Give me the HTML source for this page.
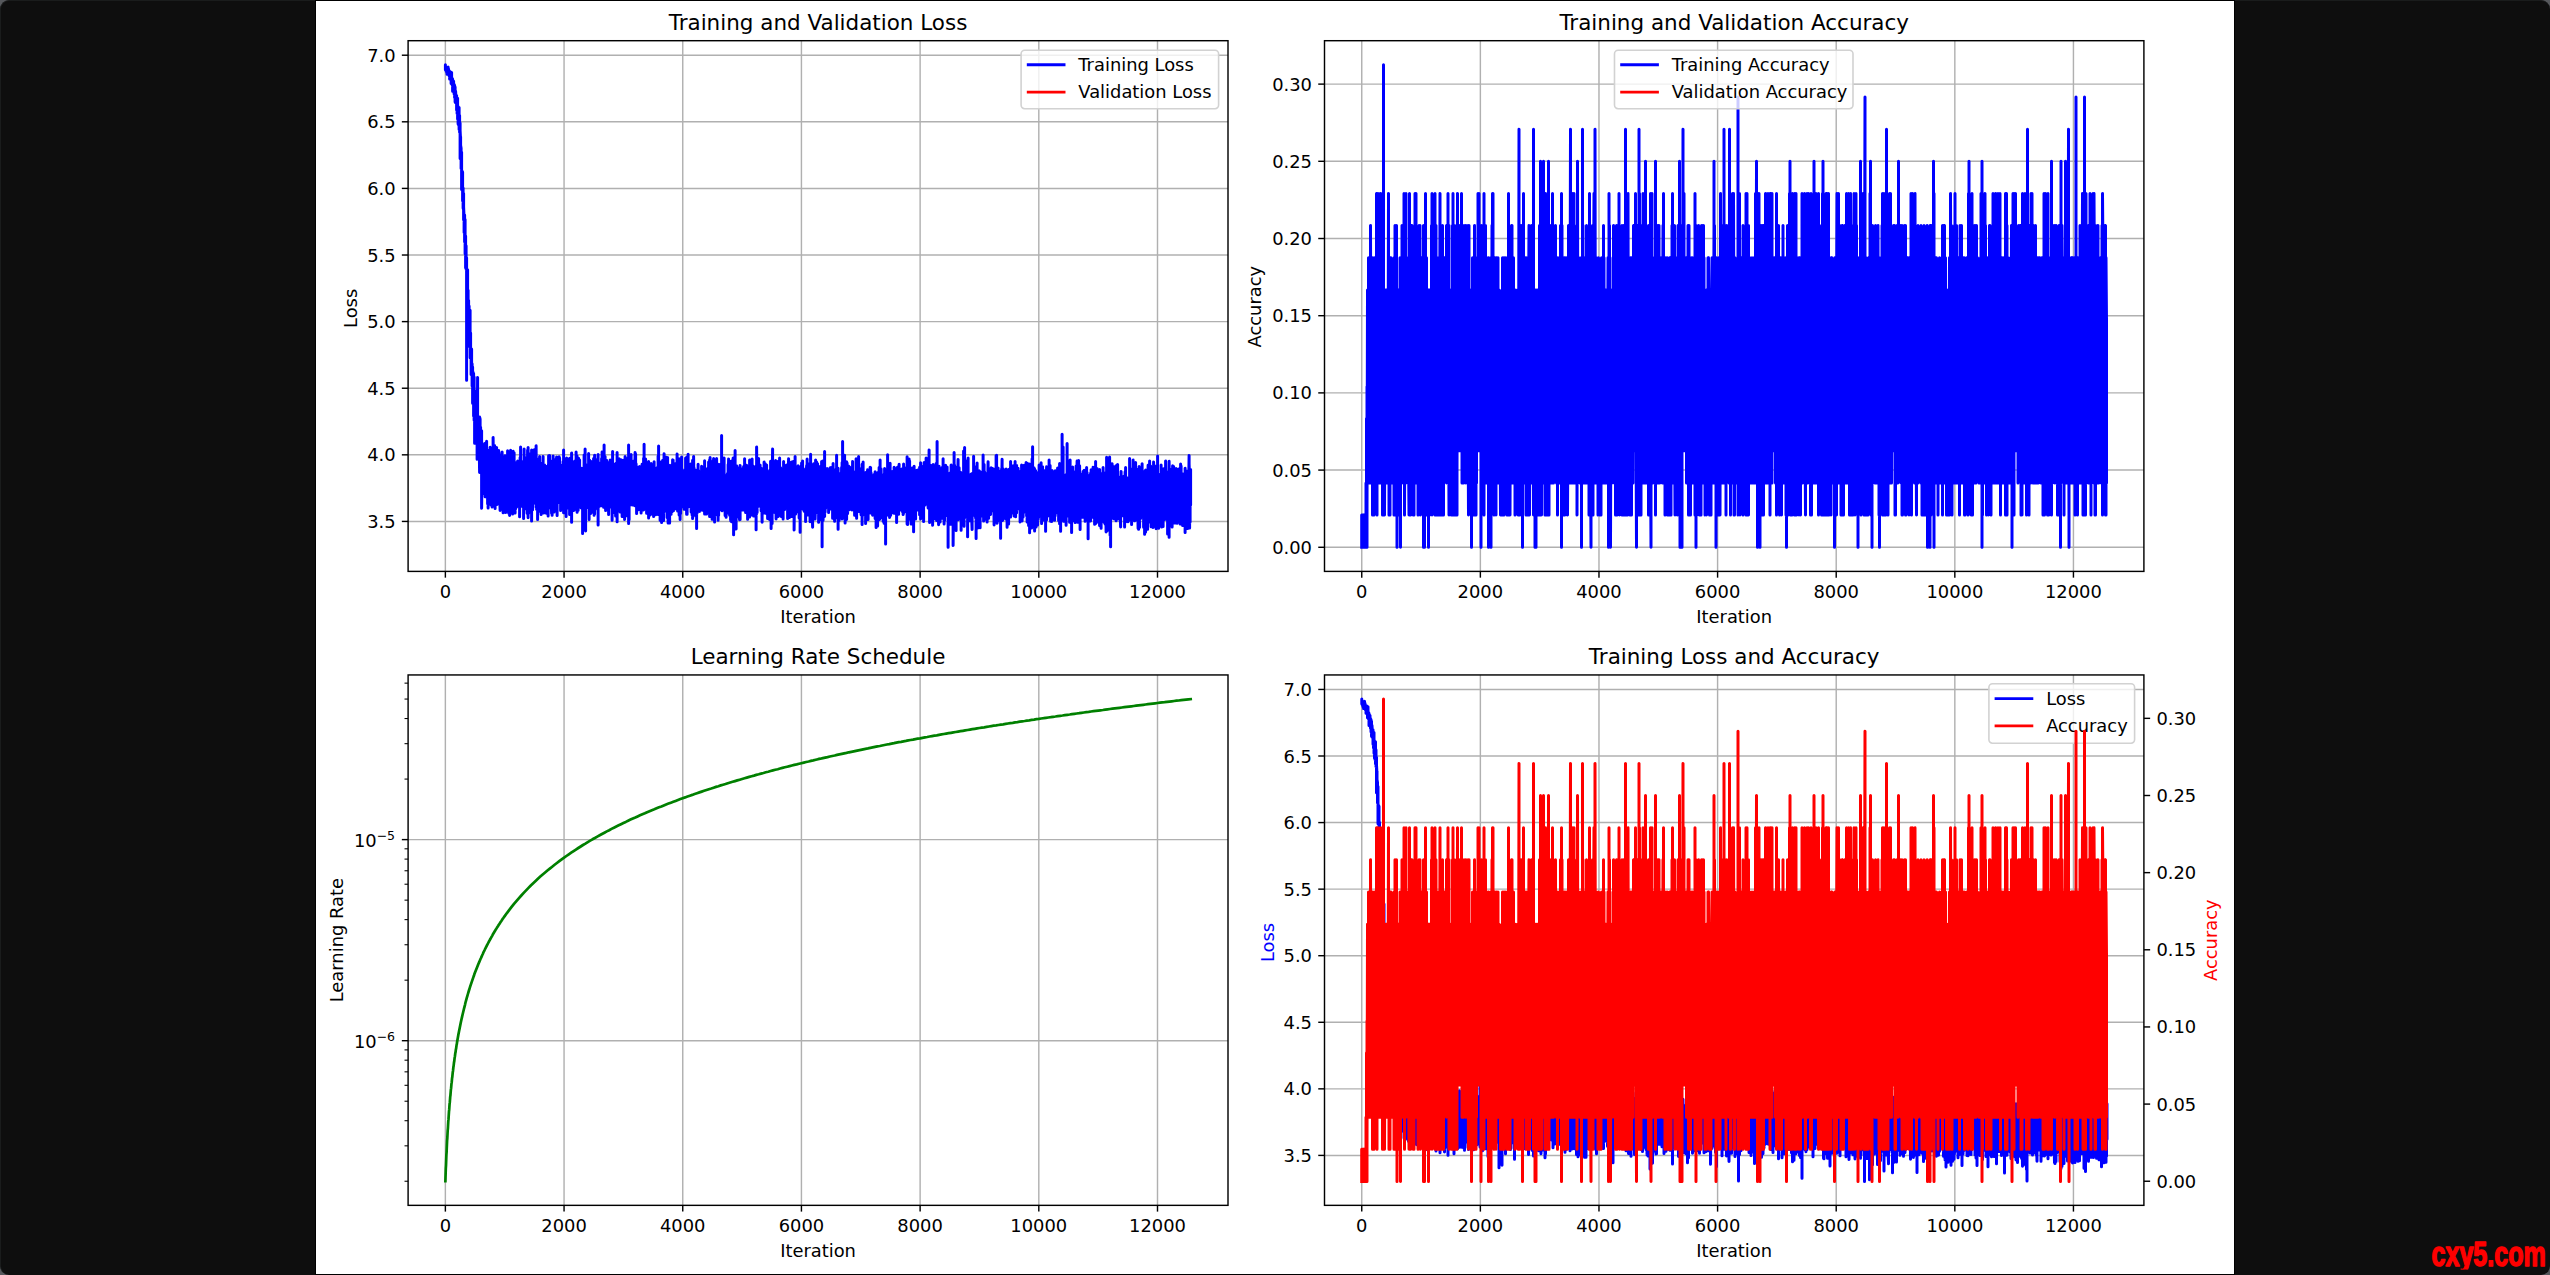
<!DOCTYPE html>
<html><head><meta charset="utf-8"><title>Training curves</title>
<style>
html,body{margin:0;padding:0;background:#56585c;}
body{width:2550px;height:1275px;overflow:hidden;position:relative;}
#win{position:absolute;left:0;top:0;width:2549px;height:1274px;background:#0e0e0e;border-top:1px solid #1a1c1c;border-left:1px solid #1a1c1c;border-radius:9px;}
#fig{position:absolute;left:315.7px;top:0.75px;width:1918.35px;height:1273.2px;background:#fff;box-shadow:0 0 0 1px #000;}
svg{position:absolute;left:0;top:0;}
svg text{font-family:'DejaVu Sans','Liberation Sans',sans-serif;}
</style></head><body>
<div id="win"></div>
<div id="fig"></div>
<svg width="2550" height="1275" viewBox="0 0 2550 1275">
<clipPath id="c1"><rect x="408.10" y="40.70" width="819.90" height="530.70"/></clipPath>
<clipPath id="c2"><rect x="1324.50" y="40.70" width="819.40" height="530.70"/></clipPath>
<clipPath id="c3"><rect x="408.10" y="674.95" width="819.90" height="530.40"/></clipPath>
<clipPath id="c4"><rect x="1324.50" y="674.95" width="819.40" height="530.40"/></clipPath>
<clipPath id="cw"><rect x="0" y="-60" width="400" height="63.7"/></clipPath>
<path d="M445.37,40.70V571.40" stroke="#b0b0b0" stroke-width="1.43"/>
<path d="M564.06,40.70V571.40" stroke="#b0b0b0" stroke-width="1.43"/>
<path d="M682.75,40.70V571.40" stroke="#b0b0b0" stroke-width="1.43"/>
<path d="M801.43,40.70V571.40" stroke="#b0b0b0" stroke-width="1.43"/>
<path d="M920.12,40.70V571.40" stroke="#b0b0b0" stroke-width="1.43"/>
<path d="M1038.81,40.70V571.40" stroke="#b0b0b0" stroke-width="1.43"/>
<path d="M1157.50,40.70V571.40" stroke="#b0b0b0" stroke-width="1.43"/>
<path d="M408.10,521.43H1228.00" stroke="#b0b0b0" stroke-width="1.43"/>
<path d="M408.10,454.83H1228.00" stroke="#b0b0b0" stroke-width="1.43"/>
<path d="M408.10,388.23H1228.00" stroke="#b0b0b0" stroke-width="1.43"/>
<path d="M408.10,321.62H1228.00" stroke="#b0b0b0" stroke-width="1.43"/>
<path d="M408.10,255.02H1228.00" stroke="#b0b0b0" stroke-width="1.43"/>
<path d="M408.10,188.41H1228.00" stroke="#b0b0b0" stroke-width="1.43"/>
<path d="M408.10,121.81H1228.00" stroke="#b0b0b0" stroke-width="1.43"/>
<path d="M408.10,55.21H1228.00" stroke="#b0b0b0" stroke-width="1.43"/>
<defs><path id="pl" d="M445.4,66.2 445.4,64.8 445.4,69.8 445.4,69.2 446.1,69.5 446.1,67.6 446.1,71.3 446.6,69.8 446.6,72.5 446.6,68.9 446.6,69.9 447.1,74.3 447.1,69.6 447.1,71.6 447.6,68.0 447.6,73.2 448.1,70.6 448.1,74.1 448.1,66.9 448.1,69.6 448.6,73.9 448.6,69.1 449.1,74.0 449.1,75.7 449.1,71.0 449.6,76.8 449.6,78.9 449.6,71.6 449.6,73.1 450.1,75.7 450.1,71.6 450.1,76.5 450.6,79.0 450.6,73.7 450.6,78.1 451.1,74.6 451.1,83.6 451.1,80.9 451.6,78.2 451.6,72.6 451.6,81.2 451.6,80.5 452.1,78.1 452.1,84.7 452.1,84.6 452.6,79.1 452.6,91.3 453.1,81.6 453.1,91.4 453.1,81.7 453.6,81.2 453.6,91.4 454.1,91.1 454.1,93.9 454.1,84.3 454.1,91.7 454.6,92.9 454.6,97.4 454.6,85.2 454.6,97.2 455.1,91.5 455.1,87.1 455.1,102.0 455.1,94.8 455.6,94.6 455.6,102.8 455.6,91.3 456.1,100.3 456.1,101.9 456.1,96.8 456.1,100.9 456.6,95.6 456.6,110.0 456.6,104.9 457.1,101.8 457.1,98.5 457.1,113.6 457.1,105.0 457.6,103.4 457.6,98.3 457.6,119.0 457.6,110.9 458.1,106.5 458.1,124.0 458.1,123.2 458.6,115.7 458.6,125.3 458.6,112.9 458.6,121.5 459.1,124.0 459.1,107.6 459.1,129.4 459.6,115.4 459.6,132.3 459.6,131.2 460.1,123.1 460.1,158.5 460.1,130.5 460.6,140.3 460.6,149.8 460.6,136.8 460.6,145.2 461.1,148.2 461.1,168.4 461.1,161.7 461.6,162.1 461.6,152.3 461.6,189.6 461.6,170.3 462.1,173.8 462.1,183.7 462.1,170.9 462.1,182.2 462.6,172.1 462.6,200.7 462.6,187.1 463.1,192.6 463.1,188.1 463.1,208.0 463.6,209.7 463.6,193.6 463.6,219.7 463.6,206.7 464.1,217.9 464.1,232.5 464.1,216.5 464.1,231.1 464.6,221.5 464.6,215.0 464.6,241.8 464.6,231.1 465.1,219.6 465.1,253.8 465.6,238.4 465.6,235.9 465.6,267.7 466.1,256.9 466.1,245.7 466.1,269.3 466.1,267.1 466.6,264.6 466.6,380.2 466.6,257.8 466.6,270.3 467.1,276.2 467.1,297.6 467.1,274.7 467.1,286.1 467.6,301.4 467.6,269.7 467.6,304.6 467.6,295.5 468.1,297.8 468.1,310.3 468.1,290.3 468.1,308.6 468.6,300.4 468.6,324.7 468.6,315.1 469.1,312.3 469.1,305.9 469.1,333.3 469.1,321.1 469.6,336.0 469.6,347.0 469.6,316.1 469.6,318.2 470.1,336.3 470.1,310.3 470.1,357.7 470.6,345.8 470.6,333.0 470.6,357.8 470.6,353.9 471.1,350.8 471.1,348.4 471.1,374.5 471.6,359.6 471.6,349.1 471.6,374.1 471.6,362.9 472.1,370.4 472.1,363.8 472.1,386.0 472.1,376.4 472.6,375.8 472.6,367.0 472.6,403.2 472.6,384.5 473.1,372.3 473.1,402.5 473.1,398.3 473.6,384.1 473.6,416.0 473.6,373.5 473.6,394.0 474.1,398.0 474.1,377.1 474.1,420.2 474.1,419.2 474.6,394.7 474.6,390.5 474.6,443.3 474.6,423.3 475.1,397.7 475.1,431.7 475.1,396.1 475.1,419.8 475.6,426.3 475.6,440.0 475.6,417.1 475.6,419.6 476.1,419.7 476.1,395.6 476.1,432.6 476.1,424.0 476.6,437.6 476.6,416.1 476.6,439.3 476.6,430.4 477.1,435.0 477.1,425.1 477.1,459.3 477.6,377.6 477.6,446.2 477.6,440.9 478.1,432.6 478.1,427.6 478.1,457.4 478.1,429.2 478.6,432.3 478.6,444.9 478.6,428.1 478.6,434.2 479.1,457.4 479.1,422.0 479.1,458.9 479.1,440.5 479.6,472.5 479.6,417.0 480.1,419.1 480.1,457.4 480.1,439.5 480.6,427.8 480.6,451.4 480.6,427.2 480.6,436.9 481.1,455.2 481.1,434.2 481.1,464.9 481.1,450.4 481.6,454.0 481.6,430.8 481.6,508.3 482.1,472.6 482.1,448.0 482.1,460.7 482.6,478.8 482.6,445.1 482.6,453.7 483.1,472.4 483.1,452.1 483.1,492.9 483.1,484.9 483.6,468.0 483.6,493.4 483.6,458.7 483.6,459.1 484.1,476.3 484.1,458.3 484.1,486.1 484.6,472.6 484.6,482.4 484.6,443.6 484.6,446.9 485.1,473.2 485.1,453.4 485.1,496.8 485.6,494.0 485.6,465.6 485.6,468.2 486.1,487.0 486.1,489.0 486.1,459.8 486.1,478.3 486.6,465.9 486.6,497.0 486.6,441.3 486.6,447.9 487.1,479.0 487.1,482.9 487.1,450.1 487.1,453.0 487.6,468.5 487.6,467.0 487.6,503.7 487.6,499.4 488.1,471.6 488.1,508.0 488.1,460.4 488.1,473.4 488.6,461.9 488.6,450.2 488.6,504.3 489.1,472.6 489.1,497.7 489.1,485.8 489.6,500.3 489.6,450.9 489.6,458.3 490.1,478.6 490.1,492.7 490.1,447.3 490.6,479.1 490.6,493.3 490.6,466.0 490.6,474.8 491.1,476.8 491.1,457.5 491.1,505.0 491.1,485.8 491.6,469.8 491.6,460.0 491.6,500.0 491.6,471.6 492.1,491.4 492.1,507.0 492.1,457.8 492.6,481.9 492.6,506.0 492.6,470.0 493.1,480.9 493.1,437.5 493.6,474.1 493.6,499.3 493.6,457.8 493.6,496.2 494.1,502.9 494.1,472.6 494.1,489.8 494.6,480.6 494.6,445.5 494.6,495.7 494.6,486.8 495.1,480.7 495.1,508.6 495.1,478.4 495.6,482.9 495.6,504.3 495.6,469.8 495.6,472.1 496.1,488.4 496.1,496.4 496.1,461.2 496.1,488.9 496.6,482.9 496.6,447.4 496.6,487.6 496.6,487.5 497.1,504.4 497.1,463.3 497.1,469.5 497.6,453.0 497.6,493.7 497.6,475.1 498.1,471.3 498.1,496.7 498.1,469.6 498.6,494.4 498.6,495.8 498.6,450.5 499.1,454.4 499.1,499.3 499.1,467.5 499.6,482.3 499.6,462.8 499.6,490.7 499.6,488.8 500.1,510.4 500.1,468.0 500.1,491.4 500.6,484.4 500.6,500.5 500.6,465.1 500.6,499.4 501.1,486.8 501.1,466.1 501.1,490.8 501.1,477.4 501.6,482.6 501.6,489.8 501.6,467.3 501.6,479.4 502.1,470.4 502.1,451.9 502.1,493.4 502.1,457.5 502.6,459.6 502.6,508.5 502.6,476.4 503.1,473.7 503.1,468.7 503.1,512.7 503.1,494.4 503.6,477.6 503.6,503.5 503.6,468.9 503.6,484.5 504.1,468.6 504.1,468.5 504.1,487.2 504.1,481.6 504.6,494.8 504.6,469.0 504.6,488.4 505.1,455.8 505.1,491.7 505.1,482.2 505.6,486.7 505.6,512.5 505.6,478.0 505.6,485.9 506.1,479.3 506.1,510.2 506.1,461.8 506.1,497.1 506.6,474.3 506.6,501.3 506.6,459.7 506.6,481.4 507.1,496.1 507.1,459.9 507.1,509.6 507.1,487.1 507.6,471.4 507.6,501.6 507.6,450.7 507.6,498.0 508.1,494.9 508.1,469.9 508.1,488.3 508.6,498.2 508.6,513.0 508.6,458.5 508.6,467.7 509.1,498.7 509.1,504.7 509.1,463.8 509.6,515.4 509.6,468.3 510.1,511.9 510.1,473.0 510.1,478.9 510.6,492.6 510.6,503.0 510.6,450.2 510.6,480.6 511.1,486.3 511.1,473.7 511.1,499.6 511.1,484.3 511.6,495.5 511.6,469.8 511.6,485.4 512.1,487.8 512.1,498.1 512.1,465.9 512.1,481.6 512.6,493.2 512.6,468.6 512.6,513.9 512.6,469.7 513.1,475.2 513.1,501.5 513.1,451.2 513.6,466.6 513.6,497.9 513.6,484.6 514.1,482.6 514.1,452.8 514.1,495.1 514.1,490.4 514.6,494.8 514.6,505.6 514.6,476.8 514.6,477.2 515.1,491.8 515.1,462.5 515.1,512.9 515.1,481.0 515.6,488.9 515.6,484.0 515.6,508.8 515.6,495.3 516.1,491.2 516.1,465.6 516.6,485.9 516.6,473.1 516.6,507.1 517.1,495.8 517.1,471.0 517.1,487.4 517.6,476.1 517.6,460.9 517.6,503.9 517.6,466.9 518.1,481.1 518.1,504.2 518.1,467.5 518.1,475.7 518.6,468.5 518.6,466.2 518.6,504.4 518.6,480.0 519.1,489.2 519.1,496.4 519.1,465.1 519.1,472.0 519.6,470.2 519.6,516.7 519.6,468.5 519.6,490.6 520.1,499.2 520.1,457.5 520.1,500.5 520.1,473.8 520.6,490.7 520.6,496.4 520.6,447.0 520.6,493.6 521.1,466.0 521.1,492.2 521.6,491.4 521.6,464.3 521.6,503.9 522.1,499.9 522.1,503.3 522.1,461.7 522.1,471.1 522.6,485.7 522.6,463.2 522.6,506.8 523.1,481.0 523.1,505.3 523.1,469.8 523.1,492.3 523.6,476.2 523.6,518.4 523.6,464.0 523.6,481.0 524.1,503.0 524.1,505.7 524.1,448.9 524.1,475.0 524.6,467.8 524.6,466.9 524.6,500.7 524.6,472.8 525.1,479.0 525.1,501.7 525.1,490.9 525.6,508.8 525.6,458.1 525.6,493.4 526.1,472.5 526.1,462.1 526.1,501.8 526.1,480.1 526.6,480.5 526.6,476.4 526.6,508.0 527.1,488.6 527.1,463.8 527.1,513.3 527.6,450.3 527.6,499.8 527.6,494.0 528.1,517.7 528.1,447.5 528.1,464.2 528.6,484.9 528.6,513.5 528.6,483.4 528.6,486.0 529.1,459.3 529.1,500.9 529.6,488.3 529.6,501.9 529.6,463.2 529.6,499.7 530.1,500.8 530.1,453.7 530.1,480.8 530.6,481.0 530.6,476.7 530.6,507.2 530.6,486.6 531.1,497.2 531.1,503.3 531.1,462.4 531.1,473.5 531.6,489.3 531.6,521.1 531.6,450.0 531.6,464.1 532.1,498.2 532.1,504.1 532.1,469.0 532.6,483.7 532.6,454.0 532.6,509.8 532.6,497.1 533.1,477.8 533.1,498.4 533.1,474.9 533.1,476.2 533.6,492.3 533.6,496.6 533.6,450.1 533.6,487.0 534.1,496.0 534.1,497.9 534.1,475.1 534.1,487.4 534.6,500.7 534.6,449.5 535.1,500.8 535.1,462.6 535.1,479.4 535.6,496.4 535.6,503.8 535.6,458.4 535.6,469.4 536.1,475.1 536.1,507.3 536.1,445.8 536.6,509.5 536.6,465.2 537.1,487.5 537.1,464.1 537.1,501.7 537.1,475.9 537.6,486.3 537.6,519.5 537.6,464.2 537.6,499.1 538.1,465.5 538.1,464.2 538.1,496.7 538.1,484.9 538.6,484.2 538.6,459.0 538.6,500.1 538.6,475.1 539.1,476.3 539.1,507.4 539.1,474.2 539.1,491.3 539.6,479.9 539.6,456.4 539.6,489.7 539.6,479.4 540.1,496.4 540.1,483.9 540.1,511.3 540.1,507.0 540.6,489.7 540.6,501.3 540.6,467.4 540.6,494.2 541.1,491.8 541.1,470.5 541.1,514.5 541.1,496.1 541.6,498.5 541.6,499.5 541.6,479.6 541.6,494.7 542.1,483.2 542.1,463.1 542.1,497.2 542.1,473.5 542.6,495.9 542.6,470.1 542.6,498.6 542.6,491.8 543.1,456.6 543.1,492.3 543.1,482.2 543.6,466.1 543.6,513.1 544.1,473.5 544.1,501.6 544.1,481.2 544.6,483.1 544.6,498.8 544.6,465.1 545.1,474.0 545.1,507.6 545.1,491.8 545.6,483.7 545.6,512.9 545.6,478.6 545.6,503.0 546.1,498.2 546.1,477.4 546.1,479.2 546.6,511.7 546.6,468.9 546.6,483.3 547.1,469.0 547.1,466.3 547.1,497.1 547.1,488.9 547.6,474.9 547.6,513.9 547.6,495.1 548.1,483.9 548.1,516.1 548.1,473.7 548.1,488.2 548.6,474.6 548.6,455.8 548.6,498.5 548.6,469.6 549.1,462.6 549.1,507.7 549.1,496.5 549.6,487.3 549.6,503.6 549.6,455.4 549.6,493.5 550.1,474.7 550.1,461.6 550.1,501.0 550.1,471.9 550.6,483.3 550.6,499.5 550.6,470.1 550.6,475.9 551.1,505.6 551.1,471.7 551.1,499.1 551.6,513.4 551.6,471.8 551.6,489.9 552.1,480.4 552.1,515.2 552.1,461.1 552.6,496.4 552.6,466.8 552.6,470.6 553.1,495.2 553.1,455.9 553.1,495.9 553.6,475.6 553.6,500.6 553.6,469.5 553.6,498.0 554.1,477.8 554.1,511.9 554.1,477.6 554.6,487.6 554.6,503.1 554.6,471.4 554.6,471.8 555.1,464.9 555.1,499.4 555.1,469.6 555.6,474.2 555.6,491.9 555.6,462.6 556.1,486.7 556.1,458.7 556.1,501.9 556.1,494.6 556.6,489.4 556.6,457.1 556.6,498.4 556.6,461.8 557.1,494.4 557.1,477.4 557.1,515.6 557.1,478.2 557.6,491.0 557.6,502.8 557.6,466.0 557.6,474.7 558.1,488.5 558.1,470.8 558.1,488.9 558.1,480.9 558.6,497.0 558.6,459.2 558.6,468.0 559.1,479.5 559.1,456.7 559.1,486.5 559.1,466.9 559.6,485.6 559.6,457.9 559.6,498.4 559.6,473.3 560.1,469.0 560.1,503.6 560.1,494.3 560.6,490.4 560.6,465.6 560.6,510.6 560.6,497.8 561.1,487.3 561.1,476.3 561.1,505.7 561.6,477.6 561.6,499.6 561.6,465.2 561.6,466.9 562.1,495.0 562.1,506.1 562.1,485.0 562.1,501.2 562.6,473.4 562.6,496.2 563.1,462.6 563.1,499.8 563.1,461.5 563.1,492.5 563.6,486.6 563.6,450.1 563.6,512.7 563.6,494.2 564.1,484.0 564.1,501.8 564.1,475.1 564.1,492.5 564.6,492.0 564.6,506.6 564.6,476.1 564.6,490.4 565.1,482.3 565.1,508.4 565.1,463.1 565.6,481.6 565.6,469.2 565.6,505.4 565.6,473.2 566.1,468.2 566.1,516.4 566.1,483.4 566.6,491.7 566.6,457.9 566.6,499.1 566.6,492.7 567.1,491.4 567.1,463.7 567.1,485.7 567.6,461.3 567.6,503.5 567.6,485.4 568.1,490.2 568.1,508.1 568.1,484.1 568.1,494.1 568.6,498.7 568.6,503.6 568.6,461.1 568.6,471.9 569.1,462.9 569.1,497.7 569.1,459.4 569.1,478.4 569.6,501.9 569.6,458.2 569.6,514.4 569.6,490.0 570.1,485.7 570.1,464.8 570.1,489.4 570.1,485.2 570.6,497.5 570.6,469.7 570.6,503.6 570.6,488.5 571.1,479.4 571.1,472.6 571.1,506.0 571.1,483.6 571.6,491.0 571.6,522.3 571.6,453.1 572.1,492.3 572.1,498.5 572.1,465.1 572.1,497.7 572.6,482.0 572.6,470.5 572.6,497.8 572.6,470.6 573.1,502.5 573.1,465.8 573.1,474.4 573.6,478.2 573.6,462.2 573.6,510.4 573.6,490.6 574.1,494.6 574.1,504.8 574.1,466.9 574.1,495.9 574.6,500.4 574.6,504.1 574.6,461.3 575.1,477.5 575.1,507.7 575.1,476.2 575.1,484.8 575.6,493.8 575.6,467.3 575.6,500.4 576.1,503.8 576.1,504.0 576.1,452.1 576.1,500.0 576.6,489.3 576.6,460.5 576.6,510.5 576.6,493.2 577.1,483.7 577.1,512.2 577.1,455.9 577.1,472.9 577.6,472.4 577.6,504.1 577.6,487.4 578.1,510.6 578.1,461.1 578.1,496.3 578.6,470.0 578.6,458.3 578.6,497.6 578.6,466.7 579.1,467.2 579.1,465.4 579.1,499.4 579.1,495.7 579.6,484.4 579.6,506.6 579.6,460.1 579.6,477.2 580.1,470.2 580.1,499.8 580.1,489.9 580.6,499.6 580.6,472.4 580.6,494.5 581.1,491.0 581.1,469.0 581.1,507.9 581.1,483.5 581.6,491.7 581.6,501.0 581.6,468.3 581.6,474.9 582.1,495.4 582.1,471.1 582.1,496.2 582.1,483.5 582.6,485.3 582.6,533.6 582.6,471.0 582.6,482.2 583.1,490.9 583.1,497.8 583.1,470.3 583.1,473.3 583.6,489.1 583.6,475.0 583.6,496.0 584.1,464.1 584.1,491.0 584.1,455.1 584.1,480.7 584.6,478.7 584.6,504.3 584.6,501.1 585.1,504.6 585.1,504.8 585.1,448.9 585.1,497.2 585.6,530.9 585.6,473.2 585.6,477.2 586.1,466.9 586.1,504.0 586.1,464.7 586.1,501.5 586.6,483.6 586.6,491.0 586.6,474.7 586.6,489.7 587.1,487.3 587.1,505.3 587.1,474.0 587.6,499.7 587.6,507.5 587.6,476.2 588.1,489.0 588.1,495.7 588.1,478.3 588.1,485.3 588.6,491.9 588.6,500.1 588.6,453.5 588.6,489.8 589.1,481.5 589.1,519.4 589.1,467.8 589.1,496.1 589.6,488.8 589.6,503.6 589.6,460.2 590.1,476.7 590.1,464.2 590.1,487.5 590.1,483.6 590.6,482.0 590.6,513.4 590.6,485.9 591.1,507.8 591.1,461.5 591.1,480.2 591.6,480.5 591.6,473.7 591.6,504.9 592.1,499.6 592.1,478.4 592.1,510.6 592.1,493.6 592.6,473.8 592.6,492.1 592.6,471.3 592.6,480.0 593.1,484.0 593.1,485.4 593.1,472.7 593.1,484.4 593.6,469.6 593.6,513.1 593.6,458.6 594.1,479.5 594.1,461.0 594.1,515.3 594.1,485.1 594.6,490.5 594.6,514.0 594.6,455.3 595.1,480.3 595.1,471.6 595.1,509.4 595.6,459.5 595.6,506.4 595.6,485.1 596.1,471.4 596.1,500.2 596.1,472.1 596.6,480.1 596.6,503.5 596.6,476.8 596.6,496.7 597.1,474.0 597.1,470.9 597.1,495.9 597.1,491.8 597.6,488.2 597.6,489.4 597.6,465.0 597.6,474.5 598.1,482.3 598.1,454.5 598.1,525.1 598.1,473.0 598.6,475.4 598.6,464.0 598.6,495.8 598.6,490.7 599.1,472.3 599.1,506.6 599.6,500.6 599.6,463.0 599.6,505.9 599.6,490.3 600.1,484.3 600.1,501.3 600.1,471.7 600.1,494.1 600.6,480.8 600.6,475.2 600.6,502.4 600.6,485.7 601.1,491.5 601.1,504.6 601.1,472.1 601.1,501.8 601.6,505.8 601.6,458.5 601.6,505.5 602.1,452.1 602.1,499.6 602.6,504.3 602.6,466.1 602.6,477.6 603.1,479.6 603.1,501.4 603.1,457.6 603.6,492.9 603.6,473.7 603.6,507.3 603.6,501.6 604.1,496.9 604.1,445.1 604.1,497.9 604.1,494.6 604.6,500.1 604.6,488.9 604.6,504.7 604.6,504.0 605.1,480.3 605.1,505.0 605.1,456.4 605.1,470.6 605.6,489.0 605.6,510.6 605.6,476.4 605.6,492.6 606.1,473.8 606.1,499.8 606.1,461.4 606.6,493.9 606.6,460.3 606.6,503.7 606.6,502.9 607.1,470.8 607.1,509.7 607.1,465.1 607.1,478.9 607.6,491.8 607.6,508.4 607.6,465.8 608.1,490.6 608.1,468.6 608.1,506.5 608.1,501.5 608.6,492.5 608.6,479.1 608.6,514.4 608.6,493.1 609.1,498.7 609.1,502.5 609.1,484.8 609.1,494.8 609.6,479.8 609.6,499.6 609.6,461.7 609.6,468.3 610.1,466.7 610.1,497.0 610.1,460.0 610.1,488.6 610.6,469.5 610.6,500.3 610.6,472.2 611.1,480.0 611.1,463.3 611.1,507.1 611.1,492.4 611.6,495.8 611.6,496.6 611.6,472.9 611.6,494.9 612.1,496.1 612.1,465.9 612.1,520.2 612.1,478.3 612.6,488.3 612.6,498.9 612.6,451.4 612.6,475.7 613.1,497.2 613.1,507.8 613.1,474.8 613.1,491.9 613.6,496.7 613.6,503.9 613.6,471.6 613.6,483.0 614.1,486.4 614.1,512.6 614.1,468.1 614.1,491.7 614.6,491.2 614.6,473.7 614.6,497.2 615.1,464.0 615.1,500.4 615.6,494.8 615.6,515.9 615.6,470.5 615.6,482.9 616.1,478.4 616.1,463.3 616.1,494.2 616.1,492.5 616.6,487.7 616.6,476.7 616.6,508.6 617.1,494.5 617.1,521.8 617.1,452.5 617.1,467.7 617.6,466.1 617.6,501.1 617.6,490.0 618.1,473.4 618.1,471.2 618.1,506.2 618.1,487.1 618.6,496.6 618.6,473.6 618.6,487.0 619.1,475.3 619.1,501.5 619.1,458.8 619.1,483.2 619.6,489.2 619.6,467.4 619.6,497.4 619.6,468.6 620.1,482.5 620.1,471.0 620.1,512.1 620.1,475.2 620.6,502.3 620.6,477.0 620.6,508.4 620.6,505.8 621.1,482.5 621.1,459.8 621.1,489.0 621.6,473.9 621.6,472.1 621.6,503.5 621.6,501.8 622.1,462.7 622.1,516.4 622.1,507.4 622.6,483.0 622.6,478.7 622.6,514.0 622.6,502.6 623.1,493.7 623.1,460.2 623.1,508.6 623.6,483.0 623.6,473.5 623.6,501.4 623.6,494.5 624.1,488.0 624.1,474.4 624.1,507.1 624.6,476.4 624.6,468.4 624.6,519.6 625.1,475.0 625.1,456.6 625.1,502.1 625.1,489.0 625.6,479.3 625.6,478.0 625.6,495.3 625.6,488.4 626.1,488.4 626.1,466.1 626.1,504.7 626.1,486.8 626.6,483.3 626.6,460.1 626.6,515.8 626.6,480.9 627.1,500.3 627.1,504.5 627.1,458.4 627.1,480.4 627.6,478.3 627.6,469.0 627.6,499.7 627.6,494.9 628.1,482.3 628.1,499.1 628.1,473.6 628.1,486.5 628.6,459.6 628.6,445.0 628.6,523.5 628.6,484.3 629.1,461.6 629.1,519.8 629.1,491.1 629.6,477.7 629.6,501.6 629.6,472.3 630.1,487.0 630.1,504.7 630.1,469.0 630.1,486.4 630.6,491.1 630.6,458.4 630.6,503.7 630.6,477.3 631.1,476.8 631.1,501.2 631.1,454.4 631.1,496.6 631.6,488.5 631.6,475.2 631.6,504.8 631.6,487.9 632.1,473.6 632.1,490.0 632.1,480.8 632.6,490.9 632.6,505.1 632.6,466.0 632.6,475.4 633.1,469.5 633.1,499.6 633.1,473.4 633.6,493.0 633.6,461.0 633.6,496.0 633.6,465.1 634.1,478.8 634.1,505.2 634.1,474.3 634.1,487.1 634.6,465.0 634.6,496.0 634.6,480.3 635.1,452.5 635.1,505.7 635.1,482.9 635.6,462.7 635.6,454.0 635.6,498.4 635.6,466.0 636.1,478.7 636.1,482.5 636.1,463.8 636.1,480.1 636.6,487.9 636.6,483.4 636.6,513.5 636.6,486.5 637.1,478.3 637.1,470.2 637.1,502.8 637.1,473.9 637.6,471.6 637.6,510.0 637.6,485.3 638.1,478.4 638.1,505.8 638.1,471.7 638.1,492.8 638.6,471.1 638.6,467.1 638.6,499.0 639.1,505.8 639.1,468.1 639.1,470.6 639.6,468.3 639.6,509.6 639.6,466.6 639.6,504.7 640.1,478.0 640.1,469.6 640.1,505.3 640.1,501.4 640.6,494.8 640.6,500.4 640.6,467.9 641.1,482.7 641.1,480.5 641.1,513.1 641.1,485.6 641.6,497.3 641.6,466.4 641.6,499.4 641.6,480.0 642.1,464.3 642.1,510.1 642.1,473.8 642.6,493.0 642.6,473.9 642.6,487.6 643.1,500.0 643.1,500.8 643.1,480.1 643.6,509.9 643.6,458.3 644.1,501.0 644.1,444.2 644.1,487.6 644.6,478.3 644.6,502.6 644.6,472.2 644.6,473.7 645.1,481.6 645.1,501.3 645.1,466.9 645.6,458.9 645.6,492.0 645.6,489.9 646.1,485.3 646.1,500.0 646.1,472.7 646.1,473.6 646.6,499.0 646.6,474.8 646.6,513.3 646.6,482.8 647.1,506.5 647.1,512.7 647.1,465.6 647.1,485.5 647.6,494.0 647.6,510.5 647.6,474.7 647.6,492.0 648.1,482.5 648.1,462.2 648.1,501.5 648.6,498.9 648.6,461.5 648.6,517.9 648.6,495.4 649.1,481.4 649.1,465.8 649.1,515.9 649.6,468.1 649.6,492.9 649.6,467.8 649.6,468.3 650.1,514.9 650.1,463.8 650.1,493.3 650.6,491.1 650.6,497.7 650.6,470.0 650.6,482.2 651.1,488.5 651.1,463.6 651.1,492.5 651.6,475.5 651.6,511.0 651.6,476.6 652.1,503.9 652.1,473.5 652.1,514.1 652.1,499.1 652.6,510.6 652.6,475.2 652.6,492.2 653.1,479.1 653.1,500.0 653.1,464.7 653.6,491.9 653.6,516.5 653.6,479.4 653.6,496.7 654.1,492.0 654.1,506.9 654.1,461.7 654.1,481.0 654.6,489.0 654.6,470.9 654.6,507.8 655.1,499.9 655.1,508.2 655.1,473.2 655.1,486.1 655.6,485.8 655.6,478.7 655.6,514.7 655.6,485.0 656.1,490.6 656.1,477.8 656.1,499.8 656.1,495.3 656.6,485.0 656.6,503.6 656.6,468.1 656.6,488.9 657.1,491.2 657.1,505.3 657.1,468.4 657.1,489.9 657.6,485.6 657.6,478.4 657.6,499.5 658.1,474.1 658.1,514.6 658.1,456.0 658.1,489.3 658.6,479.2 658.6,446.1 658.6,494.2 658.6,482.2 659.1,481.9 659.1,477.1 659.1,506.6 659.1,494.7 659.6,496.7 659.6,506.2 659.6,485.6 659.6,498.4 660.1,475.4 660.1,520.2 660.1,485.4 660.6,498.3 660.6,461.9 660.6,504.6 660.6,490.6 661.1,482.9 661.1,503.6 661.1,477.2 661.1,496.5 661.6,474.8 661.6,472.5 661.6,522.6 661.6,486.0 662.1,491.0 662.1,505.4 662.1,468.3 662.6,498.8 662.6,460.2 662.6,506.0 662.6,491.0 663.1,467.9 663.1,507.9 663.1,459.9 663.1,478.2 663.6,490.4 663.6,520.5 663.6,485.0 663.6,487.7 664.1,453.8 664.1,511.7 664.1,479.6 664.6,502.7 664.6,474.9 664.6,486.1 665.1,475.3 665.1,502.0 665.1,464.6 665.6,478.3 665.6,499.3 665.6,457.1 666.1,483.3 666.1,474.2 666.1,501.3 666.1,480.7 666.6,505.9 666.6,508.1 666.6,472.0 666.6,497.9 667.1,486.5 667.1,517.5 667.1,479.9 667.1,497.8 667.6,500.5 667.6,457.4 667.6,513.2 667.6,510.0 668.1,480.0 668.1,472.5 668.1,523.0 668.1,484.7 668.6,499.5 668.6,505.5 668.6,464.9 668.6,492.7 669.1,494.5 669.1,502.1 669.1,470.6 669.6,485.0 669.6,523.1 669.6,474.8 669.6,478.7 670.1,493.3 670.1,509.3 670.1,479.3 670.1,496.6 670.6,482.8 670.6,504.3 670.6,465.5 671.1,481.7 671.1,514.2 671.1,467.4 671.1,479.0 671.6,480.5 671.6,508.2 671.6,464.9 671.6,491.9 672.1,511.7 672.1,476.8 672.6,474.1 672.6,497.0 672.6,459.7 672.6,484.8 673.1,475.9 673.1,509.9 673.1,460.1 673.1,471.9 673.6,478.5 673.6,475.3 673.6,510.7 674.1,500.7 674.1,509.2 674.1,471.1 674.6,494.1 674.6,470.2 674.6,506.1 674.6,479.6 675.1,492.4 675.1,469.1 675.1,492.8 675.1,491.5 675.6,483.4 675.6,500.1 675.6,463.6 675.6,486.5 676.1,471.5 676.1,463.6 676.1,502.6 676.1,466.2 676.6,500.7 676.6,476.6 676.6,509.1 676.6,500.9 677.1,454.0 677.1,504.4 677.1,480.2 677.6,496.5 677.6,470.7 677.6,511.1 677.6,493.3 678.1,475.7 678.1,468.1 678.1,498.4 678.6,485.0 678.6,510.9 678.6,460.1 679.1,486.8 679.1,515.0 679.1,458.8 679.1,487.4 679.6,478.8 679.6,498.2 679.6,475.1 679.6,483.5 680.1,486.9 680.1,468.6 680.1,519.6 680.1,499.6 680.6,513.7 680.6,471.6 680.6,488.9 681.1,494.8 681.1,466.3 681.1,505.9 681.1,497.1 681.6,476.0 681.6,457.1 681.6,503.4 682.1,493.8 682.1,504.9 682.1,469.4 682.6,486.9 682.6,501.1 682.6,473.7 682.6,500.6 683.1,471.1 683.1,506.8 683.1,490.3 683.6,480.7 683.6,506.5 683.6,488.9 684.1,485.2 684.1,509.2 684.1,470.7 684.1,481.2 684.6,487.9 684.6,501.2 684.6,484.2 684.6,489.7 685.1,479.5 685.1,501.2 685.1,490.6 685.6,493.1 685.6,458.0 685.6,502.8 685.6,464.2 686.1,475.5 686.1,475.2 686.1,493.2 686.1,475.9 686.6,483.4 686.6,514.2 686.6,457.2 686.6,498.8 687.1,484.1 687.1,470.0 687.1,514.3 687.1,483.9 687.6,496.9 687.6,507.6 687.6,461.4 687.6,480.0 688.1,480.6 688.1,503.1 688.1,454.2 688.1,478.3 688.6,482.2 688.6,505.3 688.6,465.1 689.1,467.9 689.1,501.7 689.1,478.6 689.6,485.0 689.6,467.3 689.6,499.1 689.6,475.7 690.1,482.7 690.1,506.8 690.1,464.7 690.1,482.2 690.6,479.0 690.6,463.9 690.6,507.2 690.6,489.6 691.1,487.7 691.1,466.2 691.1,512.0 691.1,481.9 691.6,493.0 691.6,474.6 691.6,506.4 691.6,476.7 692.1,495.1 692.1,473.2 692.1,514.9 692.1,488.7 692.6,478.4 692.6,460.3 692.6,518.6 692.6,468.8 693.1,481.5 693.1,472.1 693.1,499.6 693.1,473.4 693.6,469.7 693.6,506.8 693.6,456.5 694.1,501.4 694.1,468.1 694.1,494.9 694.6,508.7 694.6,474.3 694.6,479.7 695.1,481.0 695.1,475.0 695.1,514.2 695.1,509.5 695.6,515.9 695.6,474.3 695.6,482.7 696.1,486.1 696.1,516.5 696.1,470.2 696.1,494.2 696.6,473.2 696.6,528.5 696.6,477.5 697.1,478.7 697.1,513.0 697.1,476.8 697.1,506.7 697.6,502.4 697.6,476.5 697.6,505.3 697.6,476.7 698.1,497.2 698.1,504.8 698.1,464.3 698.1,487.5 698.6,470.4 698.6,502.4 698.6,487.6 699.1,471.6 699.1,506.5 699.1,494.3 699.6,511.5 699.6,482.3 699.6,502.3 700.1,479.3 700.1,510.5 700.1,495.0 700.6,480.9 700.6,477.6 700.6,492.4 701.1,484.3 701.1,474.1 701.1,505.3 701.1,489.3 701.6,490.2 701.6,494.8 701.6,466.3 701.6,469.2 702.1,480.4 702.1,501.3 702.1,488.8 702.6,491.0 702.6,470.0 702.6,510.3 702.6,481.4 703.1,483.4 703.1,507.2 703.1,470.2 703.6,506.1 703.6,471.4 703.6,480.1 704.1,488.6 704.1,473.3 704.1,503.2 704.1,483.5 704.6,486.1 704.6,460.7 704.6,514.0 704.6,499.1 705.1,508.6 705.1,473.3 705.1,494.9 705.6,474.3 705.6,496.8 705.6,468.9 705.6,477.3 706.1,506.6 706.1,471.1 706.1,489.1 706.6,504.6 706.6,481.7 706.6,514.0 706.6,484.9 707.1,473.7 707.1,505.6 707.1,496.4 707.6,486.5 707.6,510.0 707.6,468.6 708.1,475.3 708.1,512.2 708.1,491.9 708.6,466.0 708.6,501.7 708.6,462.1 708.6,501.2 709.1,485.1 709.1,493.5 709.1,463.5 709.1,474.2 709.6,492.5 709.6,459.7 709.6,516.5 709.6,475.2 710.1,499.2 710.1,503.0 710.1,457.6 710.1,479.3 710.6,479.2 710.6,508.6 710.6,478.9 710.6,490.1 711.1,496.6 711.1,508.8 711.1,475.8 711.6,485.7 711.6,477.8 711.6,513.1 711.6,505.1 712.1,488.9 712.1,519.3 712.1,463.4 712.1,470.1 712.6,487.7 712.6,507.7 712.6,476.5 712.6,485.6 713.1,511.8 713.1,460.5 713.1,518.2 713.6,476.5 713.6,458.5 713.6,512.6 713.6,493.7 714.1,491.1 714.1,517.8 714.1,476.1 714.1,476.4 714.6,487.6 714.6,466.5 714.6,522.1 714.6,485.5 715.1,499.7 715.1,515.3 715.1,477.1 715.6,464.6 715.6,514.6 715.6,496.6 716.1,492.8 716.1,466.5 716.1,510.5 716.1,480.1 716.6,486.6 716.6,458.6 716.6,513.2 716.6,484.4 717.1,498.8 717.1,466.4 717.1,505.3 717.1,480.7 717.6,492.8 717.6,464.0 717.6,510.9 717.6,493.2 718.1,494.9 718.1,520.2 718.1,471.5 718.1,503.4 718.6,477.2 718.6,515.6 718.6,472.8 719.1,491.5 719.1,495.6 719.1,476.8 719.6,488.9 719.6,464.4 719.6,509.9 719.6,470.7 720.1,481.9 720.1,478.9 720.1,506.5 720.1,503.4 720.6,493.8 720.6,479.2 720.6,506.4 720.6,492.2 721.1,468.9 721.1,504.2 721.1,478.9 721.6,480.9 721.6,503.0 721.6,435.4 721.6,487.9 722.1,502.3 722.1,510.7 722.1,468.8 722.1,474.7 722.6,496.4 722.6,507.3 722.6,480.8 722.6,496.4 723.1,484.3 723.1,508.3 723.1,469.7 723.1,471.0 723.6,465.6 723.6,508.6 723.6,493.0 724.1,457.9 724.1,506.6 724.6,498.9 724.6,506.4 724.6,478.6 724.6,492.2 725.1,503.7 725.1,515.6 725.1,476.3 725.1,505.6 725.6,495.7 725.6,507.3 725.6,478.0 725.6,483.1 726.1,504.3 726.1,481.9 726.1,517.2 726.1,483.5 726.6,477.3 726.6,504.2 726.6,486.5 727.1,474.5 727.1,506.8 727.1,476.3 727.6,509.9 727.6,473.2 727.6,492.1 728.1,492.3 728.1,464.4 728.1,501.2 728.1,486.3 728.6,459.0 728.6,513.0 728.6,475.9 729.1,508.9 729.1,469.4 729.1,474.8 729.6,488.3 729.6,461.5 729.6,515.2 729.6,505.4 730.1,492.0 730.1,461.3 730.1,500.5 730.1,484.0 730.6,485.9 730.6,464.8 730.6,520.4 731.1,493.3 731.1,499.7 731.1,469.4 731.1,492.7 731.6,504.6 731.6,470.5 731.6,521.7 731.6,490.2 732.1,494.8 732.1,460.7 732.1,503.0 732.1,488.9 732.6,498.0 732.6,479.9 732.6,511.1 732.6,497.6 733.1,499.3 733.1,457.9 733.6,491.7 733.6,534.7 733.6,480.5 733.6,496.2 734.1,473.9 734.1,465.8 734.1,501.5 734.1,469.5 734.6,490.8 734.6,472.7 734.6,499.0 735.1,490.7 735.1,450.5 735.1,496.3 735.1,478.9 735.6,489.0 735.6,492.6 735.6,477.6 735.6,478.7 736.1,528.9 736.1,476.6 736.1,490.3 736.6,488.4 736.6,465.7 736.6,515.3 736.6,493.7 737.1,490.2 737.1,475.0 737.1,492.1 737.1,484.8 737.6,485.4 737.6,505.1 737.6,471.7 737.6,491.8 738.1,489.0 738.1,499.2 738.1,475.2 738.6,513.8 738.6,475.8 738.6,487.7 739.1,517.6 739.1,467.7 739.1,515.6 739.6,519.8 739.6,468.6 739.6,489.8 740.1,465.4 740.1,519.4 740.1,492.2 740.6,473.6 740.6,498.6 740.6,472.7 740.6,480.8 741.1,481.4 741.1,477.1 741.1,501.2 741.1,483.3 741.6,499.1 741.6,468.8 741.6,509.7 742.1,487.1 742.1,474.2 742.1,495.4 742.6,492.0 742.6,481.8 742.6,509.9 742.6,498.7 743.1,499.1 743.1,479.8 743.1,510.1 743.6,488.4 743.6,503.3 743.6,466.4 743.6,489.4 744.1,468.4 744.1,501.3 744.1,466.5 744.1,499.9 744.6,477.9 744.6,495.6 744.6,458.8 744.6,476.7 745.1,473.8 745.1,469.4 745.1,504.7 745.1,469.7 745.6,480.1 745.6,475.2 745.6,512.4 746.1,478.4 746.1,501.4 746.1,486.9 746.6,465.2 746.6,498.0 746.6,467.7 747.1,495.7 747.1,501.4 747.1,477.5 747.1,494.5 747.6,491.3 747.6,469.2 747.6,519.2 747.6,480.7 748.1,472.3 748.1,503.1 748.1,470.8 748.6,482.5 748.6,471.1 748.6,507.5 748.6,487.8 749.1,483.8 749.1,516.3 749.1,470.9 749.6,503.2 749.6,517.1 749.6,459.9 750.1,481.6 750.1,463.1 750.1,509.5 750.6,503.5 750.6,508.3 750.6,481.6 751.1,505.9 751.1,477.7 751.1,491.5 751.6,462.9 751.6,499.2 751.6,488.2 752.1,498.0 752.1,514.9 752.1,459.1 752.1,484.9 752.6,475.8 752.6,472.2 752.6,504.3 753.1,503.8 753.1,506.8 753.1,466.1 753.1,489.9 753.6,476.1 753.6,515.9 753.6,473.8 753.6,485.0 754.1,478.8 754.1,499.8 754.1,472.6 754.6,467.8 754.6,499.0 755.1,477.5 755.1,491.1 755.1,467.0 755.1,472.8 755.6,488.3 755.6,477.5 755.6,500.9 755.6,481.6 756.1,478.2 756.1,529.8 756.1,471.2 756.6,511.3 756.6,513.7 756.6,447.1 757.1,494.2 757.1,512.6 757.1,482.0 757.6,495.4 757.6,506.8 757.6,478.0 757.6,488.8 758.1,486.3 758.1,462.5 758.1,501.5 758.1,495.2 758.6,481.7 758.6,458.4 758.6,503.5 758.6,486.2 759.1,477.5 759.1,472.3 759.1,492.0 759.1,489.8 759.6,494.4 759.6,503.9 759.6,466.9 759.6,501.7 760.1,469.3 760.1,465.0 760.1,503.1 760.1,500.6 760.6,483.6 760.6,473.1 760.6,507.1 760.6,504.6 761.1,503.7 761.1,510.7 761.1,482.4 761.1,501.2 761.6,468.4 761.6,510.3 761.6,481.8 762.1,522.2 762.1,475.9 762.1,479.9 762.6,492.4 762.6,473.4 762.6,501.1 763.1,485.8 763.1,477.0 763.1,509.7 763.1,481.9 763.6,496.9 763.6,473.4 763.6,504.0 763.6,489.0 764.1,495.2 764.1,513.1 764.1,462.1 764.6,493.7 764.6,512.2 764.6,473.8 764.6,488.8 765.1,469.4 765.1,511.9 765.1,463.7 765.6,489.9 765.6,503.7 765.6,476.3 765.6,481.9 766.1,513.6 766.1,465.4 766.1,504.2 766.6,497.8 766.6,512.8 766.6,465.0 766.6,483.3 767.1,486.4 767.1,473.2 767.1,500.6 767.6,472.3 767.6,518.6 767.6,509.5 768.1,513.6 768.1,477.7 768.1,495.3 768.6,499.6 768.6,478.1 768.6,511.6 768.6,494.3 769.1,497.0 769.1,514.5 769.1,479.6 769.1,489.2 769.6,496.3 769.6,470.5 769.6,519.4 769.6,482.9 770.1,509.0 770.1,479.7 770.1,490.7 770.6,494.3 770.6,461.2 770.6,502.0 770.6,466.0 771.1,501.6 771.1,528.5 771.1,466.0 771.1,512.6 771.6,496.3 771.6,468.0 771.6,512.3 771.6,506.5 772.1,489.8 772.1,464.7 772.1,523.5 772.1,490.2 772.6,449.1 772.6,502.0 772.6,479.2 773.1,486.2 773.1,505.0 773.1,474.4 773.1,485.2 773.6,463.5 773.6,508.3 773.6,486.1 774.1,482.7 774.1,496.1 774.1,478.5 774.1,478.7 774.6,512.5 774.6,466.4 774.6,479.2 775.1,508.7 775.1,508.9 775.1,470.0 775.6,487.6 775.6,504.6 775.6,460.6 775.6,474.0 776.1,519.0 776.1,476.3 776.1,502.1 776.6,495.3 776.6,468.9 776.6,506.8 776.6,478.7 777.1,493.4 777.1,516.3 777.1,461.5 777.6,477.0 777.6,502.5 777.6,497.6 778.1,508.5 778.1,481.9 778.1,516.5 778.1,505.5 778.6,512.0 778.6,481.3 778.6,509.1 779.1,490.6 779.1,495.3 779.1,474.2 779.1,475.9 779.6,483.5 779.6,458.1 779.6,489.3 780.1,492.6 780.1,515.3 780.1,485.6 780.1,486.1 780.6,487.7 780.6,467.7 780.6,504.8 780.6,489.0 781.1,516.5 781.1,481.1 781.1,495.6 781.6,512.7 781.6,469.3 781.6,479.1 782.1,488.1 782.1,502.0 782.1,476.1 782.1,494.5 782.6,483.4 782.6,509.0 782.6,474.1 783.1,511.6 783.1,519.0 783.1,487.5 783.6,488.5 783.6,461.4 783.6,500.8 783.6,494.4 784.1,474.0 784.1,503.0 784.1,502.7 784.6,499.5 784.6,477.1 784.6,509.5 784.6,481.3 785.1,477.3 785.1,493.4 785.1,466.9 785.6,479.4 785.6,465.6 785.6,501.1 785.6,487.6 786.1,471.8 786.1,499.1 786.1,497.5 786.6,485.1 786.6,464.9 786.6,494.5 787.1,480.6 787.1,505.7 787.1,482.8 787.6,489.9 787.6,480.2 787.6,518.6 787.6,515.0 788.1,469.6 788.1,513.5 788.1,465.5 788.1,477.3 788.6,458.7 788.6,506.6 788.6,496.6 789.1,489.9 789.1,487.8 789.1,508.0 789.1,499.2 789.6,485.7 789.6,462.4 789.6,517.5 790.1,493.4 790.1,468.2 790.1,507.4 790.1,494.6 790.6,473.7 790.6,463.6 790.6,505.6 790.6,488.2 791.1,484.6 791.1,512.1 791.1,477.4 791.1,495.2 791.6,497.0 791.6,512.4 791.6,461.9 791.6,490.6 792.1,482.1 792.1,473.8 792.1,516.4 792.6,491.0 792.6,515.1 792.6,479.8 792.6,495.9 793.1,511.1 793.1,513.3 793.1,461.4 793.6,483.6 793.6,505.3 793.6,467.8 794.1,488.7 794.1,471.1 794.1,530.0 794.6,485.1 794.6,463.5 794.6,512.7 794.6,497.4 795.1,475.5 795.1,456.4 795.1,508.2 795.6,472.1 795.6,513.9 795.6,477.3 796.1,494.4 796.1,468.8 796.1,508.9 796.6,497.0 796.6,479.5 796.6,486.8 797.1,489.6 797.1,511.8 797.1,472.9 797.1,474.7 797.6,488.7 797.6,501.5 797.6,475.2 797.6,478.5 798.1,486.2 798.1,509.4 798.1,465.7 798.1,490.6 798.6,489.5 798.6,508.7 798.6,476.6 798.6,486.3 799.1,470.8 799.1,518.1 799.1,492.7 799.6,496.3 799.6,496.9 799.6,476.6 799.6,477.3 800.1,480.0 800.1,532.2 800.1,470.5 800.1,497.2 800.6,487.0 800.6,482.5 800.6,507.5 800.6,490.6 801.1,503.2 801.1,503.3 801.1,466.1 801.1,473.6 801.6,491.6 801.6,463.1 801.6,508.5 801.6,494.1 802.1,493.2 802.1,468.7 802.1,505.9 802.1,486.6 802.6,473.4 802.6,460.9 802.6,498.1 802.6,473.4 803.1,482.9 803.1,479.7 803.1,509.3 803.6,470.2 803.6,493.8 803.6,475.3 804.1,474.2 804.1,472.3 804.1,510.9 804.1,494.2 804.6,478.4 804.6,472.1 804.6,511.6 804.6,494.3 805.1,482.0 805.1,501.5 805.1,476.2 805.1,486.8 805.6,485.8 805.6,468.8 805.6,521.4 805.6,474.2 806.1,503.2 806.1,477.7 806.1,513.9 806.1,500.1 806.6,465.7 806.6,503.2 806.6,491.8 807.1,476.9 807.1,458.9 807.1,513.5 807.1,507.7 807.6,501.7 807.6,476.3 807.6,493.2 808.1,474.3 808.1,467.1 808.1,514.9 808.6,486.1 808.6,506.7 808.6,463.8 808.6,490.3 809.1,504.4 809.1,476.5 809.1,487.5 809.6,484.9 809.6,478.9 809.6,512.3 809.6,485.5 810.1,521.7 810.1,466.3 810.1,492.6 810.6,472.0 810.6,504.0 810.6,454.3 810.6,488.3 811.1,506.5 811.1,469.2 811.1,493.3 811.6,486.6 811.6,499.6 811.6,483.7 811.6,490.8 812.1,504.6 812.1,487.2 812.1,507.4 812.6,527.2 812.6,481.4 812.6,486.0 813.1,496.0 813.1,510.2 813.1,465.8 813.1,486.1 813.6,491.4 813.6,463.8 813.6,514.2 813.6,484.1 814.1,487.9 814.1,504.0 814.1,497.2 814.6,481.1 814.6,503.9 814.6,500.2 815.1,501.3 815.1,476.1 815.1,519.1 815.6,501.5 815.6,513.4 815.6,460.1 815.6,488.1 816.1,494.5 816.1,469.7 816.1,510.4 816.1,500.4 816.6,472.1 816.6,511.3 816.6,461.9 816.6,496.7 817.1,488.3 817.1,479.4 817.1,505.3 817.1,497.9 817.6,510.8 817.6,511.4 817.6,463.8 817.6,498.4 818.1,474.8 818.1,513.3 818.1,499.3 818.6,484.3 818.6,474.7 818.6,522.3 818.6,483.5 819.1,484.3 819.1,510.9 819.1,479.5 819.1,484.7 819.6,502.2 819.6,476.8 819.6,519.4 819.6,502.7 820.1,472.8 820.1,513.6 820.1,466.6 820.1,486.6 820.6,483.9 820.6,477.2 820.6,503.4 821.1,481.2 821.1,474.9 821.1,511.2 821.1,501.4 821.6,513.8 821.6,461.5 821.6,497.8 822.1,502.3 822.1,470.1 822.1,546.7 822.1,481.3 822.6,474.7 822.6,510.3 822.6,460.9 822.6,486.1 823.1,504.9 823.1,520.2 823.1,471.2 823.1,512.6 823.6,479.9 823.6,516.0 823.6,504.1 824.1,508.4 824.1,477.0 824.1,499.5 824.6,516.6 824.6,451.4 824.6,484.9 825.1,499.8 825.1,511.9 825.1,469.8 825.1,485.2 825.6,476.7 825.6,508.4 825.6,484.4 826.1,486.3 826.1,478.5 826.1,504.4 826.1,497.3 826.6,476.6 826.6,507.0 826.6,471.7 826.6,480.4 827.1,490.2 827.1,468.6 827.1,505.1 827.6,481.8 827.6,504.0 827.6,474.2 828.1,494.7 828.1,473.0 828.1,505.5 828.1,487.5 828.6,496.9 828.6,512.4 828.6,478.0 828.6,490.3 829.1,483.2 829.1,501.7 829.1,488.0 829.6,502.9 829.6,473.4 829.6,491.3 830.1,484.6 830.1,467.7 830.1,504.6 830.1,476.0 830.6,480.3 830.6,509.1 830.6,479.7 830.6,488.8 831.1,486.5 831.1,467.5 831.1,508.8 831.1,476.9 831.6,487.3 831.6,484.8 831.6,501.0 831.6,489.2 832.1,469.8 832.1,506.8 832.1,492.6 832.6,481.5 832.6,518.3 832.6,478.6 833.1,486.2 833.1,509.8 833.1,463.5 833.1,497.9 833.6,480.5 833.6,513.8 833.6,475.3 833.6,482.7 834.1,497.0 834.1,514.9 834.1,485.3 834.1,498.5 834.6,486.4 834.6,521.2 834.6,483.9 835.1,476.7 835.1,510.8 835.1,492.0 835.6,484.3 835.6,482.5 835.6,517.8 835.6,493.9 836.1,508.1 836.1,469.1 836.1,493.4 836.6,482.9 836.6,455.2 836.6,507.3 837.1,491.1 837.1,503.1 837.1,478.3 837.1,487.4 837.6,490.7 837.6,507.7 837.6,480.5 838.1,468.2 838.1,529.3 838.1,485.8 838.6,474.7 838.6,516.3 838.6,504.0 839.1,498.7 839.1,484.7 839.1,520.4 839.1,490.5 839.6,507.9 839.6,474.7 840.1,485.6 840.1,473.6 840.1,503.5 840.1,497.9 840.6,489.7 840.6,509.7 840.6,475.9 840.6,480.3 841.1,484.6 841.1,508.1 841.1,478.6 841.1,502.6 841.6,467.6 841.6,509.3 841.6,496.6 842.1,484.2 842.1,462.4 842.1,518.9 842.6,499.6 842.6,514.2 842.6,441.5 842.6,496.5 843.1,484.6 843.1,469.2 843.1,510.3 843.1,486.5 843.6,483.8 843.6,481.9 843.6,509.2 844.1,504.5 844.1,511.5 844.1,482.5 844.1,499.6 844.6,502.0 844.6,455.3 844.6,518.4 844.6,478.6 845.1,495.7 845.1,523.0 845.1,473.8 845.1,479.9 845.6,480.1 845.6,499.0 846.1,492.8 846.1,501.4 846.1,468.7 846.1,475.2 846.6,519.4 846.6,461.8 846.6,507.1 847.1,497.1 847.1,509.3 847.1,463.0 847.1,499.9 847.6,501.6 847.6,478.1 847.6,513.6 847.6,488.3 848.1,487.7 848.1,510.6 848.6,490.2 848.6,466.1 848.6,508.9 848.6,488.4 849.1,491.9 849.1,473.2 849.1,499.9 849.1,496.6 849.6,483.6 849.6,467.0 849.6,509.6 850.1,504.7 850.1,475.8 850.1,497.7 850.6,505.6 850.6,477.6 850.6,491.8 851.1,483.1 851.1,508.7 851.1,478.0 851.1,487.0 851.6,471.5 851.6,509.1 851.6,486.1 852.1,494.9 852.1,480.4 852.1,510.1 852.6,461.4 852.6,504.6 852.6,470.6 853.1,489.5 853.1,486.2 853.1,504.6 853.1,487.2 853.6,488.4 853.6,472.2 853.6,504.3 853.6,490.7 854.1,495.9 854.1,501.7 854.1,477.2 854.1,479.5 854.6,480.2 854.6,479.4 854.6,515.2 854.6,500.4 855.1,506.8 855.1,473.1 855.1,497.7 855.6,488.8 855.6,508.1 855.6,471.3 855.6,493.0 856.1,493.1 856.1,458.8 856.1,500.4 856.1,493.3 856.6,488.6 856.6,518.3 856.6,475.0 857.1,499.6 857.1,510.0 857.1,461.0 857.6,499.2 857.6,470.1 857.6,511.7 857.6,495.4 858.1,486.5 858.1,477.5 858.1,510.5 858.1,496.7 858.6,504.4 858.6,456.6 858.6,506.8 858.6,498.3 859.1,500.0 859.1,502.6 859.1,482.9 859.1,491.4 859.6,472.5 859.6,501.6 859.6,476.7 860.1,471.3 860.1,511.7 860.1,495.3 860.6,471.9 860.6,508.4 860.6,503.5 861.1,515.0 861.1,486.1 861.1,494.9 861.6,511.1 861.6,512.7 861.6,468.0 861.6,502.8 862.1,483.5 862.1,464.3 862.1,524.5 862.1,515.4 862.6,481.4 862.6,476.0 862.6,501.0 862.6,486.2 863.1,497.6 863.1,462.1 863.1,506.1 863.1,498.7 863.6,508.2 863.6,481.2 863.6,496.0 864.1,479.7 864.1,504.4 864.1,478.3 864.6,481.0 864.6,474.3 864.6,506.4 864.6,505.8 865.1,495.4 865.1,484.2 865.1,515.5 865.1,487.5 865.6,507.7 865.6,523.5 865.6,472.6 865.6,473.0 866.1,477.4 866.1,474.5 866.1,511.7 866.6,482.8 866.6,508.2 866.6,481.4 866.6,481.8 867.1,510.5 867.1,473.4 867.1,516.2 867.1,475.8 867.6,469.8 867.6,508.6 867.6,479.5 868.1,485.2 868.1,519.5 868.1,480.1 868.6,487.9 868.6,478.2 868.6,513.5 869.1,476.1 869.1,472.3 869.1,498.7 869.1,490.5 869.6,493.8 869.6,512.5 869.6,473.6 870.1,485.8 870.1,467.3 870.1,513.1 870.1,500.7 870.6,495.9 870.6,467.6 870.6,508.9 870.6,490.5 871.1,507.7 871.1,473.1 871.6,506.9 871.6,512.3 871.6,477.1 871.6,497.9 872.1,500.9 872.1,503.5 872.1,475.7 872.1,482.8 872.6,515.2 872.6,487.4 872.6,503.7 873.1,500.2 873.1,509.6 873.1,477.9 873.1,504.6 873.6,477.2 873.6,503.5 874.1,482.3 874.1,511.3 874.1,474.4 874.1,492.5 874.6,496.9 874.6,485.3 874.6,514.9 874.6,485.8 875.1,490.9 875.1,471.8 875.1,518.6 875.1,489.1 875.6,488.3 875.6,510.3 875.6,485.5 875.6,504.3 876.1,498.5 876.1,527.5 876.1,484.6 876.6,474.3 876.6,510.7 876.6,487.2 877.1,487.3 877.1,477.2 877.1,506.1 877.6,487.5 877.6,526.0 877.6,472.8 878.1,485.0 878.1,474.5 878.1,511.4 878.1,476.2 878.6,485.4 878.6,512.9 878.6,484.1 879.1,495.5 879.1,467.6 879.1,511.2 879.6,519.5 879.6,475.2 879.6,483.5 880.1,508.0 880.1,460.1 880.1,484.8 880.6,492.0 880.6,512.6 880.6,484.5 881.1,500.5 881.1,506.8 881.1,469.1 881.6,498.2 881.6,517.6 881.6,478.3 881.6,493.2 882.1,512.8 882.1,475.5 882.1,504.3 882.6,487.4 882.6,506.5 882.6,500.1 883.1,490.8 883.1,521.2 883.1,475.1 883.1,486.9 883.6,498.6 883.6,509.6 883.6,479.3 883.6,489.2 884.1,492.6 884.1,485.5 884.1,523.2 884.1,491.1 884.6,521.5 884.6,468.6 884.6,492.4 885.1,502.4 885.1,484.1 885.1,519.9 885.1,487.1 885.6,472.1 885.6,544.1 885.6,482.0 886.1,493.1 886.1,502.0 886.1,474.3 886.1,477.4 886.6,508.1 886.6,475.4 886.6,499.5 887.1,488.4 887.1,507.6 887.1,484.7 887.1,486.6 887.6,483.6 887.6,454.7 887.6,501.8 887.6,498.2 888.1,480.0 888.1,504.1 888.1,486.7 888.6,507.1 888.6,482.7 888.6,515.4 888.6,484.4 889.1,499.4 889.1,482.3 889.1,503.8 889.1,499.5 889.6,483.7 889.6,468.5 889.6,517.4 890.1,488.4 890.1,463.2 890.1,503.0 890.1,485.8 890.6,496.5 890.6,471.8 890.6,515.6 891.1,478.5 891.1,505.1 891.6,503.1 891.6,509.7 891.6,480.4 891.6,498.6 892.1,485.0 892.1,512.7 892.1,471.6 892.1,479.2 892.6,508.5 892.6,481.9 892.6,495.1 893.1,489.7 893.1,503.7 893.1,481.0 893.1,487.6 893.6,502.1 893.6,477.4 893.6,502.7 893.6,499.0 894.1,502.3 894.1,467.2 894.1,513.2 894.1,493.8 894.6,489.9 894.6,485.4 894.6,505.4 894.6,491.7 895.1,493.1 895.1,482.7 895.1,507.4 895.1,497.4 895.6,491.1 895.6,511.1 895.6,481.8 895.6,482.7 896.1,470.1 896.1,498.7 896.6,488.3 896.6,522.6 896.6,478.8 896.6,518.6 897.1,491.6 897.1,514.2 897.1,467.4 897.1,484.8 897.6,491.4 897.6,513.8 897.6,472.0 898.1,474.0 898.1,507.0 898.1,471.6 898.1,474.3 898.6,489.9 898.6,514.2 898.6,466.2 898.6,491.1 899.1,486.9 899.1,464.3 899.1,501.6 899.1,482.1 899.6,491.1 899.6,475.1 899.6,506.7 900.1,474.9 900.1,495.1 900.1,469.2 900.1,473.5 900.6,503.1 900.6,510.0 900.6,480.7 900.6,490.5 901.1,474.5 901.1,498.7 901.1,491.9 901.6,475.5 901.6,509.2 901.6,475.1 901.6,485.5 902.1,469.1 902.1,509.5 902.1,499.7 902.6,495.3 902.6,512.1 902.6,473.5 902.6,480.3 903.1,495.6 903.1,514.6 903.1,474.7 903.1,503.0 903.6,484.7 903.6,513.5 903.6,463.9 903.6,493.3 904.1,497.2 904.1,481.3 904.1,511.9 904.1,503.0 904.6,478.8 904.6,468.8 904.6,506.9 905.1,493.7 905.1,511.4 905.1,483.9 905.1,498.1 905.6,502.4 905.6,483.6 905.6,502.2 906.1,488.9 906.1,478.0 906.1,504.4 906.1,480.5 906.6,508.3 906.6,467.2 906.6,493.0 907.1,474.8 907.1,456.7 907.1,524.0 907.1,490.7 907.6,490.7 907.6,524.5 907.6,479.7 907.6,491.5 908.1,492.0 908.1,504.8 908.1,478.3 908.1,495.4 908.6,502.2 908.6,475.2 908.6,519.3 908.6,489.5 909.1,501.3 909.1,458.9 909.1,513.9 909.6,489.7 909.6,461.1 909.6,515.8 910.1,467.8 910.1,499.8 910.1,472.0 910.6,478.8 910.6,510.3 910.6,473.9 910.6,508.2 911.1,480.7 911.1,524.0 911.1,478.8 911.1,514.3 911.6,511.2 911.6,478.9 911.6,496.0 912.1,503.2 912.1,468.1 912.1,506.5 912.1,486.1 912.6,477.9 912.6,473.3 912.6,520.9 912.6,500.8 913.1,493.3 913.1,474.5 913.1,510.9 913.1,498.1 913.6,490.7 913.6,479.0 913.6,531.8 913.6,486.0 914.1,496.7 914.1,505.2 914.1,466.3 914.1,492.5 914.6,484.0 914.6,476.1 914.6,504.0 914.6,478.8 915.1,499.3 915.1,482.1 915.1,506.3 915.1,493.6 915.6,496.7 915.6,519.1 915.6,477.6 915.6,495.2 916.1,502.8 916.1,503.8 916.1,470.6 916.1,484.0 916.6,507.7 916.6,475.2 916.6,475.4 917.1,505.5 917.1,477.5 917.1,480.4 917.6,509.9 917.6,469.9 917.6,498.4 918.1,479.9 918.1,509.4 918.1,491.7 918.6,477.6 918.6,474.0 918.6,489.4 918.6,485.0 919.1,498.6 919.1,506.0 919.1,474.7 919.6,498.0 919.6,514.7 919.6,467.2 919.6,499.8 920.1,488.5 920.1,474.7 920.1,506.6 920.1,500.5 920.6,509.4 920.6,462.7 920.6,518.9 921.1,509.3 921.1,472.5 921.6,496.6 921.6,466.2 921.6,499.9 921.6,496.8 922.1,499.8 922.1,517.1 922.1,476.2 922.1,493.8 922.6,483.2 922.6,467.7 922.6,512.5 922.6,486.2 923.1,495.1 923.1,467.3 923.1,508.5 923.1,471.7 923.6,491.5 923.6,521.5 923.6,485.2 923.6,503.9 924.1,492.5 924.1,462.4 924.1,501.9 924.1,498.8 924.6,494.8 924.6,482.4 924.6,501.1 924.6,492.2 925.1,501.0 925.1,504.9 925.1,486.5 925.1,497.9 925.6,493.8 925.6,502.8 925.6,473.6 925.6,479.7 926.1,487.7 926.1,458.0 926.1,496.8 926.1,463.2 926.6,486.4 926.6,471.9 926.6,499.8 927.1,458.4 927.1,501.8 927.1,496.8 927.6,485.0 927.6,499.5 927.6,480.0 927.6,483.4 928.1,490.1 928.1,485.4 928.1,508.0 928.1,502.4 928.6,500.7 928.6,466.0 928.6,507.4 928.6,505.7 929.1,449.9 929.1,506.9 929.1,492.3 929.6,483.5 929.6,522.6 929.6,471.0 930.1,497.2 930.1,498.4 930.1,475.0 930.1,495.3 930.6,508.8 930.6,465.3 930.6,483.7 931.1,512.9 931.1,486.9 931.1,497.6 931.6,488.2 931.6,477.1 931.6,514.6 931.6,494.0 932.1,500.1 932.1,476.2 932.1,480.7 932.6,486.1 932.6,474.2 932.6,525.2 933.1,486.9 933.1,494.8 933.1,464.6 933.1,483.0 933.6,480.3 933.6,478.5 933.6,512.2 933.6,495.4 934.1,483.8 934.1,502.6 934.1,473.9 934.1,501.0 934.6,488.9 934.6,474.4 934.6,518.8 934.6,486.5 935.1,485.8 935.1,500.1 935.1,477.1 935.1,491.7 935.6,507.2 935.6,476.2 935.6,482.2 936.1,474.3 936.1,463.4 936.1,509.8 936.6,486.2 936.6,520.4 936.6,484.2 937.1,480.4 937.1,441.5 937.1,512.7 937.1,484.0 937.6,466.6 937.6,514.4 937.6,483.3 938.1,506.1 938.1,508.6 938.1,490.4 938.1,500.6 938.6,524.7 938.6,470.4 938.6,491.1 939.1,494.6 939.1,466.2 939.1,510.6 939.1,500.5 939.6,488.4 939.6,484.2 939.6,513.0 940.1,496.8 940.1,478.6 940.1,522.1 940.1,487.0 940.6,492.7 940.6,508.7 940.6,478.1 940.6,484.5 941.1,480.9 941.1,469.7 941.1,498.6 941.1,482.8 941.6,501.1 941.6,518.3 941.6,482.6 941.6,492.5 942.1,494.1 942.1,501.2 942.1,467.5 942.1,469.7 942.6,500.2 942.6,506.2 942.6,476.1 942.6,503.6 943.1,477.8 943.1,458.7 943.1,503.4 943.1,490.9 943.6,491.9 943.6,510.9 943.6,474.9 943.6,494.2 944.1,494.6 944.1,481.4 944.1,524.1 944.1,489.6 944.6,475.9 944.6,520.4 944.6,473.6 944.6,489.3 945.1,485.2 945.1,481.3 945.1,513.4 945.1,510.7 945.6,476.3 945.6,514.4 945.6,465.2 945.6,484.9 946.1,484.0 946.1,515.4 946.1,479.3 946.6,487.3 946.6,514.1 946.6,484.3 947.1,480.6 947.1,467.1 947.1,509.1 947.1,483.7 947.6,479.3 947.6,515.3 947.6,497.5 948.1,509.7 948.1,547.3 948.1,483.2 948.1,490.9 948.6,483.7 948.6,496.3 948.6,479.3 948.6,482.9 949.1,489.6 949.1,502.7 949.1,493.9 949.6,492.8 949.6,473.2 949.6,500.1 949.6,495.9 950.1,500.7 950.1,523.8 950.1,478.0 950.1,497.7 950.6,489.4 950.6,524.2 950.6,484.8 951.1,493.4 951.1,506.5 951.1,465.0 951.6,469.7 951.6,505.7 951.6,468.6 952.1,479.7 952.1,515.3 952.1,490.3 952.6,485.5 952.6,509.5 953.1,480.9 953.1,472.2 953.1,545.4 953.6,495.3 953.6,523.7 953.6,488.3 954.1,487.7 954.1,505.6 954.1,452.5 954.1,482.6 954.6,483.7 954.6,465.3 954.6,519.8 955.1,488.5 955.1,515.2 955.1,494.5 955.6,508.4 955.6,511.0 955.6,478.0 956.1,491.8 956.1,486.7 956.1,530.5 956.1,492.2 956.6,497.2 956.6,467.3 956.6,503.7 956.6,495.0 957.1,491.1 957.1,513.0 957.1,470.1 957.6,472.3 957.6,499.4 957.6,478.5 958.1,459.4 958.1,519.8 958.1,492.3 958.6,510.4 958.6,518.7 958.6,489.5 958.6,512.3 959.1,497.9 959.1,504.4 959.1,467.8 959.1,485.3 959.6,485.3 959.6,474.3 959.6,504.4 959.6,494.6 960.1,492.0 960.1,514.3 960.1,482.3 960.1,504.6 960.6,486.7 960.6,517.2 960.6,472.2 960.6,504.4 961.1,497.7 961.1,530.2 961.1,484.6 961.1,501.1 961.6,480.6 961.6,520.5 961.6,478.8 961.6,480.8 962.1,496.7 962.1,515.7 962.1,480.2 962.1,514.7 962.6,492.7 962.6,512.4 962.6,476.2 962.6,490.2 963.1,485.2 963.1,478.3 963.1,502.8 963.6,498.7 963.6,510.1 963.6,451.1 963.6,476.9 964.1,479.7 964.1,526.2 964.1,474.1 964.1,499.4 964.6,490.4 964.6,517.7 964.6,447.5 964.6,486.1 965.1,494.0 965.1,502.8 965.1,460.4 965.6,514.9 965.6,485.7 965.6,492.1 966.1,509.2 966.1,461.1 966.1,487.0 966.6,494.3 966.6,463.5 966.6,512.1 966.6,497.9 967.1,509.4 967.1,515.8 967.1,485.0 967.6,487.0 967.6,536.7 967.6,499.2 968.1,502.2 968.1,458.0 968.1,498.8 968.6,493.8 968.6,476.1 968.6,516.4 968.6,502.7 969.1,494.4 969.1,504.1 969.1,478.1 969.1,499.8 969.6,489.1 969.6,475.6 969.6,520.8 969.6,499.7 970.1,509.9 970.1,474.7 970.1,478.0 970.6,506.3 970.6,477.6 970.6,512.8 970.6,512.5 971.1,490.5 971.1,517.6 971.1,474.1 971.1,504.9 971.6,493.7 971.6,479.3 971.6,516.5 972.1,529.6 972.1,473.6 972.6,504.4 972.6,482.9 972.6,507.6 972.6,484.9 973.1,493.9 973.1,498.4 973.1,474.2 973.1,477.0 973.6,482.4 973.6,501.3 973.6,456.3 973.6,475.8 974.1,511.4 974.1,476.7 974.1,493.1 974.6,493.2 974.6,515.3 974.6,484.5 974.6,500.3 975.1,506.5 975.1,487.5 975.1,498.9 975.6,466.9 975.6,517.9 975.6,511.7 976.1,495.0 976.1,479.0 976.1,538.5 976.1,490.8 976.6,492.1 976.6,470.2 976.6,514.7 976.6,495.3 977.1,509.5 977.1,463.0 977.1,510.5 977.1,490.9 977.6,479.3 977.6,528.1 977.6,475.0 977.6,511.4 978.1,510.8 978.1,472.3 978.1,499.5 978.6,474.5 978.6,502.4 978.6,495.3 979.1,502.0 979.1,470.8 979.1,501.3 979.6,497.4 979.6,484.9 979.6,487.7 980.1,514.9 980.1,527.8 980.1,476.6 980.1,494.0 980.6,495.1 980.6,513.7 980.6,471.9 980.6,488.7 981.1,490.0 981.1,516.0 981.1,495.8 981.6,487.3 981.6,482.0 981.6,515.4 981.6,514.4 982.1,485.3 982.1,502.4 982.1,480.8 982.1,488.7 982.6,505.8 982.6,486.4 982.6,512.3 983.1,479.0 983.1,513.2 983.1,455.1 983.1,506.9 983.6,506.2 983.6,478.9 983.6,521.0 983.6,500.5 984.1,506.6 984.1,511.7 984.1,464.6 984.1,482.6 984.6,494.6 984.6,497.2 984.6,472.0 985.1,502.5 985.1,481.6 985.1,511.1 985.1,490.4 985.6,496.0 985.6,519.2 985.6,490.2 985.6,495.0 986.1,473.7 986.1,505.6 986.1,483.2 986.6,502.9 986.6,514.0 986.6,477.0 987.1,517.4 987.1,486.7 987.1,522.0 987.1,494.2 987.6,505.3 987.6,480.9 987.6,508.6 987.6,485.5 988.1,461.7 988.1,506.5 988.1,479.6 988.6,490.7 988.6,476.6 988.6,518.2 988.6,481.6 989.1,491.0 989.1,511.0 989.1,475.7 989.1,487.3 989.6,493.5 989.6,482.4 989.6,508.9 989.6,492.2 990.1,494.1 990.1,509.5 990.1,481.1 990.6,497.0 990.6,479.4 990.6,514.4 991.1,489.5 991.1,467.7 991.1,507.8 991.1,478.1 991.6,482.4 991.6,474.6 991.6,501.9 991.6,479.6 992.1,503.5 992.1,508.1 992.1,479.0 992.6,497.9 992.6,468.5 992.6,510.8 992.6,481.8 993.1,500.5 993.1,506.6 993.1,482.4 993.1,490.7 993.6,508.2 993.6,468.9 994.1,525.0 994.1,474.0 994.1,501.6 994.6,482.4 994.6,470.5 994.6,518.7 994.6,513.6 995.1,500.0 995.1,472.6 995.1,508.0 995.6,497.7 995.6,473.6 995.6,503.5 995.6,485.6 996.1,489.6 996.1,501.6 996.1,455.6 996.1,482.7 996.6,480.0 996.6,455.3 996.6,502.2 996.6,489.8 997.1,493.7 997.1,482.5 997.1,523.3 997.6,471.6 997.6,521.5 997.6,490.3 998.1,484.3 998.1,468.0 998.1,503.9 998.6,477.3 998.6,474.2 998.6,501.2 998.6,489.0 999.1,502.8 999.1,483.3 999.1,510.8 999.1,504.6 999.6,476.0 999.6,511.3 999.6,488.3 1000.1,491.9 1000.1,509.4 1000.1,475.1 1000.1,502.0 1000.6,520.1 1000.6,538.2 1000.6,471.0 1001.1,494.6 1001.1,473.4 1001.1,518.4 1001.1,497.9 1001.6,509.6 1001.6,468.8 1001.6,491.3 1002.1,459.3 1002.1,518.3 1002.1,490.3 1002.6,520.4 1002.6,468.6 1002.6,496.2 1003.1,515.7 1003.1,469.1 1003.6,482.5 1003.6,472.4 1003.6,514.0 1003.6,492.0 1004.1,487.2 1004.1,495.9 1004.1,485.5 1004.1,493.7 1004.6,489.7 1004.6,471.8 1004.6,502.9 1004.6,497.5 1005.1,490.9 1005.1,508.1 1005.1,476.9 1005.6,497.1 1005.6,518.9 1005.6,479.7 1005.6,501.4 1006.1,501.3 1006.1,515.8 1006.1,469.1 1006.1,501.9 1006.6,479.8 1006.6,505.7 1006.6,487.8 1007.1,472.5 1007.1,527.3 1007.1,508.4 1007.6,491.1 1007.6,470.3 1007.6,499.5 1007.6,493.0 1008.1,505.9 1008.1,475.2 1008.1,511.2 1008.1,491.4 1008.6,475.3 1008.6,523.9 1008.6,474.8 1008.6,482.8 1009.1,482.8 1009.1,469.2 1009.1,501.5 1009.6,503.4 1009.6,484.4 1009.6,492.8 1010.1,484.9 1010.1,508.5 1010.1,472.3 1010.1,483.3 1010.6,489.8 1010.6,461.5 1010.6,517.1 1010.6,492.1 1011.1,477.0 1011.1,509.4 1011.1,470.5 1011.6,489.8 1011.6,487.1 1011.6,501.6 1011.6,499.1 1012.1,489.4 1012.1,512.2 1012.1,466.1 1012.6,513.1 1012.6,470.4 1012.6,482.1 1013.1,496.5 1013.1,504.6 1013.1,465.7 1013.1,477.1 1013.6,505.3 1013.6,469.2 1013.6,474.3 1014.1,496.6 1014.1,473.6 1014.1,515.9 1014.1,488.2 1014.6,493.5 1014.6,468.1 1014.6,511.1 1014.6,491.1 1015.1,497.0 1015.1,461.4 1015.1,507.3 1015.1,501.7 1015.6,492.0 1015.6,516.7 1015.6,475.4 1015.6,514.0 1016.1,491.0 1016.1,499.9 1016.1,467.8 1016.6,492.7 1016.6,512.8 1016.6,465.4 1017.1,487.8 1017.1,509.4 1017.1,495.1 1017.6,484.8 1017.6,508.4 1017.6,468.3 1017.6,469.0 1018.1,478.7 1018.1,504.4 1018.1,468.3 1018.1,490.1 1018.6,502.8 1018.6,505.2 1018.6,483.2 1018.6,491.3 1019.1,482.8 1019.1,476.4 1019.1,504.5 1019.1,496.0 1019.6,482.9 1019.6,506.6 1019.6,474.9 1019.6,493.0 1020.1,480.5 1020.1,473.9 1020.1,521.9 1020.6,509.6 1020.6,471.2 1021.1,484.7 1021.1,509.0 1021.1,483.7 1021.6,497.9 1021.6,507.1 1021.6,465.1 1021.6,486.3 1022.1,521.0 1022.1,469.3 1022.1,500.9 1022.6,477.6 1022.6,515.3 1022.6,497.0 1023.1,473.7 1023.1,517.0 1023.1,490.8 1023.6,501.0 1023.6,508.9 1023.6,478.8 1024.1,489.9 1024.1,465.2 1024.1,512.0 1024.1,492.4 1024.6,493.7 1024.6,502.0 1024.6,479.8 1025.1,499.4 1025.1,504.6 1025.1,476.5 1025.1,476.9 1025.6,512.2 1025.6,480.9 1025.6,509.6 1026.1,485.3 1026.1,462.5 1026.1,511.2 1026.1,492.3 1026.6,494.3 1026.6,515.7 1026.6,470.2 1026.6,509.8 1027.1,492.7 1027.1,522.0 1027.1,480.6 1027.1,489.9 1027.6,522.1 1027.6,463.5 1027.6,482.3 1028.1,506.7 1028.1,509.4 1028.1,481.2 1028.1,487.1 1028.6,500.6 1028.6,464.9 1028.6,525.4 1029.1,506.3 1029.1,477.7 1029.1,509.3 1029.6,482.1 1029.6,532.8 1029.6,464.0 1029.6,478.2 1030.1,498.8 1030.1,515.2 1030.1,475.9 1030.6,501.8 1030.6,477.8 1031.1,490.1 1031.1,516.8 1031.1,482.5 1031.1,514.3 1031.6,498.5 1031.6,528.0 1031.6,468.8 1031.6,483.6 1032.1,503.4 1032.1,519.6 1032.1,458.8 1032.6,506.2 1032.6,446.8 1032.6,509.9 1032.6,507.5 1033.1,522.1 1033.1,478.0 1033.1,500.1 1033.6,492.7 1033.6,510.8 1033.6,473.7 1034.1,489.2 1034.1,497.3 1034.1,467.9 1034.6,509.6 1034.6,469.0 1034.6,530.9 1034.6,485.2 1035.1,485.2 1035.1,524.7 1035.1,484.4 1035.1,490.3 1035.6,507.9 1035.6,523.0 1035.6,470.8 1036.1,491.4 1036.1,526.9 1036.1,475.3 1036.6,476.5 1036.6,508.3 1036.6,482.9 1037.1,522.4 1037.1,473.8 1037.1,488.8 1037.6,486.4 1037.6,525.1 1037.6,495.7 1038.1,490.7 1038.1,519.6 1038.1,477.3 1038.1,512.3 1038.6,497.6 1038.6,472.1 1038.6,517.5 1038.6,503.9 1039.1,494.4 1039.1,465.1 1039.1,507.0 1039.1,500.9 1039.6,499.9 1039.6,513.9 1039.6,480.3 1039.6,502.0 1040.1,500.4 1040.1,477.5 1040.1,504.8 1040.1,501.0 1040.6,488.6 1040.6,470.9 1040.6,510.8 1040.6,498.1 1041.1,481.0 1041.1,462.7 1041.1,505.4 1041.1,492.1 1041.6,502.3 1041.6,523.5 1041.6,478.0 1041.6,501.9 1042.1,505.0 1042.1,478.5 1042.1,509.2 1042.6,480.4 1042.6,466.8 1042.6,508.5 1042.6,504.3 1043.1,520.2 1043.1,483.2 1043.1,508.3 1043.6,498.7 1043.6,511.8 1043.6,470.2 1043.6,492.1 1044.1,502.7 1044.1,477.3 1044.1,510.2 1044.1,485.1 1044.6,512.2 1044.6,473.1 1044.6,495.5 1045.1,501.0 1045.1,517.5 1045.1,478.1 1045.1,491.8 1045.6,476.7 1045.6,531.2 1045.6,500.0 1046.1,477.3 1046.1,503.5 1046.1,486.3 1046.6,466.8 1046.6,519.8 1046.6,470.3 1047.1,503.4 1047.1,484.7 1047.1,513.8 1047.6,516.2 1047.6,486.0 1047.6,503.5 1048.1,494.6 1048.1,509.6 1048.1,480.3 1048.6,515.6 1048.6,474.1 1048.6,509.8 1049.1,495.3 1049.1,460.0 1049.1,513.0 1049.1,482.7 1049.6,487.2 1049.6,478.4 1049.6,514.4 1049.6,511.4 1050.1,507.6 1050.1,465.6 1050.1,510.5 1050.1,509.9 1050.6,488.6 1050.6,477.4 1050.6,521.3 1050.6,486.8 1051.1,477.4 1051.1,509.3 1051.1,480.0 1051.6,489.0 1051.6,521.6 1051.6,486.9 1052.1,475.2 1052.1,470.5 1052.1,511.7 1052.1,498.9 1052.6,497.4 1052.6,486.7 1052.6,520.0 1052.6,499.6 1053.1,499.6 1053.1,513.8 1053.1,476.2 1053.1,479.0 1053.6,500.7 1053.6,477.5 1053.6,485.4 1054.1,472.1 1054.1,514.6 1054.1,471.9 1054.1,501.3 1054.6,494.0 1054.6,520.3 1054.6,472.2 1054.6,494.8 1055.1,516.0 1055.1,470.8 1055.6,504.2 1055.6,495.3 1055.6,511.4 1055.6,498.0 1056.1,477.9 1056.1,512.7 1056.1,495.1 1056.6,487.5 1056.6,507.2 1056.6,471.3 1056.6,497.7 1057.1,484.1 1057.1,507.1 1057.1,479.4 1057.6,503.1 1057.6,468.0 1057.6,507.2 1057.6,498.8 1058.1,487.9 1058.1,511.8 1058.1,473.2 1058.1,479.0 1058.6,514.3 1058.6,476.5 1058.6,520.4 1058.6,496.4 1059.1,481.3 1059.1,511.8 1059.1,491.0 1059.6,515.2 1059.6,463.5 1059.6,523.8 1059.6,497.9 1060.1,464.7 1060.1,503.6 1060.6,510.6 1060.6,531.3 1060.6,470.2 1061.1,500.7 1061.1,514.3 1061.1,464.6 1061.1,491.7 1061.6,480.5 1061.6,476.9 1061.6,499.3 1061.6,492.9 1062.1,470.3 1062.1,434.3 1062.1,506.7 1062.1,504.4 1062.6,496.9 1062.6,514.4 1062.6,483.5 1062.6,499.7 1063.1,517.4 1063.1,447.0 1063.1,519.9 1063.6,495.4 1063.6,474.9 1063.6,521.2 1063.6,516.5 1064.1,487.8 1064.1,474.9 1064.1,504.2 1064.1,497.3 1064.6,496.7 1064.6,516.9 1064.6,480.8 1064.6,490.6 1065.1,477.4 1065.1,511.2 1065.6,495.9 1065.6,479.1 1065.6,519.9 1065.6,497.2 1066.1,514.1 1066.1,475.5 1066.1,525.2 1066.1,498.3 1066.6,515.3 1066.6,473.9 1066.6,493.4 1067.1,486.7 1067.1,509.0 1067.1,443.4 1067.1,482.1 1067.6,470.5 1067.6,515.6 1067.6,489.1 1068.1,487.3 1068.1,515.9 1068.1,461.1 1068.6,480.8 1068.6,470.3 1068.6,497.9 1068.6,492.5 1069.1,496.7 1069.1,513.3 1069.1,486.5 1069.1,508.6 1069.6,506.9 1069.6,479.5 1069.6,522.3 1069.6,500.8 1070.1,496.2 1070.1,460.1 1070.1,502.9 1070.6,504.2 1070.6,473.2 1070.6,498.9 1071.1,481.6 1071.1,513.1 1071.1,471.5 1071.6,499.8 1071.6,532.6 1071.6,476.0 1071.6,519.4 1072.1,479.5 1072.1,472.1 1072.1,512.5 1072.6,508.7 1072.6,518.3 1072.6,467.0 1072.6,502.1 1073.1,478.4 1073.1,520.6 1073.1,493.1 1073.6,479.1 1073.6,503.6 1073.6,478.0 1074.1,504.1 1074.1,514.0 1074.1,478.3 1074.1,496.8 1074.6,490.2 1074.6,517.9 1074.6,474.0 1074.6,474.4 1075.1,510.5 1075.1,471.8 1075.1,522.5 1075.1,520.9 1075.6,486.5 1075.6,475.2 1075.6,507.4 1075.6,495.3 1076.1,479.9 1076.1,466.0 1076.1,511.0 1076.6,491.8 1076.6,518.7 1076.6,479.1 1076.6,496.2 1077.1,460.9 1077.1,519.9 1077.1,500.0 1077.6,486.1 1077.6,468.1 1077.6,522.3 1077.6,496.9 1078.1,488.9 1078.1,478.2 1078.1,512.3 1078.6,507.1 1078.6,460.4 1078.6,511.3 1078.6,494.8 1079.1,494.7 1079.1,518.2 1079.1,477.9 1079.1,490.4 1079.6,513.8 1079.6,465.7 1079.6,485.0 1080.1,490.5 1080.1,529.4 1080.1,479.5 1080.6,493.6 1080.6,474.1 1080.6,507.3 1081.1,505.4 1081.1,481.1 1081.1,508.8 1081.1,503.0 1081.6,492.9 1081.6,475.9 1081.6,501.0 1081.6,498.9 1082.1,506.3 1082.1,515.3 1082.1,483.0 1082.1,485.7 1082.6,496.1 1082.6,517.2 1082.6,476.3 1082.6,487.9 1083.1,471.5 1083.1,499.5 1083.1,481.0 1083.6,494.0 1083.6,516.9 1083.6,483.6 1083.6,501.4 1084.1,494.1 1084.1,470.3 1084.1,506.2 1084.1,493.6 1084.6,497.8 1084.6,508.5 1084.6,475.0 1084.6,481.1 1085.1,491.4 1085.1,482.6 1085.1,521.3 1085.1,505.8 1085.6,515.5 1085.6,481.3 1085.6,492.9 1086.1,490.0 1086.1,505.3 1086.1,475.2 1086.1,476.4 1086.6,510.8 1086.6,467.4 1086.6,490.9 1087.1,502.4 1087.1,472.6 1087.1,516.7 1087.1,482.6 1087.6,504.8 1087.6,483.0 1087.6,511.8 1088.1,481.6 1088.1,538.8 1088.1,478.7 1088.1,514.6 1088.6,504.4 1088.6,506.3 1088.6,492.0 1089.1,498.0 1089.1,475.6 1089.1,518.1 1089.1,490.4 1089.6,489.4 1089.6,509.9 1089.6,477.7 1090.1,504.4 1090.1,490.0 1090.1,493.1 1090.6,488.6 1090.6,473.0 1090.6,521.1 1091.1,473.5 1091.1,505.5 1091.1,469.7 1091.1,485.6 1091.6,491.7 1091.6,514.4 1091.6,483.0 1092.1,477.9 1092.1,512.2 1092.1,474.5 1092.1,483.7 1092.6,470.7 1092.6,509.5 1092.6,504.2 1093.1,467.2 1093.1,508.8 1093.1,485.2 1093.6,481.4 1093.6,517.8 1093.6,483.6 1094.1,493.2 1094.1,506.2 1094.1,479.1 1094.1,496.5 1094.6,501.5 1094.6,524.3 1094.6,489.0 1094.6,493.2 1095.1,479.8 1095.1,475.5 1095.1,514.0 1095.1,497.9 1095.6,489.8 1095.6,523.4 1095.6,461.6 1095.6,493.6 1096.1,509.6 1096.1,510.6 1096.1,490.4 1096.1,499.6 1096.6,502.7 1096.6,475.0 1096.6,505.3 1096.6,475.8 1097.1,489.1 1097.1,468.4 1097.1,514.9 1097.1,500.2 1097.6,502.0 1097.6,470.5 1097.6,512.8 1098.1,489.3 1098.1,512.6 1098.1,488.3 1098.6,499.5 1098.6,479.0 1098.6,522.6 1098.6,487.1 1099.1,514.0 1099.1,472.7 1099.1,506.7 1099.6,525.8 1099.6,469.4 1099.6,485.2 1100.1,497.7 1100.1,484.7 1100.1,518.6 1100.1,505.1 1100.6,482.5 1100.6,510.2 1100.6,505.7 1101.1,518.4 1101.1,484.5 1101.1,528.2 1101.1,510.2 1101.6,478.3 1101.6,475.4 1101.6,518.3 1101.6,507.0 1102.1,479.8 1102.1,520.9 1102.6,493.5 1102.6,472.8 1102.6,515.4 1102.6,481.6 1103.1,492.0 1103.1,508.5 1103.1,467.5 1103.1,495.3 1103.6,475.7 1103.6,504.4 1103.6,474.9 1103.6,491.0 1104.1,522.4 1104.1,495.1 1104.1,506.0 1104.6,520.2 1104.6,483.9 1104.6,505.5 1105.1,500.9 1105.1,477.3 1105.1,524.0 1105.1,507.3 1105.6,509.0 1105.6,472.7 1105.6,522.9 1105.6,496.1 1106.1,531.9 1106.1,478.0 1106.1,506.5 1106.6,488.1 1106.6,505.1 1106.6,457.3 1106.6,491.0 1107.1,505.5 1107.1,491.8 1107.1,530.8 1107.1,524.3 1107.6,499.8 1107.6,487.5 1107.6,512.2 1107.6,497.5 1108.1,482.4 1108.1,511.2 1108.1,501.9 1108.6,486.1 1108.6,481.3 1108.6,494.1 1108.6,488.9 1109.1,485.8 1109.1,515.1 1109.1,469.4 1109.1,497.9 1109.6,501.8 1109.6,457.1 1109.6,512.7 1109.6,500.3 1110.1,502.2 1110.1,476.0 1110.1,535.3 1110.6,484.3 1110.6,478.5 1110.6,546.7 1110.6,501.5 1111.1,502.5 1111.1,481.2 1111.1,515.8 1111.1,501.0 1111.6,495.0 1111.6,467.7 1111.6,505.3 1111.6,469.3 1112.1,463.7 1112.1,510.1 1112.1,490.3 1112.6,477.3 1112.6,466.0 1112.6,496.2 1112.6,479.4 1113.1,484.2 1113.1,513.2 1113.1,472.5 1113.1,487.9 1113.6,501.7 1113.6,492.6 1113.6,518.7 1113.6,497.2 1114.1,480.5 1114.1,514.6 1114.1,503.6 1114.6,493.0 1114.6,479.4 1114.6,514.9 1114.6,504.0 1115.1,471.6 1115.1,517.0 1115.1,467.4 1115.6,497.6 1115.6,500.3 1115.6,465.9 1115.6,496.0 1116.1,498.2 1116.1,520.8 1116.1,476.8 1116.1,484.2 1116.6,499.7 1116.6,511.3 1116.6,480.6 1116.6,499.5 1117.1,504.2 1117.1,518.9 1117.1,464.7 1117.1,472.7 1117.6,490.4 1117.6,464.6 1117.6,510.1 1117.6,476.1 1118.1,503.8 1118.1,485.3 1118.1,512.3 1118.1,507.4 1118.6,506.5 1118.6,482.8 1118.6,513.7 1119.1,505.2 1119.1,481.5 1119.1,518.5 1119.1,508.7 1119.6,492.4 1119.6,480.7 1119.6,514.5 1119.6,508.4 1120.1,507.7 1120.1,520.9 1120.1,477.1 1120.1,509.0 1120.6,527.0 1120.6,491.7 1120.6,516.6 1121.1,471.4 1121.1,510.9 1121.1,481.7 1121.6,491.8 1121.6,498.9 1121.6,482.8 1121.6,489.0 1122.1,511.9 1122.1,476.6 1122.6,495.1 1122.6,478.1 1122.6,510.1 1122.6,486.8 1123.1,488.0 1123.1,515.8 1123.1,485.2 1123.6,477.1 1123.6,502.8 1123.6,496.9 1124.1,503.5 1124.1,475.9 1124.1,509.7 1124.1,501.1 1124.6,488.5 1124.6,526.9 1124.6,475.8 1124.6,506.1 1125.1,488.2 1125.1,508.3 1125.1,471.7 1125.6,503.5 1125.6,521.7 1125.6,467.4 1125.6,518.7 1126.1,492.7 1126.1,490.1 1126.1,511.2 1126.1,490.8 1126.6,506.4 1126.6,483.4 1126.6,515.3 1127.1,500.7 1127.1,508.9 1127.1,477.8 1127.1,487.5 1127.6,481.0 1127.6,503.9 1128.1,490.9 1128.1,487.7 1128.1,521.7 1128.6,494.5 1128.6,513.3 1128.6,482.4 1128.6,497.2 1129.1,501.8 1129.1,487.9 1129.1,511.9 1129.1,499.4 1129.6,494.7 1129.6,458.5 1129.6,460.2 1130.1,490.8 1130.1,481.8 1130.1,509.4 1130.1,494.2 1130.6,485.1 1130.6,520.1 1130.6,480.3 1130.6,499.4 1131.1,519.1 1131.1,520.6 1131.1,469.2 1131.1,484.9 1131.6,480.4 1131.6,469.3 1131.6,524.6 1131.6,489.6 1132.1,494.2 1132.1,468.9 1132.1,520.5 1132.1,513.9 1132.6,507.0 1132.6,510.6 1132.6,489.0 1132.6,499.5 1133.1,490.9 1133.1,520.3 1133.1,460.1 1133.6,505.5 1133.6,490.8 1133.6,515.0 1134.1,508.8 1134.1,471.9 1134.1,519.3 1134.1,517.3 1134.6,494.6 1134.6,520.8 1134.6,486.2 1135.1,497.8 1135.1,488.1 1135.1,508.8 1135.1,499.7 1135.6,506.5 1135.6,462.6 1135.6,507.6 1136.1,517.3 1136.1,476.4 1136.6,486.3 1136.6,512.4 1136.6,479.9 1136.6,502.8 1137.1,500.7 1137.1,485.1 1137.1,516.9 1137.1,500.6 1137.6,520.9 1137.6,469.4 1137.6,499.4 1138.1,528.5 1138.1,491.3 1138.1,492.8 1138.6,498.8 1138.6,529.3 1138.6,485.9 1138.6,493.1 1139.1,509.9 1139.1,466.5 1139.1,504.5 1139.6,487.0 1139.6,527.3 1139.6,478.3 1140.1,500.0 1140.1,518.8 1140.1,484.9 1140.1,505.4 1140.6,518.6 1140.6,482.6 1141.1,473.6 1141.1,511.2 1141.1,492.0 1141.6,499.0 1141.6,511.1 1141.6,472.7 1141.6,499.5 1142.1,488.9 1142.1,463.7 1142.1,501.7 1142.1,501.4 1142.6,484.1 1142.6,507.1 1142.6,480.6 1142.6,483.5 1143.1,515.2 1143.1,479.5 1143.1,481.6 1143.6,483.1 1143.6,471.7 1143.6,527.3 1144.1,509.2 1144.1,471.5 1144.1,523.8 1144.1,500.2 1144.6,494.9 1144.6,534.3 1144.6,481.1 1144.6,490.0 1145.1,492.1 1145.1,470.9 1145.1,522.0 1145.6,485.1 1145.6,470.0 1145.6,532.1 1145.6,503.0 1146.1,491.7 1146.1,481.7 1146.1,514.1 1146.1,494.0 1146.6,486.3 1146.6,513.5 1146.6,473.9 1147.1,500.0 1147.1,518.0 1147.1,472.5 1147.1,479.0 1147.6,507.2 1147.6,477.2 1147.6,529.2 1147.6,500.6 1148.1,465.2 1148.1,510.7 1148.1,504.4 1148.6,495.0 1148.6,513.9 1148.6,493.3 1149.1,486.2 1149.1,482.7 1149.1,518.6 1149.1,507.7 1149.6,521.7 1149.6,522.1 1149.6,461.1 1149.6,507.3 1150.1,472.5 1150.1,517.7 1150.6,491.9 1150.6,465.9 1150.6,510.7 1151.1,481.6 1151.1,526.7 1151.1,493.7 1151.6,469.6 1151.6,519.2 1152.1,484.4 1152.1,507.9 1152.6,482.4 1152.6,524.1 1152.6,506.4 1153.1,507.4 1153.1,481.2 1153.1,527.6 1153.6,462.0 1153.6,521.3 1154.1,492.0 1154.1,480.9 1154.1,520.4 1154.1,489.1 1154.6,489.8 1154.6,524.7 1154.6,465.8 1154.6,496.0 1155.1,474.9 1155.1,469.2 1155.1,503.1 1155.1,496.3 1155.6,483.1 1155.6,525.7 1155.6,466.5 1155.6,501.0 1156.1,528.8 1156.1,467.9 1156.6,500.2 1156.6,486.1 1156.6,518.0 1156.6,486.9 1157.1,503.1 1157.1,509.2 1157.1,471.8 1157.1,473.3 1157.6,490.0 1157.6,515.6 1157.6,456.1 1157.6,499.7 1158.1,478.1 1158.1,514.1 1158.1,506.0 1158.6,524.2 1158.6,528.3 1158.6,474.3 1158.6,489.2 1159.1,477.1 1159.1,502.9 1159.6,490.3 1159.6,477.4 1159.6,496.0 1160.1,504.7 1160.1,509.9 1160.1,478.5 1160.6,495.1 1160.6,486.2 1160.6,515.2 1160.6,512.9 1161.1,482.9 1161.1,515.2 1161.1,464.9 1161.1,496.7 1161.6,468.4 1161.6,527.1 1161.6,485.8 1162.1,516.1 1162.1,489.4 1162.1,499.9 1162.6,473.0 1162.6,518.8 1162.6,497.1 1163.1,486.8 1163.1,478.5 1163.1,526.4 1163.1,489.2 1163.6,499.1 1163.6,509.1 1163.6,468.8 1164.1,507.0 1164.1,513.5 1164.1,481.7 1164.1,500.5 1164.6,488.1 1164.6,476.0 1164.6,519.6 1165.1,489.5 1165.1,474.0 1165.1,506.3 1165.1,494.1 1165.6,491.8 1165.6,515.6 1165.6,461.1 1166.1,489.2 1166.1,476.8 1166.1,507.1 1166.1,491.0 1166.6,501.6 1166.6,487.0 1166.6,519.4 1167.1,483.0 1167.1,518.7 1167.1,480.9 1167.1,495.5 1167.6,498.2 1167.6,534.1 1167.6,509.9 1168.1,508.0 1168.1,508.4 1168.1,480.5 1168.1,504.6 1168.6,512.2 1168.6,471.6 1169.1,482.3 1169.1,537.2 1169.1,461.3 1169.6,500.4 1169.6,481.0 1169.6,511.1 1169.6,486.4 1170.1,494.9 1170.1,513.8 1170.1,469.1 1170.1,470.7 1170.6,486.9 1170.6,513.1 1170.6,476.3 1171.1,494.6 1171.1,502.6 1171.1,479.7 1171.1,494.4 1171.6,493.7 1171.6,516.3 1171.6,482.3 1171.6,488.0 1172.1,480.6 1172.1,526.9 1172.1,488.4 1172.6,495.4 1172.6,515.7 1172.6,465.8 1172.6,507.9 1173.1,494.9 1173.1,492.0 1173.1,509.4 1173.6,469.9 1173.6,513.3 1173.6,466.4 1173.6,492.1 1174.1,522.9 1174.1,476.9 1174.1,489.4 1174.6,512.0 1174.6,478.9 1175.1,498.5 1175.1,523.1 1175.1,482.4 1175.1,487.8 1175.6,517.2 1175.6,478.7 1175.6,489.0 1176.1,515.6 1176.1,468.4 1176.1,496.4 1176.6,498.4 1176.6,513.6 1176.6,486.5 1177.1,499.6 1177.1,483.3 1177.1,523.2 1177.1,506.6 1177.6,490.4 1177.6,476.8 1177.6,516.9 1177.6,502.2 1178.1,496.8 1178.1,509.1 1178.1,469.3 1178.1,494.5 1178.6,500.2 1178.6,520.4 1178.6,468.9 1179.1,491.8 1179.1,476.5 1179.1,507.2 1179.1,505.5 1179.6,496.4 1179.6,479.1 1179.6,520.5 1179.6,484.5 1180.1,497.9 1180.1,524.0 1180.1,472.4 1180.6,495.7 1180.6,463.9 1180.6,502.4 1181.1,496.8 1181.1,466.1 1181.1,514.9 1181.1,508.0 1181.6,506.8 1181.6,518.7 1181.6,480.1 1181.6,501.9 1182.1,492.1 1182.1,480.5 1182.1,513.9 1182.1,505.9 1182.6,504.6 1182.6,473.7 1182.6,525.4 1182.6,493.7 1183.1,482.1 1183.1,510.9 1183.1,477.9 1183.1,487.0 1183.6,497.1 1183.6,513.4 1183.6,492.5 1183.6,511.6 1184.1,504.5 1184.1,477.5 1184.1,516.1 1184.1,486.2 1184.6,506.3 1184.6,482.0 1184.6,520.2 1184.6,493.1 1185.1,477.3 1185.1,532.5 1185.1,468.2 1185.6,487.9 1185.6,515.7 1185.6,485.3 1185.6,497.2 1186.1,485.8 1186.1,476.9 1186.1,506.0 1186.1,500.3 1186.6,500.6 1186.6,506.4 1186.6,471.1 1186.6,476.8 1187.1,491.3 1187.1,472.0 1187.1,514.7 1187.1,501.1 1187.6,523.4 1187.6,496.8 1187.6,528.4 1187.6,500.1 1188.1,494.1 1188.1,518.3 1188.1,484.8 1188.1,509.6 1188.6,493.4 1188.6,510.2 1188.6,488.5 1189.1,455.5 1189.1,496.7 1189.1,463.7 1189.6,478.0 1189.6,527.9 1189.6,507.4 1190.1,495.3 1190.1,522.1 1190.1,486.3 1190.1,503.6 1190.6,481.2 1190.6,469.4 1190.6,505.1 1190.6,499.5"/></defs>
<g clip-path="url(#c1)"><use href="#pl" transform="translate(0.00 0.00)" fill="none" stroke="#0000ff" stroke-width="3.00" stroke-linejoin="round" stroke-linecap="square"/></g>
<rect x="408.10" y="40.70" width="819.90" height="530.70" fill="none" stroke="#000" stroke-width="1.43"/>
<path d="M445.37,571.40v6.26" stroke="#000" stroke-width="1.43"/>
<text x="445.37" y="598.22" font-size="17.89" text-anchor="middle" fill="#000">0</text>
<path d="M564.06,571.40v6.26" stroke="#000" stroke-width="1.43"/>
<text x="564.06" y="598.22" font-size="17.89" text-anchor="middle" fill="#000">2000</text>
<path d="M682.75,571.40v6.26" stroke="#000" stroke-width="1.43"/>
<text x="682.75" y="598.22" font-size="17.89" text-anchor="middle" fill="#000">4000</text>
<path d="M801.43,571.40v6.26" stroke="#000" stroke-width="1.43"/>
<text x="801.43" y="598.22" font-size="17.89" text-anchor="middle" fill="#000">6000</text>
<path d="M920.12,571.40v6.26" stroke="#000" stroke-width="1.43"/>
<text x="920.12" y="598.22" font-size="17.89" text-anchor="middle" fill="#000">8000</text>
<path d="M1038.81,571.40v6.26" stroke="#000" stroke-width="1.43"/>
<text x="1038.81" y="598.22" font-size="17.89" text-anchor="middle" fill="#000">10000</text>
<path d="M1157.50,571.40v6.26" stroke="#000" stroke-width="1.43"/>
<text x="1157.50" y="598.22" font-size="17.89" text-anchor="middle" fill="#000">12000</text>
<path d="M408.10,521.43h-6.26" stroke="#000" stroke-width="1.43"/>
<text x="395.58" y="527.96" font-size="17.89" text-anchor="end" fill="#000">3.5</text>
<path d="M408.10,454.83h-6.26" stroke="#000" stroke-width="1.43"/>
<text x="395.58" y="461.35" font-size="17.89" text-anchor="end" fill="#000">4.0</text>
<path d="M408.10,388.23h-6.26" stroke="#000" stroke-width="1.43"/>
<text x="395.58" y="394.75" font-size="17.89" text-anchor="end" fill="#000">4.5</text>
<path d="M408.10,321.62h-6.26" stroke="#000" stroke-width="1.43"/>
<text x="395.58" y="328.14" font-size="17.89" text-anchor="end" fill="#000">5.0</text>
<path d="M408.10,255.02h-6.26" stroke="#000" stroke-width="1.43"/>
<text x="395.58" y="261.54" font-size="17.89" text-anchor="end" fill="#000">5.5</text>
<path d="M408.10,188.41h-6.26" stroke="#000" stroke-width="1.43"/>
<text x="395.58" y="194.93" font-size="17.89" text-anchor="end" fill="#000">6.0</text>
<path d="M408.10,121.81h-6.26" stroke="#000" stroke-width="1.43"/>
<text x="395.58" y="128.33" font-size="17.89" text-anchor="end" fill="#000">6.5</text>
<path d="M408.10,55.21h-6.26" stroke="#000" stroke-width="1.43"/>
<text x="395.58" y="61.73" font-size="17.89" text-anchor="end" fill="#000">7.0</text>
<text x="818.05" y="30.47" font-size="21.47" text-anchor="middle" fill="#000">Training and Validation Loss</text>
<text x="818.05" y="622.69" font-size="17.89" text-anchor="middle" fill="#000">Iteration</text>
<text x="357.40" y="308.35" font-size="17.89" text-anchor="middle" fill="#000" transform="rotate(-90 357.40 308.35)">Loss</text>
<rect x="1021.10" y="50.20" width="197.50" height="58.50" rx="3.58" fill="#fff" fill-opacity="0.8" stroke="#d2d2d2" stroke-width="1.60"/>
<path d="M1028.26,64.80h35.78" stroke="#0000ff" stroke-width="2.90" stroke-linecap="square"/>
<text x="1078.34" y="71.00" font-size="17.89" text-anchor="start" fill="#000">Training Loss</text>
<path d="M1028.26,92.10h35.78" stroke="#ff0000" stroke-width="2.90" stroke-linecap="square"/>
<text x="1078.34" y="98.40" font-size="17.89" text-anchor="start" fill="#000">Validation Loss</text>
<path d="M1361.75,40.70V571.40" stroke="#b0b0b0" stroke-width="1.43"/>
<path d="M1480.36,40.70V571.40" stroke="#b0b0b0" stroke-width="1.43"/>
<path d="M1598.98,40.70V571.40" stroke="#b0b0b0" stroke-width="1.43"/>
<path d="M1717.59,40.70V571.40" stroke="#b0b0b0" stroke-width="1.43"/>
<path d="M1836.21,40.70V571.40" stroke="#b0b0b0" stroke-width="1.43"/>
<path d="M1954.83,40.70V571.40" stroke="#b0b0b0" stroke-width="1.43"/>
<path d="M2073.44,40.70V571.40" stroke="#b0b0b0" stroke-width="1.43"/>
<path d="M1324.50,547.28H2143.90" stroke="#b0b0b0" stroke-width="1.43"/>
<path d="M1324.50,470.08H2143.90" stroke="#b0b0b0" stroke-width="1.43"/>
<path d="M1324.50,392.89H2143.90" stroke="#b0b0b0" stroke-width="1.43"/>
<path d="M1324.50,315.70H2143.90" stroke="#b0b0b0" stroke-width="1.43"/>
<path d="M1324.50,238.51H2143.90" stroke="#b0b0b0" stroke-width="1.43"/>
<path d="M1324.50,161.31H2143.90" stroke="#b0b0b0" stroke-width="1.43"/>
<path d="M1324.50,84.12H2143.90" stroke="#b0b0b0" stroke-width="1.43"/>
<defs><path id="pa" d="M1361.7,547.3 1361.7,515.1 1361.7,547.3 1362.5,515.1 1362.5,547.3 1362.5,515.1 1363.0,515.1 1363.0,547.3 1363.5,547.3 1363.5,515.1 1364.0,515.1 1364.0,547.3 1364.5,515.1 1364.5,547.3 1365.0,515.1 1365.0,547.3 1365.0,515.1 1365.5,547.3 1365.5,515.1 1366.0,547.3 1366.0,482.9 1366.5,515.1 1366.5,418.6 1366.5,547.3 1367.0,547.3 1367.0,386.5 1367.0,515.1 1367.5,290.0 1367.5,482.9 1367.5,354.3 1368.0,354.3 1368.0,322.1 1368.0,450.8 1368.0,386.5 1368.5,322.1 1368.5,482.9 1368.5,257.8 1368.5,322.1 1369.0,450.8 1369.0,290.0 1369.0,354.3 1369.5,386.5 1369.5,450.8 1369.5,322.1 1370.0,386.5 1370.0,290.0 1370.0,482.9 1370.0,354.3 1370.5,450.8 1370.5,225.6 1371.0,418.6 1371.0,450.8 1371.0,257.8 1371.0,386.5 1371.5,450.8 1371.5,354.3 1371.5,482.9 1371.5,386.5 1372.0,386.5 1372.0,322.1 1372.0,450.8 1372.5,354.3 1372.5,515.1 1372.5,257.8 1373.0,322.1 1373.0,482.9 1373.5,418.6 1373.5,290.0 1373.5,386.5 1374.0,418.6 1374.0,515.1 1374.0,290.0 1374.0,418.6 1374.5,482.9 1374.5,257.8 1374.5,450.8 1375.0,290.0 1375.0,450.8 1375.5,354.3 1375.5,450.8 1375.5,322.1 1375.5,354.3 1376.0,418.6 1376.0,450.8 1376.0,354.3 1376.5,482.9 1376.5,193.5 1376.5,450.8 1377.0,450.8 1377.0,515.1 1377.0,193.5 1377.0,386.5 1377.5,354.3 1377.5,322.1 1377.5,450.8 1377.5,322.1 1378.0,290.0 1378.0,450.8 1378.0,193.5 1378.0,418.6 1378.5,322.1 1378.5,450.8 1378.5,290.0 1378.5,354.3 1379.0,482.9 1379.0,225.6 1379.0,418.6 1379.5,450.8 1379.5,482.9 1379.5,290.0 1379.5,418.6 1380.0,482.9 1380.0,290.0 1380.0,322.1 1380.5,193.5 1380.5,450.8 1380.5,386.5 1381.0,482.9 1381.0,322.1 1381.0,450.8 1381.5,386.5 1381.5,482.9 1381.5,257.8 1381.5,386.5 1382.0,386.5 1382.0,322.1 1382.0,450.8 1382.0,354.3 1382.5,386.5 1382.5,193.5 1382.5,515.1 1382.5,386.5 1383.0,354.3 1383.0,482.9 1383.0,418.6 1383.5,290.0 1383.5,450.8 1383.5,64.8 1383.5,386.5 1384.0,386.5 1384.0,322.1 1384.0,450.8 1384.0,354.3 1384.5,354.3 1384.5,515.1 1385.0,386.5 1385.0,450.8 1385.0,354.3 1385.0,418.6 1385.5,450.8 1385.5,290.0 1385.5,482.9 1385.5,418.6 1386.0,450.8 1386.0,482.9 1386.0,290.0 1386.0,482.9 1386.5,386.5 1386.5,290.0 1386.5,450.8 1386.5,354.3 1387.0,386.5 1387.0,322.1 1387.0,450.8 1387.0,354.3 1387.5,418.6 1387.5,290.0 1387.5,482.9 1388.0,354.3 1388.0,450.8 1388.0,418.6 1388.5,193.5 1388.5,450.8 1388.5,418.6 1389.0,418.6 1389.0,290.0 1389.0,515.1 1389.5,354.3 1389.5,322.1 1389.5,450.8 1389.5,354.3 1390.0,322.1 1390.0,515.1 1390.0,450.8 1390.5,257.8 1390.5,482.9 1390.5,354.3 1391.0,450.8 1391.0,257.8 1391.0,450.8 1391.5,322.1 1391.5,482.9 1391.5,290.0 1392.0,386.5 1392.0,482.9 1392.0,322.1 1392.5,386.5 1392.5,450.8 1392.5,386.5 1393.0,354.3 1393.0,290.0 1393.0,450.8 1393.0,386.5 1393.5,450.8 1393.5,290.0 1393.5,418.6 1394.0,354.3 1394.0,257.8 1394.0,515.1 1394.0,386.5 1394.5,354.3 1394.5,450.8 1394.5,290.0 1394.5,418.6 1395.0,386.5 1395.0,225.6 1395.0,322.1 1395.5,482.9 1395.5,290.0 1395.5,418.6 1396.0,450.8 1396.0,257.8 1396.0,515.1 1396.0,322.1 1396.5,354.3 1396.5,450.8 1396.5,225.6 1396.5,450.8 1397.0,482.9 1397.0,322.1 1397.0,547.3 1397.0,418.6 1397.5,450.8 1397.5,482.9 1397.5,322.1 1398.0,418.6 1398.0,450.8 1398.0,354.3 1398.5,450.8 1398.5,290.0 1399.0,386.5 1399.0,322.1 1399.0,482.9 1399.0,354.3 1399.5,482.9 1399.5,515.1 1399.5,290.0 1400.0,386.5 1400.0,482.9 1400.0,257.8 1400.0,354.3 1400.5,547.3 1400.5,322.1 1400.5,418.6 1401.0,322.1 1401.0,290.0 1401.0,450.8 1401.0,322.1 1401.5,322.1 1401.5,290.0 1401.5,418.6 1401.5,386.5 1402.0,482.9 1402.0,225.6 1402.0,257.8 1402.5,418.6 1402.5,450.8 1402.5,290.0 1402.5,386.5 1403.0,386.5 1403.0,418.6 1403.0,354.3 1403.5,386.5 1403.5,450.8 1403.5,257.8 1403.5,386.5 1404.0,290.0 1404.0,418.6 1404.0,193.5 1404.0,354.3 1404.5,418.6 1404.5,515.1 1404.5,386.5 1404.5,515.1 1405.0,386.5 1405.0,290.0 1405.0,482.9 1405.0,386.5 1405.5,418.6 1405.5,450.8 1405.5,290.0 1405.5,418.6 1406.0,450.8 1406.0,193.5 1406.0,482.9 1406.5,386.5 1406.5,418.6 1406.5,322.1 1406.5,354.3 1407.0,386.5 1407.0,257.8 1407.0,450.8 1407.0,290.0 1407.5,418.6 1407.5,322.1 1407.5,450.8 1408.0,450.8 1408.0,322.1 1408.5,354.3 1408.5,322.1 1408.5,450.8 1409.0,515.1 1409.0,354.3 1409.0,386.5 1409.5,418.6 1409.5,515.1 1409.5,193.5 1409.5,386.5 1410.0,450.8 1410.0,515.1 1410.0,354.3 1410.5,257.8 1410.5,515.1 1410.5,225.6 1410.5,354.3 1411.0,354.3 1411.0,257.8 1411.0,482.9 1411.0,290.0 1411.5,225.6 1411.5,450.8 1411.5,322.1 1412.0,450.8 1412.0,225.6 1412.0,290.0 1412.5,386.5 1412.5,418.6 1412.5,354.3 1413.0,515.1 1413.0,257.8 1413.0,354.3 1413.5,386.5 1413.5,418.6 1413.5,290.0 1413.5,386.5 1414.0,290.0 1414.0,515.1 1414.0,386.5 1414.5,257.8 1414.5,450.8 1415.0,450.8 1415.0,482.9 1415.0,193.5 1415.5,354.3 1415.5,450.8 1416.0,418.6 1416.0,193.5 1416.0,386.5 1416.5,354.3 1416.5,482.9 1416.5,257.8 1416.5,418.6 1417.0,290.0 1417.0,482.9 1417.0,418.6 1417.5,322.1 1417.5,450.8 1417.5,290.0 1417.5,418.6 1418.0,418.6 1418.0,515.1 1418.0,322.1 1418.0,418.6 1418.5,482.9 1418.5,257.8 1418.5,354.3 1419.0,450.8 1419.0,225.6 1419.0,418.6 1419.5,386.5 1419.5,257.8 1419.5,482.9 1420.0,354.3 1420.0,225.6 1420.0,482.9 1420.5,482.9 1420.5,386.5 1420.5,515.1 1421.0,354.3 1421.0,482.9 1421.0,290.0 1421.0,354.3 1421.5,386.5 1421.5,482.9 1421.5,290.0 1421.5,418.6 1422.0,257.8 1422.0,450.8 1422.0,418.6 1422.5,418.6 1422.5,290.0 1422.5,418.6 1423.0,450.8 1423.0,322.1 1423.0,482.9 1423.0,418.6 1423.5,322.1 1423.5,225.6 1423.5,547.3 1424.0,482.9 1424.0,515.1 1424.0,257.8 1424.0,450.8 1424.5,354.3 1424.5,225.6 1424.5,547.3 1424.5,418.6 1425.0,386.5 1425.0,354.3 1425.0,515.1 1425.0,418.6 1425.5,386.5 1425.5,193.5 1425.5,450.8 1425.5,354.3 1426.0,386.5 1426.0,515.1 1426.0,290.0 1426.0,386.5 1426.5,418.6 1426.5,515.1 1426.5,257.8 1426.5,450.8 1427.0,322.1 1427.0,418.6 1427.0,386.5 1427.5,515.1 1427.5,322.1 1427.5,354.3 1428.0,482.9 1428.0,290.0 1428.0,450.8 1428.5,290.0 1428.5,547.3 1428.5,482.9 1429.0,290.0 1429.0,482.9 1429.0,386.5 1429.5,290.0 1429.5,515.1 1429.5,450.8 1430.0,322.1 1430.0,450.8 1430.0,386.5 1430.5,482.9 1430.5,322.1 1430.5,482.9 1431.0,322.1 1431.0,482.9 1431.0,386.5 1431.5,418.6 1431.5,225.6 1432.0,515.1 1432.0,193.5 1432.0,450.8 1432.5,450.8 1432.5,290.0 1432.5,354.3 1433.0,386.5 1433.0,322.1 1433.0,482.9 1433.0,418.6 1433.5,290.0 1433.5,257.8 1433.5,482.9 1434.0,354.3 1434.0,322.1 1434.0,450.8 1434.0,322.1 1434.5,354.3 1434.5,418.6 1434.5,225.6 1434.5,386.5 1435.0,482.9 1435.0,193.5 1435.0,515.1 1435.0,450.8 1435.5,386.5 1435.5,290.0 1435.5,482.9 1435.5,418.6 1436.0,418.6 1436.0,482.9 1436.0,225.6 1436.0,290.0 1436.5,322.1 1436.5,418.6 1436.5,290.0 1437.0,386.5 1437.0,515.1 1437.0,354.3 1437.0,482.9 1437.5,386.5 1437.5,257.8 1437.5,450.8 1437.5,418.6 1438.0,386.5 1438.0,322.1 1438.0,482.9 1438.0,450.8 1438.5,257.8 1438.5,515.1 1438.5,290.0 1439.0,290.0 1439.0,482.9 1439.0,322.1 1439.5,322.1 1439.5,290.0 1439.5,482.9 1439.5,418.6 1440.0,193.5 1440.0,482.9 1440.0,290.0 1440.5,290.0 1440.5,515.1 1440.5,450.8 1441.0,257.8 1441.0,482.9 1441.0,257.8 1441.5,354.3 1441.5,418.6 1441.5,290.0 1442.0,386.5 1442.0,257.8 1442.0,515.1 1442.0,354.3 1442.5,257.8 1442.5,225.6 1442.5,450.8 1442.5,257.8 1443.0,257.8 1443.0,515.1 1443.0,418.6 1443.5,418.6 1443.5,515.1 1443.5,257.8 1443.5,450.8 1444.0,257.8 1444.0,450.8 1444.0,418.6 1444.5,257.8 1444.5,386.5 1445.0,418.6 1445.0,290.0 1445.0,450.8 1445.5,450.8 1445.5,257.8 1445.5,322.1 1446.0,322.1 1446.0,450.8 1446.0,386.5 1446.5,482.9 1446.5,225.6 1447.0,322.1 1447.0,450.8 1447.0,225.6 1447.5,386.5 1447.5,450.8 1447.5,322.1 1448.0,290.0 1448.0,193.5 1448.0,450.8 1448.0,386.5 1448.5,386.5 1448.5,482.9 1448.5,322.1 1448.5,354.3 1449.0,515.1 1449.0,225.6 1449.0,450.8 1449.5,386.5 1449.5,290.0 1449.5,482.9 1449.5,354.3 1450.0,290.0 1450.0,482.9 1450.0,418.6 1450.5,450.8 1450.5,482.9 1450.5,322.1 1450.5,482.9 1451.0,515.1 1451.0,290.0 1451.0,354.3 1451.5,354.3 1451.5,515.1 1451.5,418.6 1452.0,450.8 1452.0,322.1 1452.0,450.8 1452.5,482.9 1452.5,225.6 1452.5,482.9 1453.0,450.8 1453.0,193.5 1453.0,386.5 1453.5,290.0 1453.5,515.1 1453.5,418.6 1454.0,290.0 1454.0,450.8 1454.0,225.6 1454.0,450.8 1454.5,225.6 1454.5,482.9 1454.5,386.5 1455.0,450.8 1455.0,290.0 1455.0,418.6 1455.5,386.5 1455.5,322.1 1455.5,515.1 1455.5,386.5 1456.0,386.5 1456.0,290.0 1456.5,322.1 1456.5,450.8 1457.0,290.0 1457.0,515.1 1457.0,225.6 1457.0,482.9 1457.5,193.5 1457.5,418.6 1457.5,322.1 1458.0,322.1 1458.0,450.8 1458.0,290.0 1458.0,418.6 1458.5,386.5 1458.5,418.6 1458.5,225.6 1458.5,418.6 1459.0,418.6 1459.0,354.3 1459.5,450.8 1459.5,257.8 1459.5,354.3 1460.0,354.3 1460.0,450.8 1460.0,225.6 1460.5,290.0 1460.5,450.8 1460.5,418.6 1461.0,386.5 1461.0,257.8 1461.0,450.8 1461.0,418.6 1461.5,257.8 1461.5,386.5 1461.5,193.5 1461.5,354.3 1462.0,450.8 1462.0,482.9 1462.0,290.0 1462.0,354.3 1462.5,322.1 1462.5,290.0 1462.5,482.9 1462.5,354.3 1463.0,354.3 1463.0,450.8 1463.0,225.6 1463.5,322.1 1463.5,290.0 1463.5,482.9 1463.5,418.6 1464.0,322.1 1464.0,290.0 1464.0,450.8 1464.5,450.8 1464.5,290.0 1464.5,386.5 1465.0,386.5 1465.0,225.6 1465.0,450.8 1465.0,418.6 1465.5,386.5 1465.5,450.8 1465.5,354.3 1465.5,386.5 1466.0,354.3 1466.0,225.6 1466.0,482.9 1466.5,322.1 1466.5,386.5 1466.5,290.0 1466.5,354.3 1467.0,322.1 1467.0,450.8 1467.0,322.1 1467.5,482.9 1467.5,257.8 1467.5,322.1 1468.0,386.5 1468.0,418.6 1468.0,225.6 1468.0,386.5 1468.5,515.1 1468.5,322.1 1468.5,386.5 1469.0,257.8 1469.0,225.6 1469.0,482.9 1469.5,418.6 1469.5,482.9 1469.5,354.3 1469.5,450.8 1470.0,418.6 1470.0,290.0 1470.0,482.9 1470.0,322.1 1470.5,386.5 1470.5,450.8 1470.5,290.0 1470.5,418.6 1471.0,322.1 1471.0,418.6 1471.0,290.0 1471.0,354.3 1471.5,290.0 1471.5,547.3 1471.5,386.5 1472.0,386.5 1472.0,290.0 1472.0,450.8 1472.0,386.5 1472.5,354.3 1472.5,418.6 1472.5,257.8 1472.5,386.5 1473.0,418.6 1473.0,290.0 1473.0,482.9 1473.0,354.3 1473.5,418.6 1473.5,290.0 1473.5,482.9 1474.0,386.5 1474.0,515.1 1474.0,257.8 1474.0,418.6 1474.5,418.6 1474.5,225.6 1475.0,386.5 1475.0,290.0 1475.0,450.8 1475.0,354.3 1475.5,386.5 1475.5,290.0 1475.5,515.1 1475.5,482.9 1476.0,450.8 1476.0,515.1 1476.0,354.3 1476.0,386.5 1476.5,290.0 1476.5,482.9 1476.5,322.1 1477.0,418.6 1477.0,450.8 1477.0,257.8 1477.5,450.8 1477.5,322.1 1477.5,418.6 1478.0,386.5 1478.0,193.5 1478.0,418.6 1478.0,354.3 1478.5,354.3 1478.5,450.8 1478.5,257.8 1478.5,418.6 1479.0,354.3 1479.0,193.5 1479.0,450.8 1479.0,354.3 1479.5,418.6 1479.5,450.8 1479.5,322.1 1480.0,354.3 1480.0,257.8 1480.0,450.8 1480.0,354.3 1480.5,322.1 1480.5,450.8 1480.5,290.0 1481.0,386.5 1481.0,322.1 1481.0,547.3 1481.0,450.8 1481.5,450.8 1481.5,225.6 1481.5,386.5 1482.0,450.8 1482.0,257.8 1482.0,386.5 1482.5,386.5 1482.5,482.9 1482.5,322.1 1482.5,450.8 1483.0,418.6 1483.0,450.8 1483.0,354.3 1483.0,450.8 1483.5,322.1 1483.5,450.8 1483.5,290.0 1483.5,354.3 1484.0,482.9 1484.0,515.1 1484.0,193.5 1484.0,386.5 1484.5,354.3 1484.5,418.6 1484.5,225.6 1484.5,354.3 1485.0,322.1 1485.0,450.8 1485.0,322.1 1485.5,450.8 1485.5,225.6 1485.5,322.1 1486.0,482.9 1486.0,322.1 1486.0,386.5 1486.5,386.5 1486.5,482.9 1486.5,290.0 1486.5,418.6 1487.0,322.1 1487.0,290.0 1487.0,482.9 1487.5,354.3 1487.5,450.8 1487.5,354.3 1488.0,482.9 1488.0,257.8 1488.0,386.5 1488.5,418.6 1488.5,257.8 1488.5,547.3 1488.5,482.9 1489.0,418.6 1489.0,290.0 1489.0,418.6 1489.5,386.5 1489.5,515.1 1489.5,418.6 1490.0,450.8 1490.0,482.9 1490.0,322.1 1490.5,386.5 1490.5,515.1 1490.5,257.8 1490.5,386.5 1491.0,354.3 1491.0,547.3 1491.0,290.0 1491.0,482.9 1491.5,386.5 1491.5,482.9 1492.0,225.6 1492.0,418.6 1492.0,386.5 1492.5,322.1 1492.5,482.9 1492.5,193.5 1493.0,193.5 1493.0,450.8 1493.0,418.6 1493.5,386.5 1493.5,418.6 1493.5,290.0 1494.0,257.8 1494.0,515.1 1494.0,482.9 1494.5,322.1 1494.5,482.9 1495.0,257.8 1495.0,418.6 1495.0,386.5 1495.5,322.1 1495.5,290.0 1495.5,482.9 1495.5,290.0 1496.0,515.1 1496.0,322.1 1496.5,418.6 1496.5,257.8 1496.5,290.0 1497.0,386.5 1497.0,482.9 1497.0,257.8 1497.0,418.6 1497.5,322.1 1497.5,482.9 1497.5,290.0 1497.5,354.3 1498.0,418.6 1498.0,482.9 1498.0,257.8 1498.0,386.5 1498.5,482.9 1498.5,290.0 1498.5,354.3 1499.0,418.6 1499.0,290.0 1499.0,482.9 1499.5,322.1 1499.5,450.8 1499.5,386.5 1500.0,354.3 1500.0,322.1 1500.0,482.9 1500.0,386.5 1500.5,515.1 1500.5,322.1 1500.5,386.5 1501.0,322.1 1501.0,482.9 1501.0,322.1 1501.5,386.5 1501.5,322.1 1501.5,515.1 1501.5,418.6 1502.0,450.8 1502.0,290.0 1502.5,515.1 1502.5,257.8 1502.5,354.3 1503.0,418.6 1503.0,290.0 1503.0,386.5 1503.5,290.0 1503.5,515.1 1503.5,257.8 1503.5,386.5 1504.0,418.6 1504.0,515.1 1504.0,322.1 1504.0,354.3 1504.5,290.0 1504.5,482.9 1504.5,418.6 1505.0,257.8 1505.0,482.9 1505.0,354.3 1505.5,386.5 1505.5,450.8 1505.5,290.0 1505.5,450.8 1506.0,418.6 1506.0,482.9 1506.0,257.8 1506.0,450.8 1506.5,386.5 1506.5,450.8 1506.5,290.0 1506.5,450.8 1507.0,290.0 1507.0,515.1 1507.0,386.5 1507.5,322.1 1507.5,482.9 1508.0,450.8 1508.0,257.8 1508.0,515.1 1508.0,418.6 1508.5,322.1 1508.5,450.8 1508.5,193.5 1508.5,418.6 1509.0,290.0 1509.0,418.6 1509.0,257.8 1509.0,386.5 1509.5,386.5 1509.5,322.1 1509.5,482.9 1510.0,418.6 1510.0,322.1 1510.0,515.1 1510.5,354.3 1510.5,418.6 1510.5,290.0 1510.5,354.3 1511.0,482.9 1511.0,322.1 1511.0,354.3 1511.5,386.5 1511.5,225.6 1511.5,450.8 1512.0,322.1 1512.0,225.6 1512.0,482.9 1512.0,450.8 1512.5,354.3 1512.5,482.9 1512.5,257.8 1512.5,386.5 1513.0,418.6 1513.0,482.9 1513.0,290.0 1513.0,418.6 1513.5,257.8 1513.5,386.5 1513.5,354.3 1514.0,322.1 1514.0,482.9 1514.0,290.0 1514.5,386.5 1514.5,290.0 1514.5,450.8 1514.5,386.5 1515.0,354.3 1515.0,290.0 1515.0,515.1 1515.0,386.5 1515.5,386.5 1515.5,482.9 1515.5,290.0 1515.5,418.6 1516.0,322.1 1516.0,482.9 1516.5,322.1 1516.5,482.9 1516.5,322.1 1517.0,386.5 1517.0,354.3 1517.0,482.9 1517.0,354.3 1517.5,418.6 1517.5,290.0 1517.5,450.8 1518.0,515.1 1518.0,290.0 1518.0,386.5 1518.5,354.3 1518.5,450.8 1519.0,129.2 1519.0,515.1 1519.0,354.3 1519.5,257.8 1519.5,418.6 1519.5,354.3 1520.0,322.1 1520.0,290.0 1520.0,515.1 1520.5,322.1 1520.5,450.8 1521.0,322.1 1521.0,225.6 1521.0,482.9 1521.0,322.1 1521.5,290.0 1521.5,482.9 1521.5,354.3 1522.0,257.8 1522.0,450.8 1522.0,225.6 1522.0,354.3 1522.5,418.6 1522.5,354.3 1522.5,547.3 1522.5,354.3 1523.0,386.5 1523.0,418.6 1523.0,322.1 1523.0,386.5 1523.5,225.6 1523.5,193.5 1523.5,450.8 1523.5,386.5 1524.0,482.9 1524.0,322.1 1524.5,322.1 1524.5,482.9 1524.5,418.6 1525.0,418.6 1525.0,290.0 1525.0,322.1 1525.5,257.8 1525.5,482.9 1525.5,418.6 1526.0,450.8 1526.0,322.1 1526.0,515.1 1526.0,354.3 1526.5,386.5 1526.5,257.8 1526.5,482.9 1526.5,450.8 1527.0,354.3 1527.0,450.8 1527.0,290.0 1527.0,354.3 1527.5,290.0 1527.5,515.1 1527.5,418.6 1528.0,386.5 1528.0,515.1 1528.0,322.1 1528.0,386.5 1528.5,386.5 1528.5,450.8 1528.5,322.1 1529.0,225.6 1529.0,482.9 1529.0,450.8 1529.5,386.5 1529.5,257.8 1529.5,515.1 1530.0,322.1 1530.0,450.8 1530.0,322.1 1530.5,418.6 1530.5,322.1 1530.5,418.6 1531.0,354.3 1531.0,290.0 1531.0,482.9 1531.0,418.6 1531.5,450.8 1531.5,225.6 1531.5,386.5 1532.0,386.5 1532.0,482.9 1532.5,418.6 1532.5,257.8 1532.5,482.9 1533.0,257.8 1533.0,450.8 1533.0,354.3 1533.5,515.1 1533.5,129.2 1533.5,354.3 1534.0,354.3 1534.0,450.8 1534.0,322.1 1534.0,450.8 1534.5,386.5 1534.5,482.9 1534.5,354.3 1534.5,482.9 1535.0,450.8 1535.0,547.3 1535.0,290.0 1535.0,354.3 1535.5,418.6 1535.5,450.8 1535.5,290.0 1536.0,290.0 1536.0,547.3 1536.0,290.0 1536.5,386.5 1536.5,450.8 1536.5,354.3 1536.5,418.6 1537.0,386.5 1537.0,322.1 1537.0,482.9 1537.0,354.3 1537.5,450.8 1537.5,290.0 1537.5,515.1 1537.5,418.6 1538.0,354.3 1538.0,482.9 1538.0,290.0 1538.0,386.5 1538.5,354.3 1538.5,515.1 1538.5,322.1 1538.5,450.8 1539.0,354.3 1539.0,290.0 1539.0,515.1 1539.0,322.1 1539.5,418.6 1539.5,450.8 1539.5,225.6 1540.0,354.3 1540.0,257.8 1540.0,450.8 1540.5,418.6 1540.5,450.8 1540.5,161.3 1540.5,450.8 1541.0,418.6 1541.0,515.1 1541.0,322.1 1541.5,322.1 1541.5,257.8 1541.5,515.1 1542.0,354.3 1542.0,418.6 1542.0,257.8 1542.0,290.0 1542.5,418.6 1542.5,322.1 1543.0,257.8 1543.0,482.9 1543.0,418.6 1543.5,386.5 1543.5,161.3 1543.5,450.8 1543.5,354.3 1544.0,354.3 1544.0,290.0 1544.0,482.9 1544.0,418.6 1544.5,418.6 1544.5,225.6 1545.0,450.8 1545.0,322.1 1545.0,515.1 1545.0,354.3 1545.5,354.3 1545.5,482.9 1545.5,193.5 1546.0,418.6 1546.0,515.1 1546.0,225.6 1546.5,482.9 1546.5,515.1 1546.5,290.0 1546.5,386.5 1547.0,354.3 1547.0,515.1 1547.0,450.8 1547.5,386.5 1547.5,482.9 1547.5,257.8 1547.5,482.9 1548.0,450.8 1548.0,257.8 1548.0,515.1 1548.5,386.5 1548.5,515.1 1548.5,161.3 1548.5,450.8 1549.0,418.6 1549.0,225.6 1549.0,515.1 1549.0,386.5 1549.5,386.5 1549.5,322.1 1549.5,450.8 1549.5,354.3 1550.0,450.8 1550.0,225.6 1550.0,418.6 1550.5,290.0 1550.5,482.9 1550.5,322.1 1551.0,290.0 1551.0,225.6 1551.0,482.9 1551.5,418.6 1551.5,482.9 1551.5,322.1 1552.0,482.9 1552.0,257.8 1552.0,322.1 1552.5,386.5 1552.5,482.9 1552.5,193.5 1552.5,418.6 1553.0,386.5 1553.0,225.6 1553.0,450.8 1553.5,386.5 1553.5,482.9 1553.5,257.8 1553.5,386.5 1554.0,450.8 1554.0,257.8 1554.0,418.6 1554.5,322.1 1554.5,450.8 1554.5,257.8 1554.5,386.5 1555.0,386.5 1555.0,450.8 1555.0,290.0 1555.0,418.6 1555.5,450.8 1555.5,225.6 1555.5,418.6 1556.0,386.5 1556.0,450.8 1556.0,290.0 1556.5,450.8 1556.5,386.5 1556.5,482.9 1556.5,386.5 1557.0,290.0 1557.0,257.8 1557.0,450.8 1557.0,418.6 1557.5,386.5 1557.5,515.1 1557.5,450.8 1558.0,257.8 1558.0,450.8 1558.0,354.3 1558.5,386.5 1558.5,482.9 1558.5,290.0 1559.0,290.0 1559.0,450.8 1559.0,290.0 1559.5,386.5 1559.5,354.3 1559.5,482.9 1560.0,354.3 1560.0,450.8 1560.0,290.0 1560.0,450.8 1560.5,450.8 1560.5,225.6 1560.5,482.9 1561.0,450.8 1561.0,290.0 1561.0,418.6 1561.5,290.0 1561.5,193.5 1561.5,547.3 1561.5,418.6 1562.0,482.9 1562.0,225.6 1562.0,418.6 1562.5,354.3 1562.5,418.6 1562.5,322.1 1562.5,354.3 1563.0,257.8 1563.0,418.6 1563.5,418.6 1563.5,515.1 1563.5,290.0 1563.5,418.6 1564.0,386.5 1564.0,257.8 1564.0,482.9 1564.0,322.1 1564.5,450.8 1564.5,257.8 1564.5,418.6 1565.0,515.1 1565.0,322.1 1565.0,450.8 1565.5,482.9 1565.5,257.8 1565.5,418.6 1566.0,482.9 1566.0,290.0 1566.0,482.9 1566.5,450.8 1566.5,257.8 1566.5,322.1 1567.0,290.0 1567.0,482.9 1567.0,322.1 1567.5,515.1 1567.5,257.8 1567.5,515.1 1568.0,418.6 1568.0,322.1 1568.0,450.8 1568.5,354.3 1568.5,225.6 1568.5,450.8 1569.0,354.3 1569.0,482.9 1569.0,257.8 1569.0,418.6 1569.5,354.3 1569.5,322.1 1569.5,450.8 1570.0,386.5 1570.0,418.6 1570.0,290.0 1570.0,354.3 1570.5,129.2 1570.5,450.8 1570.5,418.6 1571.0,290.0 1571.0,482.9 1571.0,418.6 1571.5,290.0 1571.5,193.5 1571.5,482.9 1571.5,322.1 1572.0,354.3 1572.0,482.9 1572.0,290.0 1572.0,482.9 1572.5,290.0 1572.5,193.5 1572.5,482.9 1573.0,482.9 1573.0,225.6 1573.5,386.5 1573.5,290.0 1573.5,482.9 1573.5,354.3 1574.0,225.6 1574.0,418.6 1574.0,193.5 1574.0,322.1 1574.5,386.5 1574.5,354.3 1574.5,482.9 1574.5,418.6 1575.0,482.9 1575.0,257.8 1575.0,386.5 1575.5,386.5 1575.5,290.0 1575.5,450.8 1575.5,418.6 1576.0,450.8 1576.0,322.1 1576.0,482.9 1576.0,418.6 1576.5,418.6 1576.5,257.8 1576.5,450.8 1576.5,322.1 1577.0,482.9 1577.0,225.6 1577.0,515.1 1577.5,322.1 1577.5,482.9 1577.5,161.3 1578.0,450.8 1578.0,322.1 1578.0,482.9 1578.5,290.0 1578.5,386.5 1578.5,257.8 1579.0,354.3 1579.0,450.8 1579.0,257.8 1579.0,450.8 1579.5,386.5 1579.5,290.0 1579.5,450.8 1579.5,354.3 1580.0,386.5 1580.0,290.0 1580.0,482.9 1580.0,450.8 1580.5,386.5 1580.5,450.8 1580.5,322.1 1580.5,418.6 1581.0,482.9 1581.0,257.8 1581.0,418.6 1581.5,257.8 1581.5,547.3 1581.5,386.5 1582.0,450.8 1582.0,290.0 1582.0,482.9 1582.0,386.5 1582.5,418.6 1582.5,450.8 1582.5,129.2 1582.5,354.3 1583.0,386.5 1583.0,418.6 1583.0,225.6 1583.0,418.6 1583.5,418.6 1583.5,322.1 1583.5,386.5 1584.0,322.1 1584.0,482.9 1584.0,257.8 1584.0,354.3 1584.5,322.1 1584.5,418.6 1584.5,386.5 1585.0,386.5 1585.0,257.8 1585.0,482.9 1585.0,450.8 1585.5,257.8 1585.5,450.8 1585.5,322.1 1586.0,386.5 1586.0,322.1 1586.0,482.9 1586.0,386.5 1586.5,354.3 1586.5,225.6 1586.5,418.6 1586.5,322.1 1587.0,450.8 1587.0,482.9 1587.0,322.1 1587.5,450.8 1587.5,257.8 1587.5,482.9 1587.5,386.5 1588.0,418.6 1588.0,322.1 1588.0,482.9 1588.5,386.5 1588.5,450.8 1588.5,322.1 1588.5,354.3 1589.0,386.5 1589.0,515.1 1589.0,322.1 1589.5,322.1 1589.5,193.5 1589.5,450.8 1589.5,354.3 1590.0,418.6 1590.0,290.0 1590.0,450.8 1590.0,354.3 1590.5,482.9 1590.5,322.1 1590.5,450.8 1591.0,547.3 1591.0,290.0 1591.0,386.5 1591.5,322.1 1591.5,482.9 1591.5,386.5 1592.0,418.6 1592.0,257.8 1592.0,515.1 1592.5,354.3 1592.5,450.8 1592.5,225.6 1592.5,418.6 1593.0,418.6 1593.0,515.1 1593.0,290.0 1593.0,418.6 1593.5,322.1 1593.5,450.8 1593.5,257.8 1593.5,290.0 1594.0,193.5 1594.0,482.9 1594.0,450.8 1594.5,322.1 1594.5,482.9 1594.5,418.6 1595.0,418.6 1595.0,129.2 1595.5,450.8 1595.5,257.8 1595.5,322.1 1596.0,482.9 1596.0,386.5 1596.5,418.6 1596.5,257.8 1596.5,450.8 1596.5,290.0 1597.0,418.6 1597.0,322.1 1597.0,482.9 1597.0,418.6 1597.5,354.3 1597.5,482.9 1597.5,290.0 1598.0,418.6 1598.0,322.1 1598.0,515.1 1598.5,257.8 1598.5,450.8 1599.0,386.5 1599.0,418.6 1599.0,354.3 1599.0,386.5 1599.5,515.1 1599.5,354.3 1600.0,418.6 1600.0,290.0 1600.0,450.8 1600.5,386.5 1600.5,322.1 1600.5,515.1 1601.0,418.6 1601.0,515.1 1601.0,354.3 1601.5,482.9 1601.5,257.8 1601.5,386.5 1602.0,322.1 1602.0,482.9 1602.0,354.3 1602.5,354.3 1602.5,418.6 1603.0,354.3 1603.0,450.8 1603.0,322.1 1603.0,450.8 1603.5,322.1 1603.5,482.9 1603.5,225.6 1603.5,386.5 1604.0,418.6 1604.0,482.9 1604.0,257.8 1604.0,450.8 1604.5,418.6 1604.5,482.9 1604.5,290.0 1605.0,386.5 1605.0,450.8 1605.0,290.0 1605.0,386.5 1605.5,418.6 1605.5,482.9 1605.5,322.1 1606.0,290.0 1606.0,418.6 1606.5,450.8 1606.5,322.1 1606.5,450.8 1607.0,386.5 1607.0,322.1 1607.0,450.8 1607.0,418.6 1607.5,418.6 1607.5,482.9 1607.5,354.3 1607.5,418.6 1608.0,257.8 1608.0,450.8 1608.0,257.8 1608.5,354.3 1608.5,322.1 1608.5,547.3 1609.0,290.0 1609.0,193.5 1609.0,450.8 1609.0,322.1 1609.5,418.6 1609.5,482.9 1609.5,225.6 1609.5,354.3 1610.0,354.3 1610.0,515.1 1610.0,257.8 1610.0,386.5 1610.5,418.6 1610.5,354.3 1610.5,547.3 1611.0,354.3 1611.0,290.0 1611.0,450.8 1611.0,386.5 1611.5,354.3 1611.5,418.6 1611.5,322.1 1611.5,386.5 1612.0,482.9 1612.0,290.0 1612.0,386.5 1612.5,418.6 1612.5,450.8 1612.5,290.0 1612.5,354.3 1613.0,418.6 1613.0,450.8 1613.0,322.1 1613.0,386.5 1613.5,322.1 1613.5,450.8 1613.5,225.6 1614.0,257.8 1614.0,450.8 1614.0,386.5 1614.5,418.6 1614.5,322.1 1614.5,482.9 1615.0,482.9 1615.0,257.8 1615.0,290.0 1615.5,450.8 1615.5,515.1 1615.5,322.1 1615.5,386.5 1616.0,386.5 1616.0,450.8 1616.0,257.8 1616.0,450.8 1616.5,354.3 1616.5,450.8 1616.5,225.6 1617.0,290.0 1617.0,515.1 1617.0,482.9 1617.5,322.1 1617.5,450.8 1617.5,290.0 1617.5,354.3 1618.0,354.3 1618.0,450.8 1618.0,322.1 1618.0,418.6 1618.5,386.5 1618.5,482.9 1618.5,290.0 1618.5,354.3 1619.0,322.1 1619.0,193.5 1619.0,450.8 1619.0,386.5 1619.5,515.1 1619.5,290.0 1619.5,386.5 1620.0,322.1 1620.0,450.8 1620.5,418.6 1620.5,482.9 1620.5,290.0 1620.5,322.1 1621.0,386.5 1621.0,290.0 1621.0,482.9 1621.5,322.1 1621.5,450.8 1621.5,354.3 1622.0,386.5 1622.0,515.1 1622.0,225.6 1622.0,322.1 1622.5,290.0 1622.5,418.6 1623.0,386.5 1623.0,290.0 1623.0,450.8 1623.0,290.0 1623.5,386.5 1623.5,257.8 1623.5,515.1 1623.5,386.5 1624.0,225.6 1624.0,482.9 1624.5,386.5 1624.5,515.1 1624.5,322.1 1624.5,482.9 1625.0,482.9 1625.0,225.6 1625.0,290.0 1625.5,450.8 1625.5,129.2 1625.5,482.9 1625.5,386.5 1626.0,515.1 1626.0,225.6 1626.0,322.1 1626.5,386.5 1626.5,515.1 1626.5,322.1 1627.0,418.6 1627.0,450.8 1627.0,290.0 1627.0,386.5 1627.5,354.3 1627.5,515.1 1627.5,257.8 1627.5,386.5 1628.0,225.6 1628.0,482.9 1628.0,193.5 1628.5,418.6 1628.5,290.0 1628.5,450.8 1629.0,418.6 1629.0,257.8 1629.0,482.9 1629.0,386.5 1629.5,482.9 1629.5,290.0 1629.5,450.8 1630.0,450.8 1630.0,515.1 1630.0,354.3 1630.0,418.6 1630.5,450.8 1630.5,257.8 1630.5,354.3 1631.0,290.0 1631.0,450.8 1631.0,257.8 1631.5,418.6 1631.5,515.1 1631.5,322.1 1631.5,386.5 1632.0,450.8 1632.0,257.8 1632.0,482.9 1632.5,482.9 1632.5,322.1 1633.0,418.6 1633.0,257.8 1633.0,482.9 1633.0,322.1 1633.5,354.3 1633.5,450.8 1633.5,225.6 1633.5,257.8 1634.0,225.6 1634.0,450.8 1634.0,354.3 1634.5,290.0 1634.5,418.6 1634.5,322.1 1635.0,290.0 1635.0,450.8 1635.0,418.6 1635.5,354.3 1635.5,418.6 1635.5,193.5 1635.5,418.6 1636.0,418.6 1636.0,322.1 1636.0,450.8 1636.0,418.6 1636.5,547.3 1636.5,225.6 1636.5,450.8 1637.0,322.1 1637.0,418.6 1637.0,257.8 1637.0,386.5 1637.5,386.5 1637.5,515.1 1637.5,225.6 1637.5,322.1 1638.0,418.6 1638.0,450.8 1638.0,225.6 1638.5,322.1 1638.5,482.9 1638.5,450.8 1639.0,386.5 1639.0,482.9 1639.0,129.2 1639.0,257.8 1639.5,386.5 1639.5,515.1 1639.5,193.5 1639.5,418.6 1640.0,354.3 1640.0,450.8 1640.0,290.0 1640.0,322.1 1640.5,322.1 1640.5,450.8 1641.0,482.9 1641.0,225.6 1641.0,515.1 1641.0,386.5 1641.5,354.3 1641.5,450.8 1641.5,257.8 1641.5,418.6 1642.0,482.9 1642.0,257.8 1642.0,450.8 1642.5,482.9 1642.5,290.0 1642.5,354.3 1643.0,225.6 1643.0,386.5 1643.0,193.5 1643.0,354.3 1643.5,322.1 1643.5,482.9 1643.5,257.8 1643.5,386.5 1644.0,290.0 1644.0,418.6 1644.5,354.3 1644.5,257.8 1644.5,482.9 1644.5,386.5 1645.0,450.8 1645.0,290.0 1645.0,354.3 1645.5,418.6 1645.5,161.3 1645.5,482.9 1645.5,386.5 1646.0,418.6 1646.0,322.1 1646.0,482.9 1646.0,354.3 1646.5,418.6 1646.5,322.1 1646.5,482.9 1647.0,354.3 1647.0,482.9 1647.0,322.1 1647.5,386.5 1647.5,257.8 1647.5,482.9 1647.5,322.1 1648.0,482.9 1648.0,322.1 1648.0,418.6 1648.5,290.0 1648.5,225.6 1648.5,515.1 1648.5,257.8 1649.0,450.8 1649.0,482.9 1649.0,354.3 1649.5,290.0 1649.5,515.1 1649.5,386.5 1650.0,354.3 1650.0,515.1 1650.0,257.8 1650.0,450.8 1650.5,386.5 1650.5,193.5 1650.5,450.8 1651.0,547.3 1651.0,322.1 1651.0,450.8 1651.5,386.5 1651.5,290.0 1651.5,450.8 1652.0,418.6 1652.0,193.5 1652.0,354.3 1652.5,354.3 1652.5,322.1 1652.5,450.8 1652.5,322.1 1653.0,482.9 1653.0,322.1 1653.5,450.8 1653.5,322.1 1653.5,450.8 1654.0,354.3 1654.0,450.8 1654.0,290.0 1654.0,354.3 1654.5,354.3 1654.5,418.6 1654.5,257.8 1654.5,354.3 1655.0,354.3 1655.0,257.8 1655.0,482.9 1655.5,257.8 1655.5,161.3 1655.5,515.1 1655.5,322.1 1656.0,386.5 1656.0,354.3 1656.0,482.9 1656.0,386.5 1656.5,450.8 1656.5,290.0 1657.0,257.8 1657.0,450.8 1657.0,418.6 1657.5,290.0 1657.5,450.8 1657.5,225.6 1657.5,354.3 1658.0,450.8 1658.0,322.1 1658.0,482.9 1658.5,257.8 1658.5,450.8 1658.5,225.6 1658.5,418.6 1659.0,418.6 1659.0,450.8 1659.0,225.6 1659.0,354.3 1659.5,418.6 1659.5,322.1 1659.5,482.9 1659.5,354.3 1660.0,482.9 1660.0,290.0 1660.5,450.8 1660.5,322.1 1660.5,418.6 1661.0,418.6 1661.0,257.8 1661.0,322.1 1661.5,386.5 1661.5,450.8 1661.5,290.0 1661.5,418.6 1662.0,290.0 1662.0,450.8 1662.0,386.5 1662.5,450.8 1662.5,322.1 1662.5,482.9 1662.5,386.5 1663.0,225.6 1663.0,482.9 1663.0,450.8 1663.5,354.3 1663.5,482.9 1663.5,193.5 1663.5,418.6 1664.0,386.5 1664.0,290.0 1664.0,418.6 1664.0,386.5 1664.5,386.5 1664.5,290.0 1664.5,450.8 1664.5,354.3 1665.0,450.8 1665.0,290.0 1665.0,515.1 1665.0,482.9 1665.5,290.0 1665.5,257.8 1665.5,386.5 1665.5,322.1 1666.0,386.5 1666.0,322.1 1666.0,450.8 1666.5,482.9 1666.5,322.1 1666.5,482.9 1667.0,386.5 1667.0,418.6 1667.0,257.8 1667.5,354.3 1667.5,515.1 1667.5,354.3 1668.0,418.6 1668.0,482.9 1668.0,386.5 1668.0,450.8 1668.5,515.1 1668.5,322.1 1669.0,482.9 1669.0,515.1 1669.0,290.0 1669.0,354.3 1669.5,482.9 1669.5,257.8 1669.5,418.6 1670.0,322.1 1670.0,257.8 1670.0,386.5 1670.5,418.6 1670.5,450.8 1670.5,257.8 1670.5,354.3 1671.0,386.5 1671.0,290.0 1671.0,515.1 1671.0,418.6 1671.5,418.6 1671.5,482.9 1671.5,257.8 1672.0,386.5 1672.0,450.8 1672.0,225.6 1672.5,386.5 1672.5,193.5 1672.5,418.6 1673.0,450.8 1673.0,354.3 1673.0,386.5 1673.5,450.8 1673.5,482.9 1673.5,290.0 1673.5,482.9 1674.0,418.6 1674.0,482.9 1674.0,225.6 1674.0,450.8 1674.5,450.8 1674.5,225.6 1674.5,386.5 1675.0,515.1 1675.0,257.8 1675.5,482.9 1675.5,354.3 1675.5,450.8 1676.0,418.6 1676.0,482.9 1676.0,257.8 1676.5,418.6 1676.5,354.3 1676.5,482.9 1676.5,386.5 1677.0,386.5 1677.0,450.8 1677.0,257.8 1677.0,418.6 1677.5,418.6 1677.5,290.0 1677.5,515.1 1678.0,450.8 1678.0,482.9 1678.0,225.6 1678.0,354.3 1678.5,418.6 1678.5,450.8 1678.5,322.1 1678.5,354.3 1679.0,290.0 1679.0,482.9 1679.0,225.6 1679.5,482.9 1679.5,161.3 1679.5,418.6 1680.0,322.1 1680.0,547.3 1680.0,322.1 1680.5,354.3 1680.5,450.8 1680.5,290.0 1680.5,418.6 1681.0,418.6 1681.0,450.8 1681.0,257.8 1681.0,354.3 1681.5,386.5 1681.5,450.8 1681.5,225.6 1682.0,418.6 1682.0,257.8 1682.0,547.3 1682.0,322.1 1682.5,354.3 1682.5,322.1 1682.5,450.8 1682.5,418.6 1683.0,129.2 1683.0,450.8 1683.0,322.1 1683.5,354.3 1683.5,450.8 1683.5,322.1 1683.5,418.6 1684.0,386.5 1684.0,450.8 1684.0,193.5 1684.0,322.1 1684.5,450.8 1684.5,290.0 1684.5,450.8 1685.0,386.5 1685.0,290.0 1685.0,450.8 1685.0,354.3 1685.5,418.6 1685.5,322.1 1685.5,418.6 1686.0,418.6 1686.0,450.8 1686.0,257.8 1686.5,354.3 1686.5,482.9 1686.5,418.6 1687.0,386.5 1687.0,450.8 1687.0,290.0 1687.5,290.0 1687.5,482.9 1688.0,450.8 1688.0,482.9 1688.0,225.6 1688.5,482.9 1688.5,322.1 1688.5,515.1 1689.0,257.8 1689.0,225.6 1689.0,450.8 1689.0,322.1 1689.5,515.1 1689.5,257.8 1689.5,290.0 1690.0,418.6 1690.0,290.0 1690.0,450.8 1690.5,322.1 1690.5,515.1 1690.5,257.8 1690.5,418.6 1691.0,482.9 1691.0,322.1 1691.0,450.8 1691.5,290.0 1691.5,450.8 1691.5,257.8 1692.0,386.5 1692.0,322.1 1692.0,450.8 1692.0,354.3 1692.5,418.6 1692.5,257.8 1692.5,482.9 1692.5,418.6 1693.0,386.5 1693.0,290.0 1693.0,418.6 1693.0,354.3 1693.5,386.5 1693.5,290.0 1693.5,386.5 1694.0,482.9 1694.0,322.1 1694.0,354.3 1694.5,354.3 1694.5,482.9 1694.5,322.1 1694.5,354.3 1695.0,386.5 1695.0,193.5 1695.0,515.1 1695.5,322.1 1695.5,386.5 1695.5,290.0 1695.5,354.3 1696.0,386.5 1696.0,225.6 1696.0,547.3 1696.0,515.1 1696.5,354.3 1696.5,418.6 1696.5,290.0 1696.5,322.1 1697.0,515.1 1697.0,290.0 1697.0,418.6 1697.5,290.0 1697.5,257.8 1697.5,418.6 1698.0,354.3 1698.0,450.8 1698.0,386.5 1698.5,290.0 1698.5,450.8 1698.5,225.6 1699.0,386.5 1699.0,450.8 1699.0,290.0 1699.0,322.1 1699.5,386.5 1699.5,515.1 1699.5,257.8 1699.5,322.1 1700.0,450.8 1700.0,482.9 1700.0,322.1 1700.5,418.6 1700.5,515.1 1700.5,322.1 1700.5,354.3 1701.0,290.0 1701.0,515.1 1701.0,257.8 1701.0,290.0 1701.5,418.6 1701.5,450.8 1701.5,225.6 1701.5,386.5 1702.0,418.6 1702.0,450.8 1702.0,290.0 1702.5,290.0 1702.5,225.6 1702.5,482.9 1703.0,418.6 1703.0,482.9 1703.0,322.1 1703.0,418.6 1703.5,482.9 1703.5,225.6 1703.5,450.8 1704.0,322.1 1704.0,418.6 1704.0,257.8 1704.0,354.3 1704.5,418.6 1704.5,290.0 1704.5,386.5 1705.0,354.3 1705.0,290.0 1705.0,515.1 1705.5,354.3 1705.5,482.9 1705.5,290.0 1705.5,386.5 1706.0,322.1 1706.0,418.6 1706.0,322.1 1706.5,515.1 1706.5,290.0 1706.5,482.9 1707.0,322.1 1707.0,482.9 1707.5,290.0 1707.5,386.5 1707.5,290.0 1708.0,322.1 1708.0,450.8 1708.0,257.8 1708.5,354.3 1708.5,257.8 1708.5,482.9 1708.5,257.8 1709.0,290.0 1709.0,450.8 1709.0,386.5 1709.5,386.5 1709.5,354.3 1709.5,515.1 1709.5,354.3 1710.0,386.5 1710.0,290.0 1710.0,515.1 1710.0,354.3 1710.5,450.8 1710.5,290.0 1710.5,482.9 1711.0,450.8 1711.0,290.0 1711.0,515.1 1711.0,322.1 1711.5,290.0 1711.5,418.6 1712.0,482.9 1712.0,257.8 1712.0,354.3 1712.5,450.8 1712.5,322.1 1712.5,450.8 1713.0,450.8 1713.0,257.8 1713.0,482.9 1713.0,257.8 1713.5,322.1 1713.5,418.6 1713.5,386.5 1714.0,225.6 1714.0,161.3 1714.0,482.9 1714.0,418.6 1714.5,225.6 1714.5,482.9 1714.5,386.5 1715.0,386.5 1715.0,450.8 1715.0,354.3 1715.0,386.5 1715.5,450.8 1715.5,322.1 1715.5,418.6 1716.0,322.1 1716.0,547.3 1716.0,322.1 1716.5,257.8 1716.5,482.9 1716.5,418.6 1717.0,354.3 1717.0,322.1 1717.0,482.9 1717.0,354.3 1717.5,418.6 1717.5,450.8 1717.5,322.1 1718.0,450.8 1718.0,322.1 1718.0,386.5 1718.5,386.5 1718.5,515.1 1718.5,257.8 1718.5,450.8 1719.0,418.6 1719.0,290.0 1719.0,482.9 1719.0,386.5 1719.5,290.0 1719.5,482.9 1719.5,418.6 1720.0,482.9 1720.0,290.0 1720.0,515.1 1720.5,322.1 1720.5,450.8 1720.5,193.5 1721.0,322.1 1721.0,450.8 1721.5,257.8 1721.5,418.6 1721.5,290.0 1722.0,418.6 1722.0,482.9 1722.0,225.6 1722.5,354.3 1722.5,257.8 1722.5,386.5 1722.5,290.0 1723.0,450.8 1723.0,482.9 1723.0,322.1 1723.0,450.8 1723.5,482.9 1723.5,354.3 1724.0,450.8 1724.0,129.2 1724.0,482.9 1724.5,418.6 1724.5,290.0 1724.5,482.9 1724.5,354.3 1725.0,386.5 1725.0,482.9 1725.0,290.0 1725.0,386.5 1725.5,450.8 1725.5,482.9 1725.5,225.6 1725.5,418.6 1726.0,386.5 1726.0,515.1 1726.0,354.3 1726.5,322.1 1726.5,418.6 1726.5,225.6 1726.5,354.3 1727.0,450.8 1727.0,322.1 1727.0,354.3 1727.5,386.5 1727.5,450.8 1727.5,322.1 1727.5,450.8 1728.0,354.3 1728.0,450.8 1728.0,257.8 1728.0,354.3 1728.5,257.8 1728.5,418.6 1728.5,225.6 1728.5,322.1 1729.0,257.8 1729.0,482.9 1729.0,386.5 1729.5,257.8 1729.5,129.2 1729.5,450.8 1729.5,193.5 1730.0,386.5 1730.0,225.6 1730.0,482.9 1730.0,386.5 1730.5,386.5 1730.5,515.1 1730.5,418.6 1731.0,386.5 1731.0,225.6 1731.0,450.8 1731.5,322.1 1731.5,450.8 1731.5,354.3 1732.0,418.6 1732.0,290.0 1732.0,354.3 1732.5,418.6 1732.5,450.8 1732.5,193.5 1732.5,290.0 1733.0,386.5 1733.0,482.9 1733.0,322.1 1733.5,418.6 1733.5,482.9 1733.5,193.5 1734.0,354.3 1734.0,257.8 1734.0,515.1 1734.0,386.5 1734.5,450.8 1734.5,290.0 1734.5,515.1 1734.5,290.0 1735.0,418.6 1735.0,482.9 1735.0,257.8 1735.0,322.1 1735.5,418.6 1735.5,450.8 1735.5,290.0 1735.5,386.5 1736.0,418.6 1736.0,482.9 1736.0,290.0 1736.5,450.8 1736.5,290.0 1736.5,482.9 1736.5,450.8 1737.0,322.1 1737.0,418.6 1737.0,290.0 1737.0,418.6 1737.5,354.3 1737.5,418.6 1737.5,322.1 1738.0,322.1 1738.0,97.0 1738.0,515.1 1738.5,290.0 1738.5,257.8 1738.5,418.6 1739.0,257.8 1739.0,482.9 1739.0,418.6 1739.5,386.5 1739.5,193.5 1739.5,418.6 1739.5,386.5 1740.0,515.1 1740.0,257.8 1740.0,450.8 1740.5,290.0 1740.5,482.9 1740.5,418.6 1741.0,482.9 1741.0,290.0 1741.0,418.6 1741.5,290.0 1741.5,257.8 1741.5,450.8 1742.0,450.8 1742.0,322.1 1742.0,354.3 1742.5,482.9 1742.5,257.8 1742.5,386.5 1743.0,322.1 1743.0,515.1 1743.0,225.6 1743.0,450.8 1743.5,418.6 1743.5,450.8 1743.5,257.8 1743.5,450.8 1744.0,322.1 1744.0,450.8 1744.0,257.8 1744.5,418.6 1744.5,322.1 1744.5,450.8 1745.0,450.8 1745.0,482.9 1745.0,322.1 1745.0,482.9 1745.5,450.8 1745.5,257.8 1746.0,482.9 1746.0,515.1 1746.0,193.5 1746.0,482.9 1746.5,450.8 1746.5,322.1 1747.0,418.6 1747.0,515.1 1747.0,193.5 1747.0,354.3 1747.5,482.9 1747.5,257.8 1747.5,386.5 1748.0,482.9 1748.0,322.1 1748.0,386.5 1748.5,515.1 1748.5,225.6 1748.5,290.0 1749.0,322.1 1749.0,450.8 1749.0,290.0 1749.5,290.0 1749.5,450.8 1750.0,354.3 1750.0,482.9 1750.0,257.8 1750.0,418.6 1750.5,322.1 1750.5,450.8 1750.5,290.0 1750.5,386.5 1751.0,290.0 1751.0,482.9 1751.5,354.3 1751.5,290.0 1751.5,482.9 1751.5,290.0 1752.0,482.9 1752.0,257.8 1752.0,290.0 1752.5,354.3 1752.5,418.6 1752.5,290.0 1753.0,450.8 1753.0,482.9 1753.0,290.0 1753.0,354.3 1753.5,450.8 1753.5,322.1 1753.5,354.3 1754.0,418.6 1754.0,257.8 1754.0,450.8 1754.5,354.3 1754.5,482.9 1754.5,290.0 1754.5,354.3 1755.0,354.3 1755.0,257.8 1755.0,482.9 1755.0,450.8 1755.5,354.3 1755.5,450.8 1755.5,193.5 1756.0,482.9 1756.0,322.1 1756.0,418.6 1756.5,161.3 1756.5,450.8 1757.0,290.0 1757.0,482.9 1757.0,257.8 1757.0,450.8 1757.5,354.3 1757.5,322.1 1757.5,547.3 1757.5,386.5 1758.0,450.8 1758.0,290.0 1758.5,482.9 1758.5,386.5 1758.5,482.9 1759.0,193.5 1759.0,418.6 1759.5,386.5 1759.5,482.9 1759.5,225.6 1759.5,482.9 1760.0,290.0 1760.0,547.3 1760.0,418.6 1760.5,354.3 1760.5,482.9 1760.5,290.0 1760.5,354.3 1761.0,322.1 1761.0,450.8 1761.0,225.6 1761.5,257.8 1761.5,515.1 1761.5,290.0 1762.0,354.3 1762.0,450.8 1762.0,290.0 1762.0,354.3 1762.5,418.6 1762.5,290.0 1762.5,354.3 1763.0,225.6 1763.0,515.1 1763.0,418.6 1763.5,322.1 1763.5,515.1 1763.5,225.6 1763.5,290.0 1764.0,418.6 1764.0,450.8 1764.0,290.0 1764.5,225.6 1764.5,482.9 1764.5,450.8 1765.0,354.3 1765.0,290.0 1765.0,482.9 1765.5,290.0 1765.5,450.8 1765.5,193.5 1766.0,257.8 1766.0,482.9 1766.0,450.8 1766.5,482.9 1766.5,225.6 1766.5,418.6 1767.0,354.3 1767.0,482.9 1767.0,322.1 1767.0,418.6 1767.5,322.1 1767.5,225.6 1767.5,354.3 1768.0,418.6 1768.0,193.5 1768.0,482.9 1768.0,290.0 1768.5,386.5 1768.5,322.1 1768.5,450.8 1768.5,386.5 1769.0,386.5 1769.0,418.6 1769.0,257.8 1769.0,386.5 1769.5,354.3 1769.5,482.9 1769.5,257.8 1769.5,450.8 1770.0,354.3 1770.0,515.1 1770.0,193.5 1770.0,322.1 1770.5,386.5 1770.5,418.6 1770.5,257.8 1770.5,354.3 1771.0,193.5 1771.0,482.9 1771.5,418.6 1771.5,450.8 1771.5,290.0 1771.5,322.1 1772.0,257.8 1772.0,193.5 1772.0,482.9 1772.0,354.3 1772.5,354.3 1772.5,450.8 1772.5,257.8 1773.0,354.3 1773.0,418.6 1773.0,257.8 1773.0,354.3 1773.5,386.5 1773.5,290.0 1773.5,450.8 1773.5,322.1 1774.0,450.8 1774.0,257.8 1774.5,450.8 1774.5,322.1 1774.5,450.8 1775.0,450.8 1775.0,257.8 1775.0,450.8 1775.5,450.8 1775.5,290.0 1775.5,482.9 1775.5,386.5 1776.0,418.6 1776.0,450.8 1776.0,322.1 1776.5,386.5 1776.5,193.5 1776.5,515.1 1776.5,322.1 1777.0,225.6 1777.0,482.9 1777.0,386.5 1777.5,354.3 1777.5,482.9 1777.5,290.0 1778.0,450.8 1778.0,322.1 1778.0,354.3 1778.5,418.6 1778.5,225.6 1778.5,386.5 1779.0,418.6 1779.0,322.1 1779.0,482.9 1779.0,322.1 1779.5,418.6 1779.5,515.1 1779.5,257.8 1780.0,386.5 1780.0,482.9 1780.0,322.1 1780.5,386.5 1780.5,257.8 1780.5,482.9 1780.5,450.8 1781.0,322.1 1781.0,418.6 1781.0,257.8 1781.0,386.5 1781.5,515.1 1781.5,322.1 1781.5,386.5 1782.0,386.5 1782.0,322.1 1782.0,418.6 1782.0,386.5 1782.5,257.8 1782.5,418.6 1782.5,386.5 1783.0,386.5 1783.0,225.6 1783.0,450.8 1783.0,386.5 1783.5,418.6 1783.5,290.0 1783.5,354.3 1784.0,354.3 1784.0,322.1 1784.0,482.9 1784.0,418.6 1784.5,482.9 1784.5,257.8 1784.5,354.3 1785.0,354.3 1785.0,418.6 1785.0,290.0 1785.0,354.3 1785.5,354.3 1785.5,290.0 1785.5,482.9 1786.0,450.8 1786.0,515.1 1786.0,257.8 1786.5,450.8 1786.5,547.3 1786.5,257.8 1787.0,386.5 1787.0,482.9 1787.0,257.8 1787.0,418.6 1787.5,418.6 1787.5,225.6 1787.5,482.9 1787.5,257.8 1788.0,322.1 1788.0,515.1 1788.0,418.6 1788.5,418.6 1788.5,290.0 1788.5,450.8 1788.5,418.6 1789.0,225.6 1789.0,450.8 1789.0,322.1 1789.5,322.1 1789.5,450.8 1789.5,193.5 1789.5,290.0 1790.0,322.1 1790.0,161.3 1790.0,450.8 1790.0,386.5 1790.5,290.0 1790.5,193.5 1790.5,515.1 1790.5,450.8 1791.0,450.8 1791.0,482.9 1791.0,322.1 1791.5,322.1 1791.5,257.8 1791.5,482.9 1792.0,482.9 1792.0,225.6 1792.0,515.1 1792.0,322.1 1792.5,290.0 1792.5,418.6 1792.5,193.5 1792.5,386.5 1793.0,290.0 1793.0,482.9 1793.0,354.3 1793.5,386.5 1793.5,450.8 1793.5,225.6 1793.5,418.6 1794.0,450.8 1794.0,257.8 1794.0,322.1 1794.5,418.6 1794.5,515.1 1794.5,257.8 1795.0,193.5 1795.0,450.8 1795.0,354.3 1795.5,386.5 1795.5,290.0 1795.5,482.9 1796.0,225.6 1796.0,450.8 1796.0,193.5 1796.0,418.6 1796.5,482.9 1796.5,290.0 1796.5,515.1 1796.5,322.1 1797.0,386.5 1797.0,257.8 1797.0,450.8 1797.0,386.5 1797.5,386.5 1797.5,482.9 1797.5,257.8 1797.5,290.0 1798.0,418.6 1798.0,482.9 1798.0,290.0 1798.0,450.8 1798.5,450.8 1798.5,482.9 1798.5,290.0 1798.5,386.5 1799.0,515.1 1799.0,257.8 1799.0,386.5 1799.5,418.6 1799.5,482.9 1799.5,257.8 1799.5,386.5 1800.0,290.0 1800.0,257.8 1800.0,482.9 1800.5,515.1 1800.5,354.3 1800.5,450.8 1801.0,322.1 1801.0,290.0 1801.0,450.8 1801.0,386.5 1801.5,418.6 1801.5,290.0 1802.0,386.5 1802.0,418.6 1802.0,193.5 1802.0,290.0 1802.5,386.5 1802.5,482.9 1802.5,257.8 1802.5,450.8 1803.0,386.5 1803.0,322.1 1803.0,450.8 1803.0,386.5 1803.5,322.1 1803.5,450.8 1803.5,225.6 1803.5,257.8 1804.0,450.8 1804.0,225.6 1804.0,418.6 1804.5,354.3 1804.5,193.5 1804.5,418.6 1805.0,450.8 1805.0,225.6 1805.0,418.6 1805.5,515.1 1805.5,322.1 1805.5,386.5 1806.0,257.8 1806.0,482.9 1806.5,386.5 1806.5,354.3 1806.5,482.9 1806.5,354.3 1807.0,418.6 1807.0,193.5 1807.0,386.5 1807.5,386.5 1807.5,450.8 1807.5,257.8 1807.5,418.6 1808.0,482.9 1808.0,225.6 1808.0,290.0 1808.5,450.8 1808.5,193.5 1808.5,386.5 1809.0,450.8 1809.0,257.8 1809.5,290.0 1809.5,450.8 1809.5,257.8 1809.5,322.1 1810.0,354.3 1810.0,482.9 1810.0,290.0 1810.0,482.9 1810.5,386.5 1810.5,225.6 1810.5,515.1 1810.5,386.5 1811.0,354.3 1811.0,193.5 1811.0,418.6 1811.0,386.5 1811.5,354.3 1811.5,515.1 1811.5,257.8 1811.5,418.6 1812.0,386.5 1812.0,450.8 1812.0,257.8 1812.0,290.0 1812.5,386.5 1812.5,418.6 1812.5,290.0 1813.0,322.1 1813.0,482.9 1813.0,354.3 1813.5,482.9 1813.5,225.6 1813.5,418.6 1814.0,450.8 1814.0,161.3 1814.0,354.3 1814.5,322.1 1814.5,482.9 1814.5,225.6 1814.5,418.6 1815.0,386.5 1815.0,290.0 1815.0,450.8 1815.5,290.0 1815.5,257.8 1815.5,450.8 1816.0,418.6 1816.0,193.5 1816.0,482.9 1816.0,386.5 1816.5,418.6 1816.5,257.8 1816.5,450.8 1816.5,322.1 1817.0,386.5 1817.0,290.0 1817.0,482.9 1817.0,322.1 1817.5,322.1 1817.5,450.8 1817.5,257.8 1817.5,450.8 1818.0,290.0 1818.0,225.6 1818.0,450.8 1818.0,386.5 1818.5,450.8 1818.5,515.1 1818.5,193.5 1818.5,322.1 1819.0,418.6 1819.0,225.6 1819.0,418.6 1819.5,418.6 1819.5,225.6 1819.5,482.9 1819.5,386.5 1820.0,418.6 1820.0,290.0 1820.0,450.8 1820.5,354.3 1820.5,257.8 1820.5,482.9 1820.5,354.3 1821.0,418.6 1821.0,450.8 1821.0,354.3 1821.5,418.6 1821.5,515.1 1821.5,257.8 1822.0,418.6 1822.0,322.1 1822.0,450.8 1822.5,322.1 1822.5,450.8 1822.5,193.5 1822.5,386.5 1823.0,225.6 1823.0,515.1 1823.0,161.3 1823.0,386.5 1823.5,418.6 1823.5,482.9 1823.5,290.0 1824.0,386.5 1824.0,482.9 1824.0,290.0 1824.0,418.6 1824.5,322.1 1824.5,515.1 1824.5,450.8 1825.0,386.5 1825.0,257.8 1825.0,418.6 1825.0,354.3 1825.5,418.6 1825.5,450.8 1825.5,322.1 1826.0,386.5 1826.0,193.5 1826.0,354.3 1826.5,386.5 1826.5,515.1 1826.5,193.5 1826.5,354.3 1827.0,482.9 1827.0,193.5 1827.0,482.9 1827.5,354.3 1827.5,482.9 1827.5,257.8 1827.5,386.5 1828.0,418.6 1828.0,257.8 1828.0,515.1 1828.0,322.1 1828.5,515.1 1828.5,193.5 1828.5,450.8 1829.0,354.3 1829.0,515.1 1829.0,290.0 1829.5,450.8 1829.5,354.3 1829.5,386.5 1830.0,322.1 1830.0,290.0 1830.0,418.6 1830.0,290.0 1830.5,386.5 1830.5,322.1 1830.5,450.8 1831.0,515.1 1831.0,257.8 1831.0,418.6 1831.5,354.3 1831.5,482.9 1831.5,257.8 1832.0,418.6 1832.0,257.8 1832.0,482.9 1832.0,418.6 1832.5,354.3 1832.5,290.0 1832.5,482.9 1832.5,322.1 1833.0,290.0 1833.0,418.6 1833.0,386.5 1833.5,386.5 1833.5,290.0 1833.5,482.9 1833.5,450.8 1834.0,418.6 1834.0,450.8 1834.0,322.1 1834.0,354.3 1834.5,354.3 1834.5,547.3 1834.5,290.0 1834.5,450.8 1835.0,257.8 1835.0,482.9 1835.0,450.8 1835.5,386.5 1835.5,482.9 1835.5,322.1 1835.5,354.3 1836.0,290.0 1836.0,482.9 1836.5,515.1 1836.5,257.8 1836.5,322.1 1837.0,193.5 1837.0,482.9 1837.0,322.1 1837.5,354.3 1837.5,450.8 1837.5,322.1 1837.5,354.3 1838.0,322.1 1838.0,290.0 1838.0,450.8 1838.5,354.3 1838.5,450.8 1838.5,193.5 1838.5,450.8 1839.0,354.3 1839.0,257.8 1839.0,482.9 1839.0,386.5 1839.5,386.5 1839.5,482.9 1839.5,225.6 1840.0,386.5 1840.0,257.8 1840.0,482.9 1840.0,322.1 1840.5,386.5 1840.5,482.9 1840.5,354.3 1840.5,418.6 1841.0,322.1 1841.0,257.8 1841.0,515.1 1841.0,322.1 1841.5,515.1 1841.5,290.0 1841.5,386.5 1842.0,354.3 1842.0,482.9 1842.0,225.6 1842.5,322.1 1842.5,515.1 1842.5,225.6 1842.5,450.8 1843.0,418.6 1843.0,290.0 1843.0,450.8 1843.5,418.6 1843.5,322.1 1843.5,515.1 1843.5,354.3 1844.0,386.5 1844.0,450.8 1844.0,290.0 1844.5,354.3 1844.5,450.8 1845.0,225.6 1845.0,482.9 1845.0,354.3 1845.5,386.5 1845.5,482.9 1845.5,354.3 1846.0,257.8 1846.0,450.8 1846.0,322.1 1846.5,482.9 1846.5,193.5 1846.5,482.9 1847.0,354.3 1847.0,225.6 1847.0,418.6 1847.0,386.5 1847.5,386.5 1847.5,482.9 1847.5,354.3 1847.5,450.8 1848.0,418.6 1848.0,450.8 1848.0,354.3 1848.0,450.8 1848.5,354.3 1848.5,482.9 1848.5,193.5 1848.5,450.8 1849.0,482.9 1849.0,322.1 1849.0,418.6 1849.5,386.5 1849.5,515.1 1849.5,225.6 1849.5,515.1 1850.0,418.6 1850.0,450.8 1850.0,257.8 1850.0,290.0 1850.5,257.8 1850.5,515.1 1850.5,193.5 1851.0,354.3 1851.0,257.8 1851.0,482.9 1851.5,418.6 1851.5,225.6 1851.5,450.8 1852.0,482.9 1852.0,257.8 1852.0,418.6 1852.5,386.5 1852.5,290.0 1852.5,515.1 1852.5,290.0 1853.0,386.5 1853.0,257.8 1853.0,515.1 1853.0,482.9 1853.5,386.5 1853.5,450.8 1853.5,290.0 1853.5,386.5 1854.0,193.5 1854.0,450.8 1854.0,322.1 1854.5,290.0 1854.5,450.8 1854.5,225.6 1854.5,418.6 1855.0,515.1 1855.0,322.1 1855.0,418.6 1855.5,322.1 1855.5,482.9 1855.5,225.6 1856.0,386.5 1856.0,482.9 1856.0,193.5 1856.0,322.1 1856.5,386.5 1856.5,482.9 1856.5,225.6 1856.5,450.8 1857.0,418.6 1857.0,482.9 1857.0,257.8 1857.0,322.1 1857.5,418.6 1857.5,257.8 1857.5,450.8 1857.5,322.1 1858.0,354.3 1858.0,257.8 1858.0,547.3 1858.0,386.5 1858.5,322.1 1858.5,450.8 1859.0,386.5 1859.0,482.9 1859.0,322.1 1859.0,354.3 1859.5,354.3 1859.5,482.9 1859.5,257.8 1859.5,354.3 1860.0,450.8 1860.0,322.1 1860.0,482.9 1860.0,386.5 1860.5,450.8 1860.5,161.3 1860.5,482.9 1860.5,450.8 1861.0,450.8 1861.0,225.6 1861.0,515.1 1861.0,322.1 1861.5,225.6 1861.5,450.8 1861.5,418.6 1862.0,482.9 1862.0,290.0 1862.0,354.3 1862.5,386.5 1862.5,290.0 1862.5,450.8 1862.5,354.3 1863.0,386.5 1863.0,482.9 1863.0,193.5 1863.5,290.0 1863.5,225.6 1863.5,450.8 1863.5,225.6 1864.0,418.6 1864.0,354.3 1864.0,515.1 1864.0,482.9 1864.5,322.1 1864.5,482.9 1864.5,290.0 1864.5,322.1 1865.0,97.0 1865.0,515.1 1865.0,418.6 1865.5,450.8 1865.5,290.0 1865.5,322.1 1866.0,257.8 1866.0,450.8 1866.0,322.1 1866.5,418.6 1866.5,354.3 1866.5,482.9 1866.5,386.5 1867.0,354.3 1867.0,290.0 1867.0,515.1 1867.0,482.9 1867.5,354.3 1867.5,515.1 1868.0,386.5 1868.0,515.1 1868.0,290.0 1868.0,386.5 1868.5,418.6 1868.5,482.9 1868.5,257.8 1868.5,450.8 1869.0,290.0 1869.0,482.9 1869.0,386.5 1869.5,322.1 1869.5,450.8 1869.5,418.6 1870.0,354.3 1870.0,418.6 1870.0,193.5 1870.0,322.1 1870.5,225.6 1870.5,161.3 1870.5,450.8 1870.5,257.8 1871.0,354.3 1871.0,515.1 1871.0,225.6 1871.0,354.3 1871.5,386.5 1871.5,225.6 1871.5,482.9 1871.5,322.1 1872.0,450.8 1872.0,547.3 1872.0,290.0 1872.5,482.9 1872.5,225.6 1872.5,450.8 1873.0,450.8 1873.0,257.8 1873.0,386.5 1873.5,418.6 1873.5,290.0 1873.5,354.3 1874.0,418.6 1874.0,290.0 1874.0,322.1 1874.5,354.3 1874.5,322.1 1874.5,418.6 1875.0,354.3 1875.0,482.9 1875.0,290.0 1875.0,322.1 1875.5,290.0 1875.5,450.8 1875.5,225.6 1875.5,257.8 1876.0,482.9 1876.0,290.0 1876.5,386.5 1876.5,482.9 1876.5,257.8 1876.5,450.8 1877.0,322.1 1877.0,418.6 1877.0,257.8 1877.0,354.3 1877.5,418.6 1877.5,290.0 1877.5,482.9 1877.5,322.1 1878.0,418.6 1878.0,225.6 1878.5,482.9 1878.5,322.1 1878.5,482.9 1879.0,290.0 1879.0,515.1 1879.5,386.5 1879.5,547.3 1879.5,257.8 1879.5,322.1 1880.0,418.6 1880.0,322.1 1880.0,418.6 1880.5,450.8 1880.5,322.1 1881.0,482.9 1881.0,322.1 1881.0,354.3 1881.5,354.3 1881.5,482.9 1881.5,257.8 1881.5,450.8 1882.0,450.8 1882.0,225.6 1882.0,450.8 1882.5,322.1 1882.5,193.5 1882.5,515.1 1882.5,450.8 1883.0,386.5 1883.0,482.9 1883.0,322.1 1883.5,322.1 1883.5,515.1 1883.5,418.6 1884.0,354.3 1884.0,515.1 1884.0,193.5 1884.0,322.1 1884.5,482.9 1884.5,225.6 1885.0,322.1 1885.0,515.1 1885.0,290.0 1885.0,354.3 1885.5,418.6 1885.5,290.0 1885.5,450.8 1885.5,418.6 1886.0,322.1 1886.0,257.8 1886.0,515.1 1886.5,386.5 1886.5,418.6 1886.5,129.2 1886.5,290.0 1887.0,418.6 1887.0,450.8 1887.0,290.0 1887.0,354.3 1887.5,418.6 1887.5,290.0 1887.5,450.8 1887.5,322.1 1888.0,354.3 1888.0,290.0 1888.0,515.1 1888.0,450.8 1888.5,322.1 1888.5,290.0 1888.5,418.6 1889.0,386.5 1889.0,225.6 1889.0,450.8 1889.5,450.8 1889.5,193.5 1889.5,290.0 1890.0,386.5 1890.0,257.8 1890.0,482.9 1890.5,354.3 1890.5,193.5 1890.5,482.9 1891.0,354.3 1891.0,482.9 1891.0,257.8 1891.5,354.3 1891.5,482.9 1891.5,290.0 1892.0,354.3 1892.0,290.0 1892.0,418.6 1892.0,386.5 1892.5,322.1 1892.5,418.6 1892.5,257.8 1892.5,322.1 1893.0,450.8 1893.0,290.0 1893.0,418.6 1893.5,290.0 1893.5,450.8 1893.5,225.6 1894.0,354.3 1894.0,386.5 1894.0,290.0 1894.0,354.3 1894.5,322.1 1894.5,450.8 1894.5,225.6 1894.5,257.8 1895.0,482.9 1895.0,322.1 1895.0,515.1 1895.0,386.5 1895.5,386.5 1895.5,515.1 1895.5,322.1 1895.5,450.8 1896.0,322.1 1896.0,290.0 1896.0,482.9 1896.5,482.9 1896.5,322.1 1896.5,354.3 1897.0,322.1 1897.0,482.9 1897.0,225.6 1897.5,257.8 1897.5,450.8 1897.5,418.6 1898.0,354.3 1898.0,225.6 1898.0,482.9 1898.5,354.3 1898.5,450.8 1898.5,161.3 1898.5,257.8 1899.0,418.6 1899.0,354.3 1899.0,450.8 1899.0,354.3 1899.5,418.6 1899.5,225.6 1900.0,354.3 1900.0,322.1 1900.0,450.8 1900.0,354.3 1900.5,418.6 1900.5,225.6 1900.5,354.3 1901.0,482.9 1901.0,322.1 1901.5,386.5 1901.5,418.6 1901.5,290.0 1901.5,418.6 1902.0,322.1 1902.0,515.1 1902.0,225.6 1902.0,354.3 1902.5,322.1 1902.5,515.1 1902.5,418.6 1903.0,290.0 1903.0,450.8 1903.0,386.5 1903.5,290.0 1903.5,257.8 1903.5,386.5 1903.5,290.0 1904.0,418.6 1904.0,482.9 1904.0,322.1 1904.5,257.8 1904.5,450.8 1904.5,225.6 1904.5,418.6 1905.0,386.5 1905.0,322.1 1905.0,386.5 1905.5,386.5 1905.5,515.1 1905.5,225.6 1905.5,515.1 1906.0,515.1 1906.0,290.0 1906.0,322.1 1906.5,290.0 1906.5,450.8 1906.5,386.5 1907.0,322.1 1907.0,450.8 1907.0,290.0 1907.0,450.8 1907.5,450.8 1907.5,257.8 1907.5,386.5 1908.0,257.8 1908.0,450.8 1908.0,418.6 1908.5,354.3 1908.5,482.9 1908.5,386.5 1909.0,515.1 1909.0,322.1 1909.0,386.5 1909.5,386.5 1909.5,450.8 1909.5,257.8 1909.5,450.8 1910.0,322.1 1910.0,418.6 1910.0,354.3 1910.5,386.5 1910.5,482.9 1910.5,322.1 1910.5,354.3 1911.0,386.5 1911.0,193.5 1911.0,450.8 1911.0,418.6 1911.5,225.6 1911.5,515.1 1911.5,418.6 1912.0,418.6 1912.0,322.1 1912.0,386.5 1912.5,193.5 1912.5,450.8 1912.5,386.5 1913.0,418.6 1913.0,322.1 1913.5,322.1 1913.5,290.0 1913.5,450.8 1913.5,322.1 1914.0,225.6 1914.0,418.6 1914.0,354.3 1914.5,354.3 1914.5,482.9 1915.0,418.6 1915.0,482.9 1915.0,193.5 1915.5,450.8 1915.5,482.9 1915.5,290.0 1916.0,386.5 1916.0,450.8 1916.0,322.1 1916.0,386.5 1916.5,515.1 1916.5,257.8 1917.0,386.5 1917.0,257.8 1917.0,482.9 1917.0,354.3 1917.5,418.6 1917.5,322.1 1917.5,450.8 1917.5,386.5 1918.0,354.3 1918.0,482.9 1918.0,225.6 1918.0,322.1 1918.5,354.3 1918.5,450.8 1918.5,257.8 1918.5,386.5 1919.0,418.6 1919.0,290.0 1919.0,450.8 1919.0,418.6 1919.5,418.6 1919.5,290.0 1919.5,418.6 1920.0,354.3 1920.0,290.0 1920.0,418.6 1920.0,322.1 1920.5,386.5 1920.5,290.0 1920.5,322.1 1921.0,450.8 1921.0,482.9 1921.0,225.6 1921.0,322.1 1921.5,354.3 1921.5,450.8 1922.0,386.5 1922.0,515.1 1922.0,257.8 1922.0,418.6 1922.5,482.9 1922.5,515.1 1922.5,290.0 1922.5,450.8 1923.0,418.6 1923.0,290.0 1923.0,418.6 1923.5,290.0 1923.5,450.8 1924.0,386.5 1924.0,515.1 1924.0,225.6 1924.0,386.5 1924.5,450.8 1924.5,322.1 1924.5,386.5 1925.0,450.8 1925.0,322.1 1925.0,354.3 1925.5,290.0 1925.5,515.1 1925.5,257.8 1925.5,418.6 1926.0,290.0 1926.0,482.9 1926.0,386.5 1926.5,257.8 1926.5,482.9 1926.5,418.6 1927.0,257.8 1927.0,515.1 1927.0,225.6 1927.5,354.3 1927.5,547.3 1927.5,257.8 1928.0,354.3 1928.0,450.8 1928.0,257.8 1928.0,450.8 1928.5,482.9 1928.5,290.0 1928.5,354.3 1929.0,354.3 1929.0,450.8 1929.0,257.8 1929.0,386.5 1929.5,386.5 1929.5,290.0 1929.5,482.9 1930.0,322.1 1930.0,547.3 1930.0,225.6 1930.5,450.8 1930.5,225.6 1930.5,482.9 1930.5,354.3 1931.0,450.8 1931.0,290.0 1931.0,515.1 1931.0,354.3 1931.5,290.0 1931.5,418.6 1931.5,257.8 1932.0,225.6 1932.0,482.9 1932.0,450.8 1932.5,354.3 1932.5,450.8 1932.5,290.0 1932.5,418.6 1933.0,482.9 1933.0,290.0 1933.0,354.3 1933.5,418.6 1933.5,482.9 1933.5,161.3 1933.5,386.5 1934.0,450.8 1934.0,547.3 1934.0,193.5 1934.0,418.6 1934.5,257.8 1934.5,450.8 1934.5,290.0 1935.0,386.5 1935.0,322.1 1935.0,482.9 1935.5,386.5 1935.5,482.9 1935.5,322.1 1935.5,354.3 1936.0,257.8 1936.0,450.8 1936.0,386.5 1936.5,290.0 1936.5,482.9 1936.5,257.8 1936.5,418.6 1937.0,386.5 1937.0,322.1 1937.0,450.8 1937.5,322.1 1937.5,482.9 1937.5,354.3 1938.0,418.6 1938.0,322.1 1938.0,515.1 1938.0,354.3 1938.5,386.5 1938.5,482.9 1938.5,290.0 1938.5,450.8 1939.0,386.5 1939.0,450.8 1939.0,290.0 1939.0,450.8 1939.5,386.5 1939.5,450.8 1939.5,257.8 1939.5,450.8 1940.0,386.5 1940.0,354.3 1940.0,482.9 1940.0,450.8 1940.5,290.0 1940.5,450.8 1941.0,450.8 1941.0,290.0 1941.5,418.6 1941.5,290.0 1941.5,450.8 1941.5,290.0 1942.0,386.5 1942.0,418.6 1942.0,257.8 1942.0,290.0 1942.5,354.3 1942.5,515.1 1942.5,225.6 1942.5,482.9 1943.0,322.1 1943.0,418.6 1943.0,290.0 1943.5,418.6 1943.5,257.8 1943.5,322.1 1944.0,225.6 1944.0,418.6 1944.5,225.6 1944.5,450.8 1945.0,386.5 1945.0,257.8 1945.0,482.9 1945.0,257.8 1945.5,418.6 1945.5,257.8 1945.5,450.8 1945.5,354.3 1946.0,290.0 1946.0,418.6 1946.5,418.6 1946.5,290.0 1946.5,515.1 1946.5,418.6 1947.0,290.0 1947.0,482.9 1947.0,450.8 1947.5,418.6 1947.5,322.1 1947.5,450.8 1947.5,354.3 1948.0,386.5 1948.0,322.1 1948.0,515.1 1948.0,322.1 1948.5,450.8 1948.5,290.0 1948.5,450.8 1949.0,418.6 1949.0,290.0 1949.0,450.8 1949.0,386.5 1949.5,257.8 1949.5,515.1 1949.5,386.5 1950.0,354.3 1950.0,322.1 1950.0,450.8 1950.0,322.1 1950.5,418.6 1950.5,450.8 1950.5,193.5 1951.0,354.3 1951.0,257.8 1951.0,482.9 1951.5,386.5 1951.5,418.6 1951.5,225.6 1951.5,386.5 1952.0,322.1 1952.0,290.0 1952.0,515.1 1952.0,386.5 1952.5,450.8 1952.5,322.1 1952.5,386.5 1953.0,482.9 1953.0,257.8 1953.5,322.1 1953.5,450.8 1953.5,290.0 1954.0,482.9 1954.0,257.8 1954.0,354.3 1954.5,322.1 1954.5,225.6 1954.5,418.6 1954.5,386.5 1955.0,386.5 1955.0,418.6 1955.0,193.5 1955.0,257.8 1955.5,354.3 1955.5,482.9 1955.5,418.6 1956.0,386.5 1956.0,322.1 1956.0,386.5 1956.5,482.9 1956.5,225.6 1956.5,354.3 1957.0,354.3 1957.0,322.1 1957.0,482.9 1957.5,290.0 1957.5,450.8 1958.0,354.3 1958.0,482.9 1958.0,290.0 1958.0,386.5 1958.5,450.8 1958.5,257.8 1958.5,482.9 1958.5,386.5 1959.0,418.6 1959.0,290.0 1959.0,418.6 1959.5,386.5 1959.5,515.1 1959.5,290.0 1959.5,450.8 1960.0,386.5 1960.0,225.6 1960.0,450.8 1960.0,418.6 1960.5,354.3 1960.5,418.6 1960.5,290.0 1960.5,354.3 1961.0,354.3 1961.0,290.0 1961.0,418.6 1961.0,354.3 1961.5,386.5 1961.5,482.9 1961.5,225.6 1961.5,450.8 1962.0,322.1 1962.0,482.9 1962.0,290.0 1962.0,386.5 1962.5,257.8 1962.5,418.6 1962.5,257.8 1963.0,322.1 1963.0,450.8 1963.5,418.6 1963.5,482.9 1963.5,257.8 1963.5,290.0 1964.0,290.0 1964.0,482.9 1964.0,257.8 1964.5,354.3 1964.5,515.1 1964.5,386.5 1965.0,386.5 1965.0,515.1 1965.0,290.0 1965.0,418.6 1965.5,418.6 1965.5,450.8 1965.5,290.0 1965.5,450.8 1966.0,322.1 1966.0,482.9 1966.0,354.3 1966.5,450.8 1966.5,257.8 1967.0,450.8 1967.0,322.1 1967.0,386.5 1967.5,386.5 1967.5,354.3 1967.5,482.9 1968.0,450.8 1968.0,515.1 1968.0,257.8 1968.0,354.3 1968.5,386.5 1968.5,450.8 1968.5,193.5 1968.5,418.6 1969.0,450.8 1969.0,161.3 1969.0,418.6 1969.5,257.8 1969.5,450.8 1969.5,225.6 1969.5,354.3 1970.0,450.8 1970.0,290.0 1970.0,482.9 1970.0,354.3 1970.5,322.1 1970.5,257.8 1970.5,450.8 1971.0,515.1 1971.0,322.1 1971.5,225.6 1971.5,515.1 1971.5,354.3 1972.0,386.5 1972.0,193.5 1972.0,418.6 1972.5,322.1 1972.5,515.1 1972.5,290.0 1972.5,322.1 1973.0,322.1 1973.0,257.8 1973.0,450.8 1973.0,418.6 1973.5,257.8 1973.5,450.8 1973.5,290.0 1974.0,354.3 1974.0,290.0 1974.0,482.9 1974.0,386.5 1974.5,418.6 1974.5,482.9 1974.5,225.6 1974.5,418.6 1975.0,354.3 1975.0,450.8 1975.0,257.8 1975.5,418.6 1975.5,225.6 1975.5,290.0 1976.0,450.8 1976.0,322.1 1976.0,482.9 1976.0,418.6 1976.5,290.0 1976.5,225.6 1976.5,418.6 1976.5,386.5 1977.0,386.5 1977.0,450.8 1977.0,290.0 1977.0,418.6 1977.5,290.0 1977.5,450.8 1977.5,257.8 1977.5,418.6 1978.0,450.8 1978.0,290.0 1978.5,354.3 1978.5,450.8 1978.5,322.1 1978.5,354.3 1979.0,386.5 1979.0,482.9 1979.0,322.1 1979.0,482.9 1979.5,386.5 1979.5,290.0 1979.5,482.9 1979.5,322.1 1980.0,418.6 1980.0,482.9 1980.0,290.0 1980.0,386.5 1980.5,354.3 1980.5,257.8 1980.5,450.8 1980.5,386.5 1981.0,322.1 1981.0,193.5 1981.0,450.8 1981.5,386.5 1981.5,354.3 1981.5,482.9 1982.0,354.3 1982.0,161.3 1982.0,547.3 1982.0,450.8 1982.5,515.1 1982.5,290.0 1982.5,354.3 1983.0,354.3 1983.0,225.6 1983.0,450.8 1983.5,354.3 1983.5,418.6 1983.5,322.1 1983.5,386.5 1984.0,386.5 1984.0,322.1 1984.0,450.8 1984.0,386.5 1984.5,322.1 1984.5,225.6 1984.5,482.9 1984.5,418.6 1985.0,193.5 1985.0,450.8 1985.0,386.5 1985.5,386.5 1985.5,418.6 1985.5,225.6 1985.5,290.0 1986.0,354.3 1986.0,290.0 1986.0,418.6 1986.0,354.3 1986.5,386.5 1986.5,322.1 1986.5,515.1 1986.5,418.6 1987.0,386.5 1987.0,450.8 1987.0,290.0 1987.0,386.5 1987.5,482.9 1987.5,257.8 1987.5,450.8 1988.0,386.5 1988.0,418.6 1988.0,322.1 1988.0,386.5 1988.5,515.1 1988.5,290.0 1988.5,482.9 1989.0,290.0 1989.0,482.9 1989.0,354.3 1989.5,482.9 1989.5,225.6 1989.5,482.9 1990.0,354.3 1990.0,225.6 1990.0,482.9 1990.0,322.1 1990.5,290.0 1990.5,482.9 1990.5,354.3 1991.0,450.8 1991.0,515.1 1991.0,354.3 1991.0,386.5 1991.5,354.3 1991.5,482.9 1992.0,418.6 1992.0,450.8 1992.0,257.8 1992.5,290.0 1992.5,482.9 1992.5,290.0 1993.0,386.5 1993.0,193.5 1993.0,450.8 1993.5,290.0 1993.5,482.9 1993.5,386.5 1994.0,418.6 1994.0,482.9 1994.0,225.6 1994.0,450.8 1994.5,386.5 1994.5,225.6 1994.5,450.8 1994.5,225.6 1995.0,257.8 1995.0,450.8 1995.0,386.5 1995.5,482.9 1995.5,193.5 1996.0,257.8 1996.0,482.9 1996.0,354.3 1996.5,450.8 1996.5,482.9 1996.5,225.6 1996.5,418.6 1997.0,354.3 1997.0,450.8 1997.0,386.5 1997.5,386.5 1997.5,290.0 1998.0,257.8 1998.0,482.9 1998.0,193.5 1998.0,322.1 1998.5,354.3 1998.5,322.1 1998.5,482.9 1998.5,386.5 1999.0,418.6 1999.0,450.8 1999.0,322.1 1999.0,354.3 1999.5,225.6 1999.5,418.6 2000.0,418.6 2000.0,193.5 2000.0,450.8 2000.0,418.6 2000.5,450.8 2000.5,257.8 2000.5,515.1 2000.5,482.9 2001.0,290.0 2001.0,482.9 2001.0,418.6 2001.5,257.8 2001.5,482.9 2001.5,418.6 2002.0,418.6 2002.0,257.8 2002.0,322.1 2002.5,450.8 2002.5,482.9 2002.5,290.0 2003.0,482.9 2003.0,257.8 2003.0,354.3 2003.5,386.5 2003.5,290.0 2003.5,450.8 2003.5,386.5 2004.0,418.6 2004.0,257.8 2004.0,482.9 2004.0,354.3 2004.5,386.5 2004.5,482.9 2004.5,290.0 2004.5,322.1 2005.0,322.1 2005.0,290.0 2005.0,450.8 2005.5,418.6 2005.5,515.1 2005.5,193.5 2005.5,418.6 2006.0,418.6 2006.0,482.9 2006.0,193.5 2006.0,450.8 2006.5,418.6 2006.5,482.9 2006.5,193.5 2006.5,418.6 2007.0,450.8 2007.0,515.1 2007.0,225.6 2007.0,450.8 2007.5,386.5 2007.5,322.1 2007.5,482.9 2008.0,386.5 2008.0,257.8 2008.0,418.6 2008.5,290.0 2008.5,482.9 2008.5,354.3 2009.0,354.3 2009.0,418.6 2009.0,290.0 2009.0,386.5 2009.5,322.1 2009.5,482.9 2009.5,290.0 2009.5,386.5 2010.0,354.3 2010.0,418.6 2010.0,290.0 2010.0,322.1 2010.5,450.8 2010.5,257.8 2010.5,482.9 2011.0,386.5 2011.0,450.8 2011.0,290.0 2011.0,354.3 2011.5,225.6 2011.5,482.9 2011.5,386.5 2012.0,450.8 2012.0,547.3 2012.0,257.8 2012.5,418.6 2012.5,354.3 2012.5,482.9 2012.5,450.8 2013.0,450.8 2013.0,193.5 2013.0,354.3 2013.5,354.3 2013.5,482.9 2013.5,225.6 2013.5,418.6 2014.0,450.8 2014.0,515.1 2014.0,193.5 2014.5,418.6 2014.5,257.8 2014.5,450.8 2014.5,418.6 2015.0,386.5 2015.0,290.0 2015.0,418.6 2015.5,386.5 2015.5,193.5 2015.5,418.6 2015.5,290.0 2016.0,386.5 2016.0,322.1 2016.0,418.6 2016.5,418.6 2016.5,290.0 2016.5,450.8 2016.5,290.0 2017.0,322.1 2017.0,450.8 2017.0,257.8 2017.0,322.1 2017.5,386.5 2017.5,450.8 2017.5,354.3 2017.5,386.5 2018.0,418.6 2018.0,482.9 2018.0,257.8 2018.0,354.3 2018.5,354.3 2018.5,450.8 2018.5,225.6 2018.5,354.3 2019.0,354.3 2019.0,290.0 2019.0,418.6 2019.0,354.3 2019.5,386.5 2019.5,418.6 2019.5,322.1 2019.5,354.3 2020.0,290.0 2020.0,225.6 2020.0,450.8 2020.5,450.8 2020.5,290.0 2020.5,418.6 2021.0,225.6 2021.0,515.1 2021.0,418.6 2021.5,418.6 2021.5,515.1 2021.5,322.1 2022.0,515.1 2022.0,257.8 2022.0,322.1 2022.5,386.5 2022.5,193.5 2022.5,418.6 2022.5,386.5 2023.0,450.8 2023.0,257.8 2023.0,482.9 2023.5,322.1 2023.5,450.8 2023.5,322.1 2024.0,386.5 2024.0,322.1 2024.0,450.8 2024.0,386.5 2024.5,354.3 2024.5,482.9 2024.5,257.8 2024.5,322.1 2025.0,322.1 2025.0,193.5 2025.0,450.8 2025.5,418.6 2025.5,450.8 2025.5,354.3 2025.5,418.6 2026.0,354.3 2026.0,482.9 2026.0,225.6 2026.0,450.8 2026.5,482.9 2026.5,290.0 2026.5,515.1 2026.5,418.6 2027.0,290.0 2027.0,418.6 2027.0,386.5 2027.5,354.3 2027.5,418.6 2027.5,129.2 2027.5,290.0 2028.0,290.0 2028.0,257.8 2028.0,450.8 2028.5,482.9 2028.5,290.0 2028.5,322.1 2029.0,225.6 2029.0,515.1 2029.0,418.6 2029.5,450.8 2029.5,225.6 2029.5,257.8 2030.0,322.1 2030.0,290.0 2030.0,450.8 2030.0,418.6 2030.5,354.3 2030.5,290.0 2030.5,482.9 2030.5,386.5 2031.0,450.8 2031.0,193.5 2031.0,482.9 2031.5,290.0 2031.5,418.6 2031.5,354.3 2032.0,290.0 2032.0,450.8 2032.0,193.5 2032.0,322.1 2032.5,257.8 2032.5,418.6 2033.0,290.0 2033.0,257.8 2033.0,482.9 2033.0,386.5 2033.5,225.6 2033.5,482.9 2033.5,290.0 2034.0,482.9 2034.0,322.1 2034.0,386.5 2034.5,322.1 2034.5,290.0 2034.5,482.9 2034.5,450.8 2035.0,418.6 2035.0,257.8 2035.0,482.9 2035.0,386.5 2035.5,322.1 2035.5,225.6 2035.5,482.9 2035.5,354.3 2036.0,322.1 2036.0,450.8 2036.0,386.5 2036.5,354.3 2036.5,257.8 2036.5,418.6 2037.0,290.0 2037.0,418.6 2037.0,257.8 2037.0,386.5 2037.5,418.6 2037.5,482.9 2037.5,257.8 2037.5,450.8 2038.0,354.3 2038.0,257.8 2038.0,450.8 2038.5,354.3 2038.5,290.0 2038.5,482.9 2039.0,354.3 2039.0,257.8 2039.0,450.8 2039.0,418.6 2039.5,257.8 2039.5,450.8 2039.5,257.8 2040.0,386.5 2040.0,450.8 2040.0,290.0 2040.0,418.6 2040.5,418.6 2040.5,450.8 2040.5,354.3 2040.5,450.8 2041.0,354.3 2041.0,322.1 2041.0,482.9 2041.0,418.6 2041.5,386.5 2041.5,450.8 2041.5,257.8 2041.5,386.5 2042.0,450.8 2042.0,386.5 2042.0,482.9 2042.5,322.1 2042.5,450.8 2042.5,257.8 2042.5,418.6 2043.0,386.5 2043.0,515.1 2043.0,290.0 2043.0,354.3 2043.5,290.0 2043.5,515.1 2043.5,418.6 2044.0,386.5 2044.0,418.6 2044.0,193.5 2044.0,386.5 2044.5,418.6 2044.5,322.1 2044.5,515.1 2044.5,386.5 2045.0,290.0 2045.0,482.9 2045.0,354.3 2045.5,450.8 2045.5,193.5 2045.5,322.1 2046.0,450.8 2046.0,257.8 2046.0,418.6 2046.5,482.9 2046.5,257.8 2046.5,290.0 2047.0,354.3 2047.0,257.8 2047.0,354.3 2047.5,290.0 2047.5,515.1 2047.5,418.6 2048.0,322.1 2048.0,193.5 2048.0,450.8 2048.0,290.0 2048.5,322.1 2048.5,290.0 2048.5,418.6 2049.0,515.1 2049.0,257.8 2049.0,386.5 2049.5,354.3 2049.5,290.0 2049.5,450.8 2049.5,354.3 2050.0,386.5 2050.0,290.0 2050.0,418.6 2050.0,354.3 2050.5,450.8 2050.5,257.8 2050.5,482.9 2050.5,386.5 2051.0,257.8 2051.0,482.9 2051.0,257.8 2051.5,386.5 2051.5,515.1 2051.5,161.3 2051.5,386.5 2052.0,354.3 2052.0,257.8 2052.0,418.6 2052.5,482.9 2052.5,354.3 2053.0,386.5 2053.0,322.1 2053.0,450.8 2053.0,354.3 2053.5,386.5 2053.5,450.8 2053.5,386.5 2054.0,322.1 2054.0,450.8 2054.0,225.6 2054.0,257.8 2054.5,354.3 2054.5,322.1 2054.5,450.8 2054.5,354.3 2055.0,450.8 2055.0,225.6 2055.0,482.9 2055.5,386.5 2055.5,418.6 2055.5,354.3 2055.5,386.5 2056.0,450.8 2056.0,225.6 2056.5,322.1 2056.5,450.8 2056.5,257.8 2057.0,257.8 2057.0,482.9 2057.0,386.5 2057.5,418.6 2057.5,322.1 2057.5,515.1 2057.5,450.8 2058.0,418.6 2058.0,450.8 2058.0,257.8 2058.0,450.8 2058.5,450.8 2058.5,354.3 2058.5,515.1 2058.5,386.5 2059.0,450.8 2059.0,225.6 2059.5,450.8 2059.5,322.1 2059.5,354.3 2060.0,482.9 2060.0,257.8 2060.5,257.8 2060.5,547.3 2060.5,386.5 2061.0,354.3 2061.0,161.3 2061.0,482.9 2061.0,354.3 2061.5,386.5 2061.5,225.6 2061.5,418.6 2061.5,322.1 2062.0,418.6 2062.0,450.8 2062.0,225.6 2062.5,290.0 2062.5,450.8 2062.5,257.8 2063.0,354.3 2063.0,450.8 2063.0,290.0 2063.0,386.5 2063.5,322.1 2063.5,450.8 2064.0,322.1 2064.0,515.1 2064.0,290.0 2064.5,450.8 2064.5,482.9 2064.5,257.8 2064.5,482.9 2065.0,418.6 2065.0,482.9 2065.0,322.1 2065.0,386.5 2065.5,386.5 2065.5,161.3 2065.5,482.9 2066.0,257.8 2066.0,482.9 2066.5,322.1 2066.5,193.5 2066.5,482.9 2067.0,418.6 2067.0,450.8 2067.0,257.8 2067.0,418.6 2067.5,482.9 2067.5,354.3 2067.5,386.5 2068.0,386.5 2068.0,290.0 2068.0,418.6 2068.5,129.2 2068.5,354.3 2069.0,515.1 2069.0,322.1 2069.0,547.3 2069.0,450.8 2069.5,418.6 2069.5,450.8 2069.5,257.8 2070.0,354.3 2070.0,257.8 2070.0,418.6 2070.0,257.8 2070.5,386.5 2070.5,482.9 2070.5,354.3 2071.0,450.8 2071.0,322.1 2071.5,354.3 2071.5,482.9 2071.5,257.8 2071.5,450.8 2072.0,257.8 2072.0,482.9 2072.0,386.5 2072.5,257.8 2072.5,418.6 2073.0,290.0 2073.0,450.8 2073.0,257.8 2073.0,290.0 2073.5,290.0 2073.5,450.8 2073.5,290.0 2074.0,450.8 2074.0,482.9 2074.0,290.0 2074.0,322.1 2074.5,257.8 2074.5,450.8 2074.5,418.6 2075.0,418.6 2075.0,515.1 2075.0,322.1 2075.0,482.9 2075.5,418.6 2075.5,450.8 2075.5,257.8 2076.0,418.6 2076.0,450.8 2076.0,97.0 2076.0,322.1 2076.5,418.6 2076.5,257.8 2076.5,450.8 2076.5,418.6 2077.0,322.1 2077.0,257.8 2077.0,450.8 2077.0,386.5 2077.5,354.3 2077.5,515.1 2077.5,386.5 2078.0,257.8 2078.0,450.8 2078.0,386.5 2078.5,418.6 2078.5,290.0 2079.0,482.9 2079.0,290.0 2079.0,450.8 2079.5,257.8 2079.5,450.8 2080.0,418.6 2080.0,482.9 2080.0,225.6 2080.0,450.8 2080.5,322.1 2080.5,482.9 2080.5,290.0 2081.0,257.8 2081.0,418.6 2081.0,257.8 2081.5,386.5 2081.5,450.8 2081.5,225.6 2081.5,322.1 2082.0,322.1 2082.0,290.0 2082.0,418.6 2082.0,354.3 2082.5,193.5 2082.5,450.8 2082.5,225.6 2083.0,322.1 2083.0,257.8 2083.0,515.1 2083.0,386.5 2083.5,322.1 2083.5,450.8 2083.5,257.8 2084.0,450.8 2084.0,193.5 2084.0,450.8 2084.5,354.3 2084.5,97.0 2084.5,482.9 2084.5,354.3 2085.0,322.1 2085.0,515.1 2085.0,225.6 2085.0,354.3 2085.5,386.5 2085.5,290.0 2085.5,515.1 2085.5,450.8 2086.0,354.3 2086.0,193.5 2086.0,482.9 2086.0,354.3 2086.5,386.5 2086.5,290.0 2086.5,450.8 2086.5,354.3 2087.0,257.8 2087.0,386.5 2087.0,290.0 2087.5,354.3 2087.5,418.6 2087.5,290.0 2087.5,418.6 2088.0,354.3 2088.0,290.0 2088.0,418.6 2088.0,322.1 2088.5,386.5 2088.5,482.9 2088.5,225.6 2088.5,386.5 2089.0,418.6 2089.0,322.1 2089.0,450.8 2089.0,418.6 2089.5,386.5 2089.5,418.6 2089.5,354.3 2089.5,386.5 2090.0,418.6 2090.0,193.5 2090.0,354.3 2090.5,482.9 2090.5,322.1 2090.5,450.8 2091.0,450.8 2091.0,515.1 2091.0,225.6 2091.5,418.6 2091.5,482.9 2091.5,322.1 2092.0,418.6 2092.0,322.1 2092.0,386.5 2092.5,322.1 2092.5,225.6 2092.5,418.6 2092.5,354.3 2093.0,418.6 2093.0,193.5 2093.0,418.6 2093.5,290.0 2093.5,450.8 2093.5,257.8 2093.5,450.8 2094.0,418.6 2094.0,482.9 2094.0,193.5 2094.5,290.0 2094.5,450.8 2095.0,386.5 2095.0,225.6 2095.0,515.1 2095.5,515.1 2095.5,225.6 2095.5,354.3 2096.0,354.3 2096.0,322.1 2096.0,482.9 2096.5,386.5 2096.5,354.3 2096.5,482.9 2096.5,418.6 2097.0,450.8 2097.0,322.1 2097.0,482.9 2097.5,386.5 2097.5,257.8 2097.5,418.6 2098.0,225.6 2098.0,482.9 2098.0,354.3 2098.5,290.0 2098.5,482.9 2098.5,354.3 2099.0,482.9 2099.0,290.0 2099.0,482.9 2099.5,354.3 2099.5,450.8 2099.5,290.0 2100.0,386.5 2100.0,450.8 2100.0,322.1 2100.5,418.6 2100.5,257.8 2100.5,386.5 2101.0,418.6 2101.0,257.8 2101.0,322.1 2101.5,386.5 2101.5,354.3 2101.5,482.9 2101.5,354.3 2102.0,386.5 2102.0,482.9 2102.0,225.6 2102.0,482.9 2102.5,225.6 2102.5,193.5 2102.5,515.1 2102.5,193.5 2103.0,257.8 2103.0,450.8 2103.5,418.6 2103.5,482.9 2103.5,257.8 2104.0,482.9 2104.0,322.1 2104.5,418.6 2104.5,290.0 2104.5,482.9 2104.5,322.1 2105.0,322.1 2105.0,482.9 2105.0,225.6 2105.5,418.6 2105.5,515.1 2105.5,225.6 2105.5,386.5 2106.0,482.9 2106.0,515.1 2106.0,257.8 2106.5,322.1 2106.5,482.9 2106.5,322.1"/></defs>
<g clip-path="url(#c2)"><use href="#pa" transform="translate(0.00 0.00)" fill="none" stroke="#0000ff" stroke-width="3.00" stroke-linejoin="round" stroke-linecap="square"/></g>
<rect x="1324.50" y="40.70" width="819.40" height="530.70" fill="none" stroke="#000" stroke-width="1.43"/>
<path d="M1361.75,571.40v6.26" stroke="#000" stroke-width="1.43"/>
<text x="1361.75" y="598.22" font-size="17.89" text-anchor="middle" fill="#000">0</text>
<path d="M1480.36,571.40v6.26" stroke="#000" stroke-width="1.43"/>
<text x="1480.36" y="598.22" font-size="17.89" text-anchor="middle" fill="#000">2000</text>
<path d="M1598.98,571.40v6.26" stroke="#000" stroke-width="1.43"/>
<text x="1598.98" y="598.22" font-size="17.89" text-anchor="middle" fill="#000">4000</text>
<path d="M1717.59,571.40v6.26" stroke="#000" stroke-width="1.43"/>
<text x="1717.59" y="598.22" font-size="17.89" text-anchor="middle" fill="#000">6000</text>
<path d="M1836.21,571.40v6.26" stroke="#000" stroke-width="1.43"/>
<text x="1836.21" y="598.22" font-size="17.89" text-anchor="middle" fill="#000">8000</text>
<path d="M1954.83,571.40v6.26" stroke="#000" stroke-width="1.43"/>
<text x="1954.83" y="598.22" font-size="17.89" text-anchor="middle" fill="#000">10000</text>
<path d="M2073.44,571.40v6.26" stroke="#000" stroke-width="1.43"/>
<text x="2073.44" y="598.22" font-size="17.89" text-anchor="middle" fill="#000">12000</text>
<path d="M1324.50,547.28h-6.26" stroke="#000" stroke-width="1.43"/>
<text x="1311.98" y="553.80" font-size="17.89" text-anchor="end" fill="#000">0.00</text>
<path d="M1324.50,470.08h-6.26" stroke="#000" stroke-width="1.43"/>
<text x="1311.98" y="476.61" font-size="17.89" text-anchor="end" fill="#000">0.05</text>
<path d="M1324.50,392.89h-6.26" stroke="#000" stroke-width="1.43"/>
<text x="1311.98" y="399.41" font-size="17.89" text-anchor="end" fill="#000">0.10</text>
<path d="M1324.50,315.70h-6.26" stroke="#000" stroke-width="1.43"/>
<text x="1311.98" y="322.22" font-size="17.89" text-anchor="end" fill="#000">0.15</text>
<path d="M1324.50,238.51h-6.26" stroke="#000" stroke-width="1.43"/>
<text x="1311.98" y="245.03" font-size="17.89" text-anchor="end" fill="#000">0.20</text>
<path d="M1324.50,161.31h-6.26" stroke="#000" stroke-width="1.43"/>
<text x="1311.98" y="167.83" font-size="17.89" text-anchor="end" fill="#000">0.25</text>
<path d="M1324.50,84.12h-6.26" stroke="#000" stroke-width="1.43"/>
<text x="1311.98" y="90.64" font-size="17.89" text-anchor="end" fill="#000">0.30</text>
<text x="1734.20" y="30.47" font-size="21.47" text-anchor="middle" fill="#000">Training and Validation Accuracy</text>
<text x="1734.20" y="622.69" font-size="17.89" text-anchor="middle" fill="#000">Iteration</text>
<text x="1260.90" y="306.65" font-size="17.89" text-anchor="middle" fill="#000" transform="rotate(-90 1260.90 306.65)">Accuracy</text>
<rect x="1614.50" y="50.20" width="238.50" height="58.50" rx="3.58" fill="#fff" fill-opacity="0.8" stroke="#d2d2d2" stroke-width="1.60"/>
<path d="M1621.66,64.80h35.78" stroke="#0000ff" stroke-width="2.90" stroke-linecap="square"/>
<text x="1671.74" y="71.00" font-size="17.89" text-anchor="start" fill="#000">Training Accuracy</text>
<path d="M1621.66,92.10h35.78" stroke="#ff0000" stroke-width="2.90" stroke-linecap="square"/>
<text x="1671.74" y="98.40" font-size="17.89" text-anchor="start" fill="#000">Validation Accuracy</text>
<path d="M445.37,674.95V1205.35" stroke="#b0b0b0" stroke-width="1.43"/>
<path d="M564.06,674.95V1205.35" stroke="#b0b0b0" stroke-width="1.43"/>
<path d="M682.75,674.95V1205.35" stroke="#b0b0b0" stroke-width="1.43"/>
<path d="M801.43,674.95V1205.35" stroke="#b0b0b0" stroke-width="1.43"/>
<path d="M920.12,674.95V1205.35" stroke="#b0b0b0" stroke-width="1.43"/>
<path d="M1038.81,674.95V1205.35" stroke="#b0b0b0" stroke-width="1.43"/>
<path d="M1157.50,674.95V1205.35" stroke="#b0b0b0" stroke-width="1.43"/>
<path d="M408.10,1040.69H1228.00" stroke="#b0b0b0" stroke-width="1.43"/>
<path d="M408.10,839.61H1228.00" stroke="#b0b0b0" stroke-width="1.43"/>
<path d="M445.4,1181.2 445.5,1177.8 445.6,1174.6 445.7,1171.4 445.8,1168.4 446.0,1165.4 446.1,1162.6 446.2,1159.9 446.3,1157.2 446.4,1154.6 446.6,1152.1 446.7,1149.6 446.8,1147.3 446.9,1144.9 447.0,1142.7 447.1,1140.5 447.3,1138.3 447.4,1136.2 447.5,1134.2 447.6,1132.2 447.7,1130.3 447.9,1128.3 448.0,1126.5 448.1,1124.6 448.2,1122.8 448.3,1121.1 448.5,1119.4 448.6,1117.7 448.7,1116.0 448.8,1114.4 448.9,1112.8 449.0,1111.2 449.2,1109.7 449.3,1108.2 449.4,1106.7 449.5,1105.2 449.6,1103.8 449.8,1102.4 449.9,1101.0 450.0,1099.6 450.1,1098.3 450.2,1096.9 450.4,1095.6 450.5,1094.3 450.6,1093.1 450.7,1091.8 450.8,1090.6 450.9,1089.4 451.1,1088.2 451.2,1087.0 451.3,1085.8 451.4,1084.7 451.5,1083.5 451.7,1082.4 451.8,1081.3 451.9,1080.2 452.0,1079.1 452.1,1078.0 452.3,1077.0 452.4,1075.9 452.5,1074.9 452.6,1073.9 452.7,1072.9 452.8,1071.9 453.0,1070.9 453.1,1069.9 453.2,1069.0 453.3,1068.0 453.4,1067.1 453.6,1066.1 453.7,1065.2 453.8,1064.3 453.9,1063.4 454.0,1062.5 454.2,1061.6 454.3,1060.8 454.4,1059.9 454.5,1059.0 454.6,1058.2 454.7,1057.3 454.9,1056.5 455.0,1055.7 455.1,1054.9 455.2,1054.0 455.3,1053.2 455.5,1052.4 455.6,1051.7 455.7,1050.9 455.8,1050.1 455.9,1049.3 456.1,1048.6 456.2,1047.8 456.3,1047.1 456.4,1046.3 456.5,1045.6 456.6,1044.9 456.8,1044.1 456.9,1043.4 457.0,1042.7 457.1,1042.0 457.2,1041.3 457.8,1037.9 458.4,1034.6 459.0,1031.4 459.6,1028.4 460.2,1025.4 460.8,1022.5 461.4,1019.8 462.0,1017.1 462.6,1014.5 463.2,1012.0 463.8,1009.5 464.4,1007.1 465.0,1004.8 465.5,1002.5 466.1,1000.3 466.7,998.2 467.3,996.1 467.9,994.0 468.5,992.0 469.1,990.0 469.7,988.1 470.3,986.2 470.9,984.4 471.5,982.6 472.1,980.9 472.7,979.1 473.3,977.4 473.9,975.8 474.4,974.1 475.0,972.5 475.6,971.0 476.2,969.4 476.8,967.9 477.4,966.4 478.0,964.9 478.6,963.5 479.2,962.1 479.8,960.7 480.4,959.3 481.0,958.0 481.6,956.6 482.2,955.3 482.8,954.0 483.3,952.7 483.9,951.5 484.5,950.3 485.1,949.0 485.7,947.8 486.3,946.6 486.9,945.5 487.5,944.3 488.1,943.2 488.7,942.0 489.3,940.9 489.9,939.8 490.5,938.8 491.1,937.7 491.7,936.6 492.3,935.6 492.8,934.5 493.4,933.5 494.0,932.5 494.6,931.5 495.2,930.5 495.8,929.6 496.4,928.6 497.0,927.6 497.6,926.7 498.2,925.8 498.8,924.8 499.4,923.9 500.0,923.0 500.6,922.1 501.2,921.2 501.7,920.4 502.3,919.5 502.9,918.6 503.5,917.8 504.1,916.9 504.7,916.1 507.1,912.8 509.5,909.7 511.8,906.7 514.2,903.7 516.6,900.9 519.0,898.1 521.3,895.5 523.7,892.9 526.1,890.4 528.5,887.9 530.8,885.5 533.2,883.2 535.6,881.0 537.9,878.8 540.3,876.6 542.7,874.5 545.1,872.5 547.4,870.5 549.8,868.6 552.2,866.7 554.6,864.8 556.9,863.0 559.3,861.2 561.7,859.4 564.1,857.7 566.4,856.0 568.8,854.3 571.2,852.7 573.6,851.1 575.9,849.6 578.3,848.0 580.7,846.5 583.0,845.0 585.4,843.6 587.8,842.1 590.2,840.7 592.5,839.3 594.9,838.0 597.3,836.6 599.7,835.3 602.0,834.0 604.4,832.7 606.8,831.4 609.2,830.2 611.5,828.9 613.9,827.7 616.3,826.5 618.7,825.3 621.0,824.2 623.4,823.0 625.8,821.9 628.1,820.7 630.5,819.6 632.9,818.5 635.3,817.5 637.6,816.4 640.0,815.3 642.4,814.3 644.8,813.3 647.1,812.2 649.5,811.2 651.9,810.2 654.3,809.3 656.6,808.3 659.0,807.3 661.4,806.4 663.8,805.4 666.1,804.5 668.5,803.6 670.9,802.7 673.3,801.8 675.6,800.9 678.0,800.0 680.4,799.1 682.7,798.2 685.1,797.4 687.5,796.5 689.9,795.7 692.2,794.9 694.6,794.0 697.0,793.2 699.4,792.4 701.7,791.6 704.1,790.8 706.5,790.0 708.9,789.2 711.2,788.5 713.6,787.7 716.0,786.9 718.4,786.2 720.7,785.4 723.1,784.7 725.5,784.0 727.8,783.2 730.2,782.5 732.6,781.8 735.0,781.1 737.3,780.4 739.7,779.7 742.1,779.0 744.5,778.3 746.8,777.6 749.2,776.9 751.6,776.2 754.0,775.6 756.3,774.9 758.7,774.3 761.1,773.6 763.5,773.0 765.8,772.3 768.2,771.7 770.6,771.0 772.9,770.4 775.3,769.8 777.7,769.2 780.1,768.5 782.4,767.9 784.8,767.3 787.2,766.7 789.6,766.1 791.9,765.5 794.3,764.9 796.7,764.4 799.1,763.8 801.4,763.2 803.8,762.6 806.2,762.0 808.6,761.5 810.9,760.9 813.3,760.4 815.7,759.8 818.0,759.2 820.4,758.7 822.8,758.1 825.2,757.6 827.5,757.1 829.9,756.5 832.3,756.0 834.7,755.5 837.0,754.9 839.4,754.4 841.8,753.9 844.2,753.4 846.5,752.9 848.9,752.3 851.3,751.8 853.7,751.3 856.0,750.8 858.4,750.3 860.8,749.8 863.2,749.3 865.5,748.8 867.9,748.4 870.3,747.9 872.6,747.4 875.0,746.9 877.4,746.4 879.8,746.0 882.1,745.5 884.5,745.0 886.9,744.5 889.3,744.1 891.6,743.6 894.0,743.2 896.4,742.7 898.8,742.2 901.1,741.8 903.5,741.3 905.9,740.9 908.3,740.4 910.6,740.0 913.0,739.6 915.4,739.1 917.7,738.7 920.1,738.3 922.5,737.8 924.9,737.4 927.2,737.0 929.6,736.5 932.0,736.1 934.4,735.7 936.7,735.3 939.1,734.8 941.5,734.4 943.9,734.0 946.2,733.6 948.6,733.2 951.0,732.8 953.4,732.4 955.7,732.0 958.1,731.6 960.5,731.2 962.8,730.8 965.2,730.4 967.6,730.0 970.0,729.6 972.3,729.2 974.7,728.8 977.1,728.4 979.5,728.0 981.8,727.6 984.2,727.3 986.6,726.9 989.0,726.5 991.3,726.1 993.7,725.7 996.1,725.4 998.5,725.0 1000.8,724.6 1003.2,724.3 1005.6,723.9 1008.0,723.5 1010.3,723.1 1012.7,722.8 1015.1,722.4 1017.4,722.1 1019.8,721.7 1022.2,721.3 1024.6,721.0 1026.9,720.6 1029.3,720.3 1031.7,719.9 1034.1,719.6 1036.4,719.2 1038.8,718.9 1041.2,718.5 1043.6,718.2 1045.9,717.8 1048.3,717.5 1050.7,717.2 1053.1,716.8 1055.4,716.5 1057.8,716.1 1060.2,715.8 1062.5,715.5 1064.9,715.1 1067.3,714.8 1069.7,714.5 1072.0,714.1 1074.4,713.8 1076.8,713.5 1079.2,713.2 1081.5,712.8 1083.9,712.5 1086.3,712.2 1088.7,711.9 1091.0,711.5 1093.4,711.2 1095.8,710.9 1098.2,710.6 1100.5,710.3 1102.9,710.0 1105.3,709.6 1107.6,709.3 1110.0,709.0 1112.4,708.7 1114.8,708.4 1117.1,708.1 1119.5,707.8 1121.9,707.5 1124.3,707.2 1126.6,706.9 1129.0,706.6 1131.4,706.3 1133.8,706.0 1136.1,705.7 1138.5,705.4 1140.9,705.1 1143.3,704.8 1145.6,704.5 1148.0,704.2 1150.4,703.9 1152.8,703.6 1155.1,703.3 1157.5,703.0 1159.9,702.7 1162.2,702.4 1164.6,702.2 1167.0,701.9 1169.4,701.6 1171.7,701.3 1174.1,701.0 1176.5,700.7 1178.9,700.5 1181.2,700.2 1183.6,699.9 1186.0,699.6 1188.4,699.3 1190.7,699.1" fill="none" stroke="#008000" stroke-width="2.72" stroke-linejoin="round" stroke-linecap="square" clip-path="url(#c3)"/>
<rect x="408.10" y="674.95" width="819.90" height="530.40" fill="none" stroke="#000" stroke-width="1.43"/>
<path d="M445.37,1205.35v6.26" stroke="#000" stroke-width="1.43"/>
<text x="445.37" y="1232.17" font-size="17.89" text-anchor="middle" fill="#000">0</text>
<path d="M564.06,1205.35v6.26" stroke="#000" stroke-width="1.43"/>
<text x="564.06" y="1232.17" font-size="17.89" text-anchor="middle" fill="#000">2000</text>
<path d="M682.75,1205.35v6.26" stroke="#000" stroke-width="1.43"/>
<text x="682.75" y="1232.17" font-size="17.89" text-anchor="middle" fill="#000">4000</text>
<path d="M801.43,1205.35v6.26" stroke="#000" stroke-width="1.43"/>
<text x="801.43" y="1232.17" font-size="17.89" text-anchor="middle" fill="#000">6000</text>
<path d="M920.12,1205.35v6.26" stroke="#000" stroke-width="1.43"/>
<text x="920.12" y="1232.17" font-size="17.89" text-anchor="middle" fill="#000">8000</text>
<path d="M1038.81,1205.35v6.26" stroke="#000" stroke-width="1.43"/>
<text x="1038.81" y="1232.17" font-size="17.89" text-anchor="middle" fill="#000">10000</text>
<path d="M1157.50,1205.35v6.26" stroke="#000" stroke-width="1.43"/>
<text x="1157.50" y="1232.17" font-size="17.89" text-anchor="middle" fill="#000">12000</text>
<path d="M408.10,1040.69h-6.26" stroke="#000" stroke-width="1.43"/>
<text x="395.08" y="1048.49" font-size="17.89" text-anchor="end" fill="#000">10<tspan dy="-7.5" font-size="12.52">−6</tspan></text>
<path d="M408.10,839.61h-6.26" stroke="#000" stroke-width="1.43"/>
<text x="395.08" y="847.41" font-size="17.89" text-anchor="end" fill="#000">10<tspan dy="-7.5" font-size="12.52">−5</tspan></text>
<path d="M408.10,1181.24h-3.58" stroke="#000" stroke-width="1.07"/>
<path d="M408.10,1145.83h-3.58" stroke="#000" stroke-width="1.07"/>
<path d="M408.10,1120.71h-3.58" stroke="#000" stroke-width="1.07"/>
<path d="M408.10,1101.22h-3.58" stroke="#000" stroke-width="1.07"/>
<path d="M408.10,1085.30h-3.58" stroke="#000" stroke-width="1.07"/>
<path d="M408.10,1071.84h-3.58" stroke="#000" stroke-width="1.07"/>
<path d="M408.10,1060.18h-3.58" stroke="#000" stroke-width="1.07"/>
<path d="M408.10,1049.89h-3.58" stroke="#000" stroke-width="1.07"/>
<path d="M408.10,980.16h-3.58" stroke="#000" stroke-width="1.07"/>
<path d="M408.10,944.75h-3.58" stroke="#000" stroke-width="1.07"/>
<path d="M408.10,919.63h-3.58" stroke="#000" stroke-width="1.07"/>
<path d="M408.10,900.14h-3.58" stroke="#000" stroke-width="1.07"/>
<path d="M408.10,884.22h-3.58" stroke="#000" stroke-width="1.07"/>
<path d="M408.10,870.76h-3.58" stroke="#000" stroke-width="1.07"/>
<path d="M408.10,859.10h-3.58" stroke="#000" stroke-width="1.07"/>
<path d="M408.10,848.81h-3.58" stroke="#000" stroke-width="1.07"/>
<path d="M408.10,779.08h-3.58" stroke="#000" stroke-width="1.07"/>
<path d="M408.10,743.67h-3.58" stroke="#000" stroke-width="1.07"/>
<path d="M408.10,718.55h-3.58" stroke="#000" stroke-width="1.07"/>
<path d="M408.10,699.06h-3.58" stroke="#000" stroke-width="1.07"/>
<path d="M408.10,683.14h-3.58" stroke="#000" stroke-width="1.07"/>
<text x="818.05" y="664.22" font-size="21.47" text-anchor="middle" fill="#000">Learning Rate Schedule</text>
<text x="818.05" y="1256.64" font-size="17.89" text-anchor="middle" fill="#000">Iteration</text>
<text x="343.10" y="940.15" font-size="17.89" text-anchor="middle" fill="#000" transform="rotate(-90 343.10 940.15)">Learning Rate</text>
<path d="M1361.75,674.95V1205.35" stroke="#b0b0b0" stroke-width="1.43"/>
<path d="M1480.36,674.95V1205.35" stroke="#b0b0b0" stroke-width="1.43"/>
<path d="M1598.98,674.95V1205.35" stroke="#b0b0b0" stroke-width="1.43"/>
<path d="M1717.59,674.95V1205.35" stroke="#b0b0b0" stroke-width="1.43"/>
<path d="M1836.21,674.95V1205.35" stroke="#b0b0b0" stroke-width="1.43"/>
<path d="M1954.83,674.95V1205.35" stroke="#b0b0b0" stroke-width="1.43"/>
<path d="M2073.44,674.95V1205.35" stroke="#b0b0b0" stroke-width="1.43"/>
<path d="M1324.50,1155.41H2143.90" stroke="#b0b0b0" stroke-width="1.43"/>
<path d="M1324.50,1088.85H2143.90" stroke="#b0b0b0" stroke-width="1.43"/>
<path d="M1324.50,1022.28H2143.90" stroke="#b0b0b0" stroke-width="1.43"/>
<path d="M1324.50,955.71H2143.90" stroke="#b0b0b0" stroke-width="1.43"/>
<path d="M1324.50,889.15H2143.90" stroke="#b0b0b0" stroke-width="1.43"/>
<path d="M1324.50,822.58H2143.90" stroke="#b0b0b0" stroke-width="1.43"/>
<path d="M1324.50,756.01H2143.90" stroke="#b0b0b0" stroke-width="1.43"/>
<path d="M1324.50,689.45H2143.90" stroke="#b0b0b0" stroke-width="1.43"/>
<g clip-path="url(#c4)"><use href="#pl" transform="translate(916.40 634.25)" fill="none" stroke="#0000ff" stroke-width="3.00" stroke-linejoin="round" stroke-linecap="square"/></g>
<rect x="1988.90" y="683.70" width="145.70" height="59.50" rx="3.58" fill="#fff" fill-opacity="0.8" stroke="#d2d2d2" stroke-width="1.60"/>
<path d="M1996.06,698.60h35.78" stroke="#0000ff" stroke-width="2.90" stroke-linecap="square"/>
<text x="2046.14" y="704.80" font-size="17.89" text-anchor="start" fill="#000">Loss</text>
<path d="M1996.06,725.90h35.78" stroke="#ff0000" stroke-width="2.90" stroke-linecap="square"/>
<text x="2046.14" y="732.20" font-size="17.89" text-anchor="start" fill="#000">Accuracy</text>
<g clip-path="url(#c4)"><use href="#pa" transform="translate(0.00 634.25)" fill="none" stroke="#ff0000" stroke-width="3.00" stroke-linejoin="round" stroke-linecap="square"/></g>
<rect x="1324.50" y="674.95" width="819.40" height="530.40" fill="none" stroke="#000" stroke-width="1.43"/>
<path d="M1361.75,1205.35v6.26" stroke="#000" stroke-width="1.43"/>
<text x="1361.75" y="1232.17" font-size="17.89" text-anchor="middle" fill="#000">0</text>
<path d="M1480.36,1205.35v6.26" stroke="#000" stroke-width="1.43"/>
<text x="1480.36" y="1232.17" font-size="17.89" text-anchor="middle" fill="#000">2000</text>
<path d="M1598.98,1205.35v6.26" stroke="#000" stroke-width="1.43"/>
<text x="1598.98" y="1232.17" font-size="17.89" text-anchor="middle" fill="#000">4000</text>
<path d="M1717.59,1205.35v6.26" stroke="#000" stroke-width="1.43"/>
<text x="1717.59" y="1232.17" font-size="17.89" text-anchor="middle" fill="#000">6000</text>
<path d="M1836.21,1205.35v6.26" stroke="#000" stroke-width="1.43"/>
<text x="1836.21" y="1232.17" font-size="17.89" text-anchor="middle" fill="#000">8000</text>
<path d="M1954.83,1205.35v6.26" stroke="#000" stroke-width="1.43"/>
<text x="1954.83" y="1232.17" font-size="17.89" text-anchor="middle" fill="#000">10000</text>
<path d="M2073.44,1205.35v6.26" stroke="#000" stroke-width="1.43"/>
<text x="2073.44" y="1232.17" font-size="17.89" text-anchor="middle" fill="#000">12000</text>
<path d="M1324.50,1155.41h-6.26" stroke="#000" stroke-width="1.43"/>
<text x="1311.98" y="1161.93" font-size="17.89" text-anchor="end" fill="#000">3.5</text>
<path d="M1324.50,1088.85h-6.26" stroke="#000" stroke-width="1.43"/>
<text x="1311.98" y="1095.37" font-size="17.89" text-anchor="end" fill="#000">4.0</text>
<path d="M1324.50,1022.28h-6.26" stroke="#000" stroke-width="1.43"/>
<text x="1311.98" y="1028.80" font-size="17.89" text-anchor="end" fill="#000">4.5</text>
<path d="M1324.50,955.71h-6.26" stroke="#000" stroke-width="1.43"/>
<text x="1311.98" y="962.23" font-size="17.89" text-anchor="end" fill="#000">5.0</text>
<path d="M1324.50,889.15h-6.26" stroke="#000" stroke-width="1.43"/>
<text x="1311.98" y="895.67" font-size="17.89" text-anchor="end" fill="#000">5.5</text>
<path d="M1324.50,822.58h-6.26" stroke="#000" stroke-width="1.43"/>
<text x="1311.98" y="829.10" font-size="17.89" text-anchor="end" fill="#000">6.0</text>
<path d="M1324.50,756.01h-6.26" stroke="#000" stroke-width="1.43"/>
<text x="1311.98" y="762.53" font-size="17.89" text-anchor="end" fill="#000">6.5</text>
<path d="M1324.50,689.45h-6.26" stroke="#000" stroke-width="1.43"/>
<text x="1311.98" y="695.97" font-size="17.89" text-anchor="end" fill="#000">7.0</text>
<path d="M2143.90,1181.24h6.26" stroke="#000" stroke-width="1.43"/>
<text x="2156.42" y="1187.76" font-size="17.89" text-anchor="start" fill="#000">0.00</text>
<path d="M2143.90,1104.09h6.26" stroke="#000" stroke-width="1.43"/>
<text x="2156.42" y="1110.61" font-size="17.89" text-anchor="start" fill="#000">0.05</text>
<path d="M2143.90,1026.94h6.26" stroke="#000" stroke-width="1.43"/>
<text x="2156.42" y="1033.46" font-size="17.89" text-anchor="start" fill="#000">0.10</text>
<path d="M2143.90,949.79h6.26" stroke="#000" stroke-width="1.43"/>
<text x="2156.42" y="956.31" font-size="17.89" text-anchor="start" fill="#000">0.15</text>
<path d="M2143.90,872.64h6.26" stroke="#000" stroke-width="1.43"/>
<text x="2156.42" y="879.17" font-size="17.89" text-anchor="start" fill="#000">0.20</text>
<path d="M2143.90,795.50h6.26" stroke="#000" stroke-width="1.43"/>
<text x="2156.42" y="802.02" font-size="17.89" text-anchor="start" fill="#000">0.25</text>
<path d="M2143.90,718.35h6.26" stroke="#000" stroke-width="1.43"/>
<text x="2156.42" y="724.87" font-size="17.89" text-anchor="start" fill="#000">0.30</text>
<text x="1734.20" y="664.22" font-size="21.47" text-anchor="middle" fill="#000">Training Loss and Accuracy</text>
<text x="1734.20" y="1256.64" font-size="17.89" text-anchor="middle" fill="#000">Iteration</text>
<text x="1273.70" y="942.45" font-size="17.89" text-anchor="middle" fill="#0000ff" transform="rotate(-90 1273.70 942.45)">Loss</text>
<text x="2217.50" y="940.15" font-size="17.89" text-anchor="middle" fill="#ff0000" transform="rotate(-90 2217.50 940.15)">Accuracy</text>
<text transform="translate(2431.5 1265.7) scale(0.707 1)" font-family="Liberation Sans,sans-serif" style="font-family:'Liberation Sans',sans-serif" font-weight="bold" font-size="35.5" clip-path="url(#cw)" fill="#ff0000" stroke="#ff0000" stroke-width="1.6" stroke-linejoin="round">cxy5.com</text>
</svg>

</body></html>
